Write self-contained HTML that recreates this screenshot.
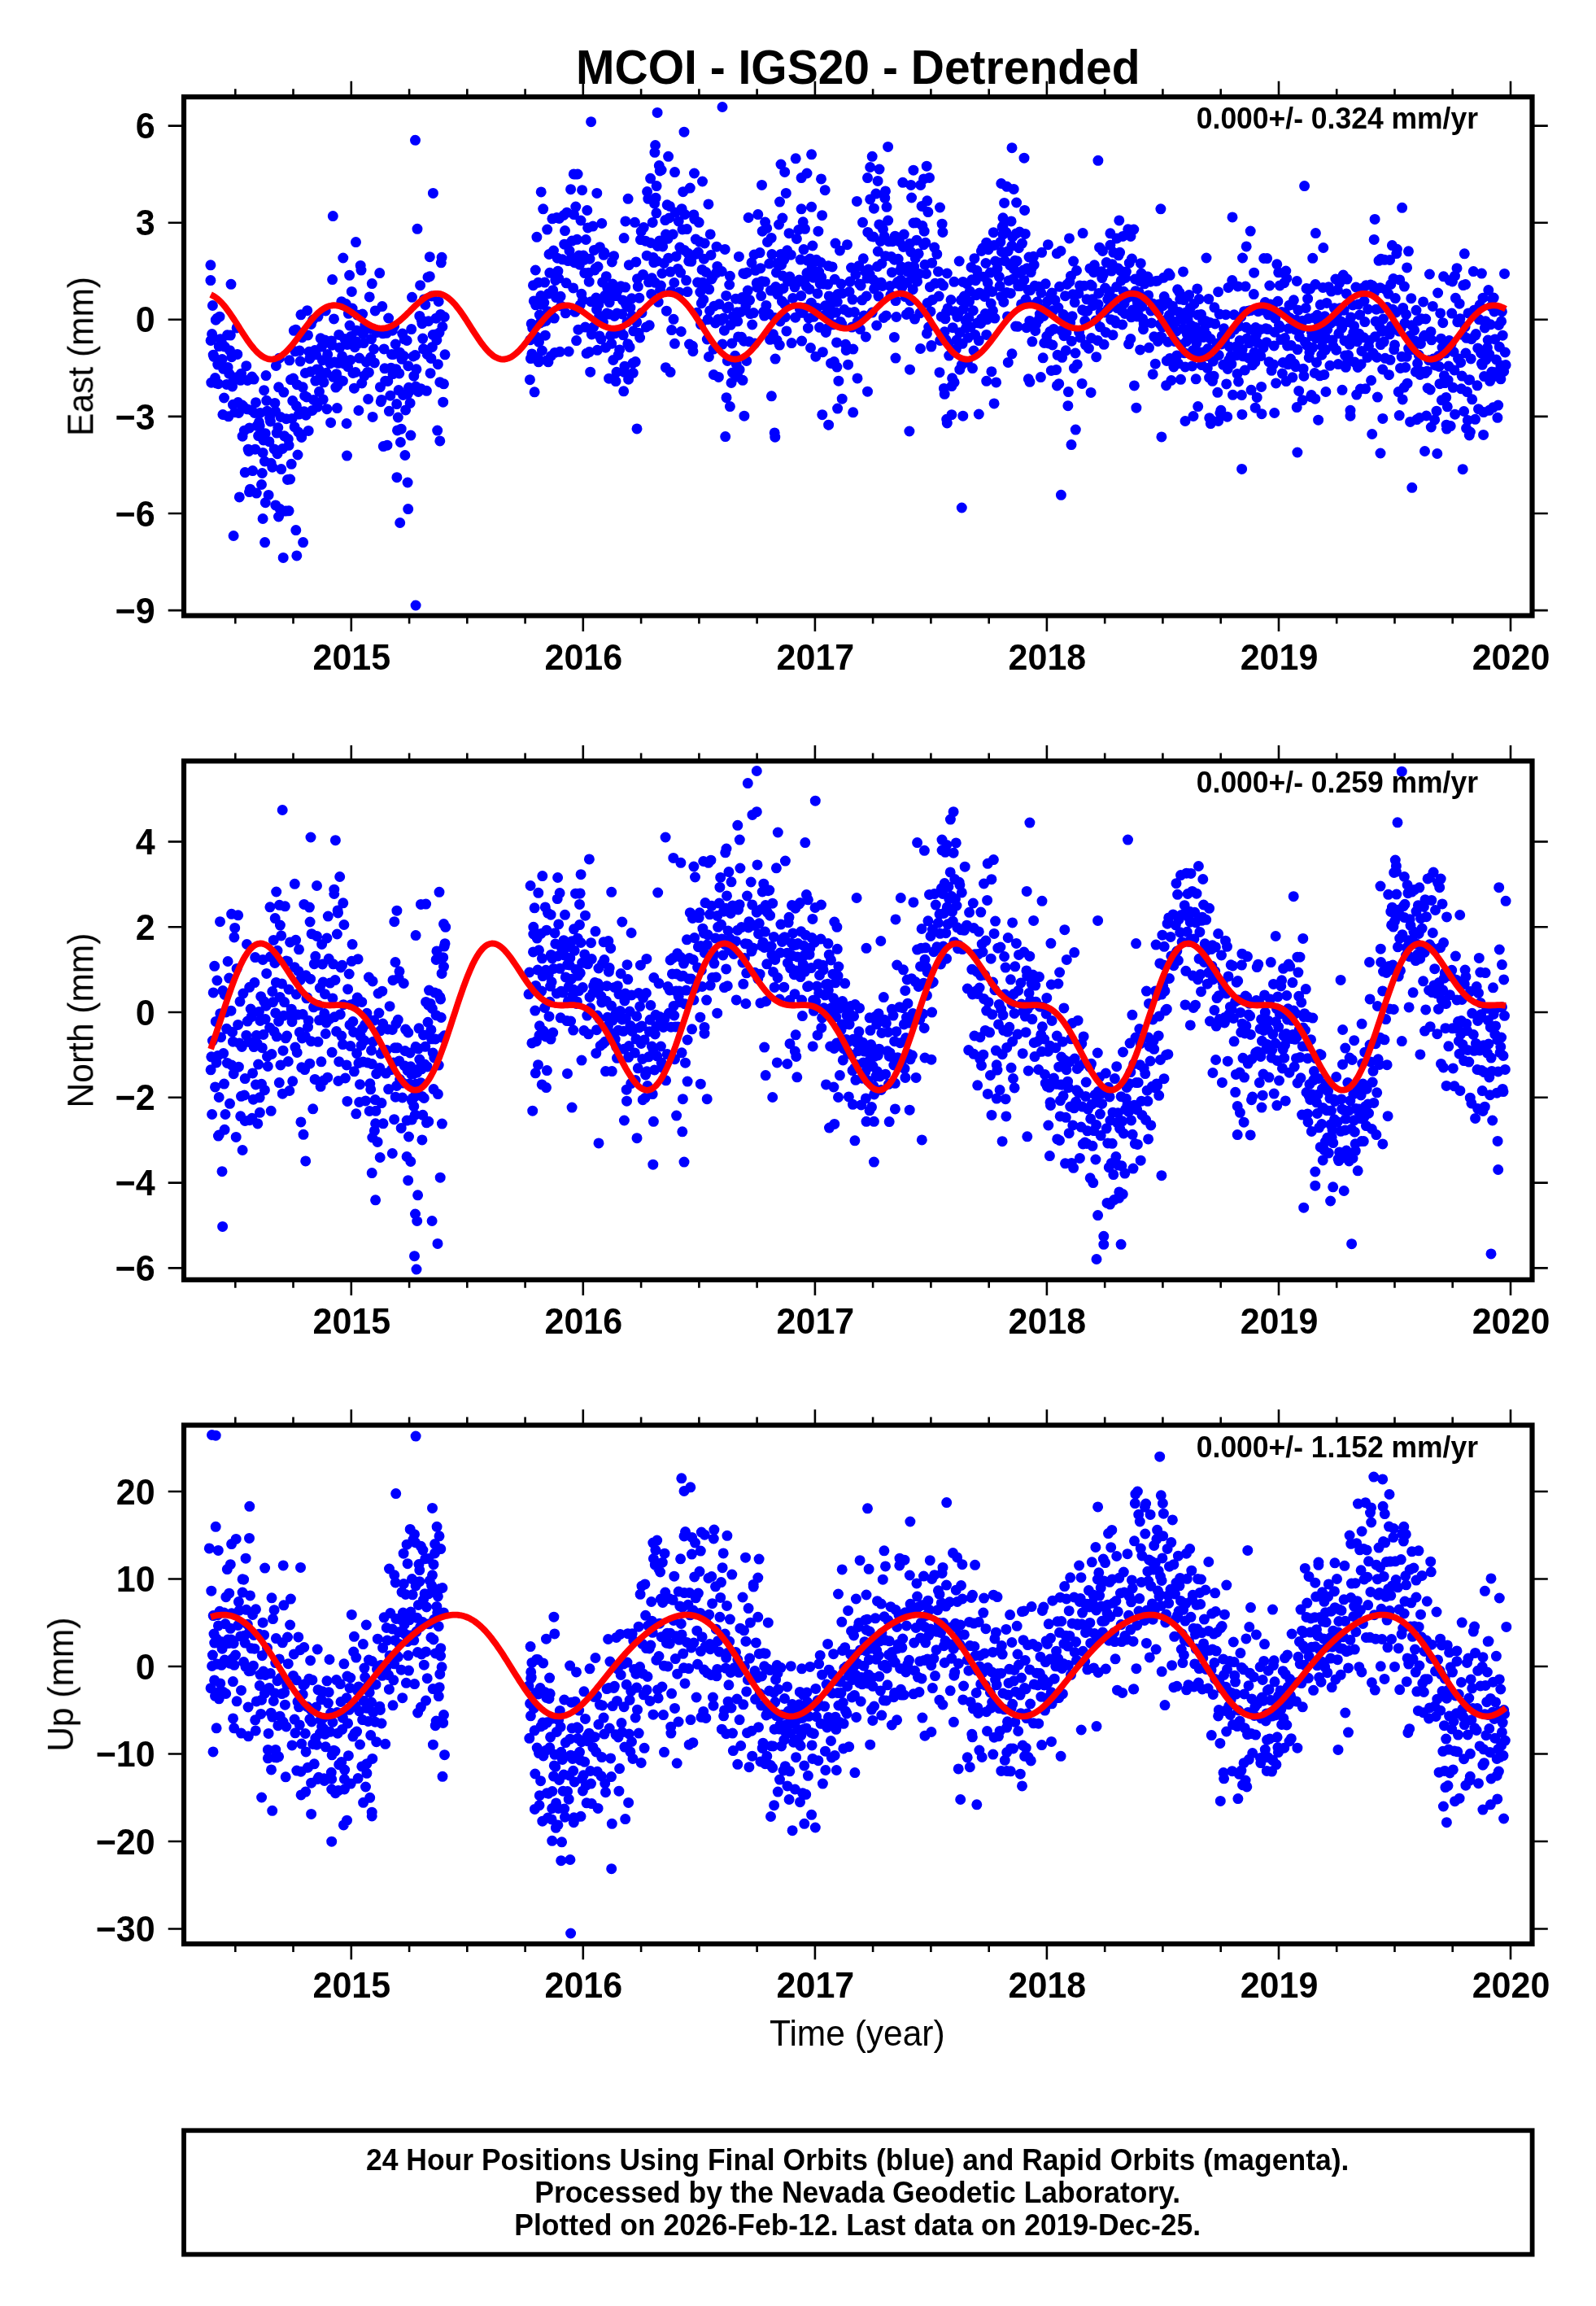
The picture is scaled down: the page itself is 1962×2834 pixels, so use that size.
<!DOCTYPE html>
<html><head><meta charset="utf-8"><title>MCOI - IGS20 - Detrended</title>
<style>html,body{margin:0;padding:0;background:#fff}svg{display:block}text{font-family:"Liberation Sans",sans-serif;fill:#000}.b{font-weight:bold}</style></head>
<body><svg width="1962" height="2834" viewBox="0 0 1962 2834">
<rect width="1962" height="2834" fill="#fff"/>

<g id="panel1">
<path d="M259.1 418.5h0M259.8 470.2h0M260.6 410.5h0M261.4 375.5h0M262.2 436.2h0M263.0 438.4h0M264.5 464.5h0M265.3 393.2h0M266.1 470.9h0M266.9 391.2h0M267.7 448.1h0M268.4 471.7h0M269.2 425.6h0M270.0 389.2h0M270.8 416.7h0M271.6 444.0h0M272.3 421.0h0M273.1 441.6h0M273.9 509.5h0M274.7 453.3h0M275.5 489.0h0M276.2 426.1h0M278.6 472.4h0M279.4 411.8h0M280.1 451.4h0M280.9 511.8h0M281.7 459.2h0M282.5 430.7h0M283.3 412.1h0M284.8 438.7h0M285.6 475.0h0M286.4 497.3h0M287.2 467.1h0M288.7 506.7h0M290.3 463.7h0M291.1 402.9h0M291.8 435.4h0M292.6 494.5h0M293.4 507.5h0M294.2 463.1h0M295.7 467.3h0M296.5 459.2h0M297.3 497.7h0M298.1 536.2h0M298.9 499.1h0M300.4 529.2h0M301.2 580.6h0M302.8 449.7h0M303.5 502.7h0M304.3 467.4h0M305.1 552.2h0M305.9 554.4h0M306.7 525.9h0M307.5 601.2h0M309.0 504.0h0M309.8 463.1h0M310.6 578.6h0M312.1 466.1h0M312.9 507.4h0M313.7 552.2h0M314.5 494.7h0M315.3 606.1h0M316.0 523.3h0M317.6 535.6h0M318.4 518.8h0M319.2 523.4h0M319.9 507.4h0M321.5 595.5h0M322.3 581.5h0M323.1 556.4h0M323.8 541.0h0M324.6 479.7h0M325.4 567.0h0M326.2 532.7h0M327.0 461.6h0M327.7 492.3h0M328.5 505.2h0M330.1 608.4h0M330.9 542.7h0M331.6 513.4h0M332.4 518.0h0M333.2 569.3h0M334.8 574.2h0M337.1 551.9h0M337.9 495.4h0M338.7 505.5h0M339.4 449.5h0M340.2 532.1h0M341.0 557.7h0M341.8 525.5h0M342.6 475.8h0M343.3 440.2h0M344.1 625.5h0M344.9 512.5h0M345.7 576.6h0M347.3 551.5h0M348.8 482.1h0M349.6 535.8h0M351.2 628.1h0M351.9 514.7h0M353.5 589.4h0M354.3 539.6h0M355.1 547.3h0M355.8 442.8h0M356.6 589.0h0M357.4 466.6h0M358.2 570.3h0M359.0 514.4h0M359.7 492.6h0M360.5 465.0h0M361.3 406.3h0M362.1 524.7h0M362.9 431.8h0M363.6 405.2h0M364.4 498.9h0M365.2 472.7h0M366.0 559.0h0M366.8 531.0h0M367.5 509.1h0M368.3 431.1h0M369.1 444.1h0M369.9 386.8h0M370.7 537.4h0M371.4 414.7h0M372.2 475.8h0M373.8 505.7h0M374.6 486.5h0M375.3 458.5h0M376.1 510.2h0M376.9 487.9h0M377.7 381.7h0M378.5 411.9h0M379.2 529.4h0M380.0 432.3h0M380.8 440.7h0M381.6 456.8h0M382.4 398.5h0M383.9 504.4h0M384.7 393.0h0M385.5 491.5h0M387.1 430.6h0M387.8 468.1h0M388.6 435.8h0M389.4 454.1h0M390.2 500.1h0M391.0 389.1h0M391.7 454.2h0M392.5 481.3h0M393.3 464.4h0M394.1 415.8h0M395.6 426.1h0M396.4 442.7h0M397.2 490.9h0M398.0 469.8h0M399.5 418.0h0M400.3 381.9h0M401.1 458.2h0M401.9 502.7h0M402.7 435.6h0M405.8 446.7h0M406.6 519.4h0M407.3 419.0h0M408.1 424.2h0M409.7 463.3h0M410.5 391.9h0M411.2 445.1h0M412.8 476.1h0M413.6 459.7h0M414.4 501.6h0M415.1 474.0h0M415.9 446.3h0M416.7 411.4h0M417.5 427.3h0M418.3 467.6h0M419.8 370.7h0M420.6 437.8h0M421.4 468.2h0M422.9 446.9h0M423.7 416.5h0M425.3 373.5h0M426.1 520.5h0M426.9 423.5h0M427.6 450.6h0M428.4 385.3h0M430.0 400.1h0M430.8 442.5h0M431.5 413.4h0M432.3 358.4h0M433.1 379.1h0M433.9 458.4h0M435.4 477.2h0M436.2 426.7h0M437.0 457.5h0M437.8 419.8h0M438.6 406.2h0M439.3 387.1h0M440.1 422.1h0M440.9 504.5h0M441.7 440.1h0M443.2 326.4h0M444.0 332.1h0M444.8 471.0h0M445.6 386.0h0M446.4 410.5h0M447.1 421.6h0M447.9 461.8h0M448.7 399.6h0M450.3 444.8h0M451.8 457.4h0M452.6 490.5h0M453.4 457.7h0M454.2 364.9h0M454.9 403.7h0M455.7 439.3h0M456.5 416.6h0M457.3 348.6h0M458.1 512.4h0M459.6 429.0h0M460.4 445.9h0M461.2 381.9h0M462.7 408.7h0M466.7 335.6h0M467.4 475.7h0M468.2 493.7h0M469.0 491.4h0M469.8 376.6h0M470.6 409.8h0M471.3 548.6h0M472.1 428.9h0M472.9 452.8h0M473.7 468.2h0M475.2 409.3h0M476.0 547.2h0M476.8 468.4h0M477.6 391.0h0M478.4 505.3h0M479.9 486.2h0M480.7 452.2h0M481.5 435.4h0M482.3 406.2h0M483.0 459.6h0M483.8 435.4h0M484.6 401.0h0M486.2 423.0h0M486.9 453.7h0M487.7 496.6h0M488.5 528.9h0M489.3 513.0h0M490.1 479.6h0M490.8 458.9h0M491.6 433.3h0M492.4 543.5h0M493.2 527.2h0M494.0 441.3h0M494.7 410.1h0M495.5 485.4h0M496.3 437.5h0M497.1 416.8h0M497.9 559.5h0M498.6 503.9h0M500.2 418.5h0M501.0 484.5h0M501.8 449.7h0M502.5 476.3h0M503.3 481.0h0M504.1 495.4h0M504.9 535.1h0M505.7 404.6h0M506.5 365.3h0M508.0 438.0h0M508.8 462.2h0M510.4 436.6h0M511.1 475.1h0M511.9 453.8h0M514.3 481.5h0M515.8 388.4h0M516.6 350.7h0M517.4 477.7h0M518.2 393.4h0M518.9 397.7h0M519.7 416.1h0M520.5 428.8h0M521.3 367.9h0M522.8 374.4h0M524.4 480.3h0M525.2 435.5h0M526.0 340.7h0M526.7 394.7h0M528.3 339.7h0M529.1 458.7h0M529.9 440.4h0M530.6 364.0h0M531.4 426.4h0M532.2 411.5h0M534.5 411.3h0M536.1 391.2h0M536.9 417.9h0M537.7 529.1h0M538.4 447.7h0M539.2 370.5h0M540.0 409.0h0M540.8 469.7h0M541.6 386.4h0M542.3 322.8h0M543.1 316.3h0M543.9 401.5h0M544.7 494.2h0M545.5 471.8h0M546.3 389.5h0M547.0 435.8h0M651.6 417.8h0M652.4 440.6h0M653.2 397.9h0M653.9 434.9h0M654.7 403.2h0M655.5 350.7h0M656.3 369.9h0M657.1 481.8h0M658.6 374.8h0M659.4 414.0h0M661.0 439.1h0M661.8 347.2h0M662.5 420.3h0M663.3 387.1h0M664.1 396.9h0M664.9 363.5h0M665.7 374.3h0M666.4 431.0h0M667.2 370.3h0M668.0 395.2h0M668.8 372.1h0M669.6 347.1h0M670.3 412.2h0M671.1 394.3h0M671.9 443.0h0M672.7 282.1h0M673.5 382.7h0M674.2 361.0h0M675.0 312.5h0M675.8 335.3h0M677.4 437.5h0M678.1 388.4h0M678.9 268.8h0M679.7 356.7h0M680.5 308.0h0M681.3 391.1h0M682.0 433.4h0M682.8 344.4h0M683.6 365.6h0M684.4 267.5h0M685.2 317.2h0M685.9 333.2h0M686.7 342.0h0M687.5 268.5h0M688.3 432.3h0M689.1 364.3h0M689.8 376.1h0M691.4 318.8h0M693.0 264.5h0M693.7 300.2h0M694.5 283.6h0M695.3 384.8h0M696.1 347.8h0M696.9 261.2h0M698.4 320.6h0M699.2 432.0h0M700.0 308.2h0M701.6 232.7h0M702.3 317.3h0M703.1 296.1h0M704.7 353.9h0M705.5 263.6h0M706.2 322.7h0M707.0 383.3h0M707.8 254.1h0M708.6 418.6h0M709.4 294.3h0M710.1 214.0h0M710.9 405.2h0M711.7 314.1h0M712.5 325.2h0M713.3 374.6h0M714.0 271.0h0M714.8 361.3h0M715.6 233.7h0M716.4 368.8h0M717.2 314.0h0M717.9 319.4h0M718.7 335.6h0M719.5 402.1h0M720.3 294.5h0M721.1 434.3h0M721.8 258.5h0M722.6 279.9h0M723.4 335.3h0M724.2 346.2h0M725.0 318.2h0M725.7 457.2h0M726.5 370.7h0M727.3 411.0h0M728.9 278.1h0M729.6 402.1h0M730.4 307.4h0M731.2 331.9h0M732.0 329.8h0M732.8 366.0h0M733.5 380.4h0M734.3 430.3h0M735.1 327.8h0M735.9 374.2h0M736.7 388.0h0M737.4 303.7h0M738.2 368.2h0M739.0 416.8h0M739.8 274.5h0M740.6 346.9h0M741.4 396.1h0M742.1 313.3h0M742.9 310.6h0M743.7 363.3h0M744.5 427.2h0M745.3 339.7h0M746.0 385.1h0M746.8 354.0h0M748.4 386.1h0M749.2 371.6h0M749.9 359.6h0M750.7 412.3h0M751.5 357.3h0M752.3 321.9h0M753.1 349.1h0M753.8 442.5h0M754.6 314.7h0M755.4 388.4h0M756.2 409.7h0M757.0 468.6h0M757.7 363.6h0M758.5 385.1h0M759.3 357.0h0M760.1 436.4h0M761.6 429.9h0M762.4 405.3h0M763.2 351.8h0M764.8 385.9h0M765.5 368.9h0M766.3 411.8h0M767.1 292.6h0M767.9 450.2h0M768.7 353.1h0M769.4 374.1h0M770.2 375.2h0M771.0 395.7h0M771.8 422.7h0M772.6 466.2h0M773.3 325.7h0M774.1 426.7h0M774.9 378.2h0M776.5 366.8h0M777.2 388.3h0M778.0 446.3h0M778.8 406.8h0M780.4 273.3h0M781.2 444.6h0M781.9 321.9h0M782.7 395.8h0M783.5 342.7h0M784.3 352.2h0M785.1 409.2h0M785.8 366.2h0M786.6 415.0h0M787.4 294.6h0M788.2 284.3h0M789.0 384.4h0M790.5 337.4h0M791.3 279.6h0M793.6 296.2h0M794.4 402.0h0M795.2 314.2h0M796.8 244.3h0M797.5 346.8h0M798.3 399.8h0M799.9 298.5h0M800.7 361.4h0M801.4 341.8h0M802.2 273.4h0M803.0 316.4h0M803.8 322.6h0M804.6 250.2h0M805.3 347.3h0M806.1 243.2h0M806.9 261.8h0M807.7 321.0h0M808.5 302.5h0M809.2 371.2h0M810.8 295.9h0M811.6 355.8h0M812.4 351.0h0M813.1 209.0h0M813.9 336.0h0M814.7 302.9h0M816.3 323.4h0M817.8 270.6h0M818.6 288.1h0M819.4 382.2h0M820.2 251.8h0M821.0 293.3h0M821.7 317.2h0M822.5 268.0h0M823.3 253.4h0M824.1 334.1h0M824.9 358.2h0M825.6 405.6h0M827.2 288.0h0M828.0 392.3h0M828.8 347.5h0M829.5 211.6h0M830.3 261.2h0M831.1 315.2h0M833.4 330.4h0M834.2 272.0h0M835.0 359.2h0M835.8 304.0h0M836.6 335.1h0M837.3 407.5h0M838.1 256.7h0M838.9 281.9h0M839.7 235.7h0M841.2 307.4h0M842.0 263.5h0M843.6 344.6h0M844.4 281.6h0M845.1 358.6h0M845.9 311.3h0M846.7 320.9h0M847.5 423.1h0M848.3 231.1h0M849.8 321.3h0M851.4 425.3h0M852.9 263.9h0M853.7 269.1h0M855.3 294.1h0M856.1 312.2h0M856.8 384.2h0M857.6 347.1h0M858.4 310.1h0M859.2 273.3h0M860.0 297.1h0M860.8 359.0h0M861.5 398.7h0M862.3 372.7h0M863.1 331.4h0M863.9 347.2h0M864.7 368.2h0M865.4 318.2h0M866.2 299.0h0M867.8 334.5h0M868.6 353.5h0M869.3 417.0h0M870.1 392.6h0M870.9 250.9h0M871.7 355.6h0M872.5 381.9h0M873.2 287.9h0M874.0 313.4h0M874.8 342.9h0M876.4 340.1h0M877.1 429.1h0M877.9 376.2h0M879.5 396.9h0M880.3 335.6h0M881.0 303.2h0M881.8 327.4h0M882.6 392.5h0M883.4 463.4h0M884.2 373.8h0M886.5 394.0h0M887.3 333.5h0M888.1 423.1h0M889.6 390.9h0M890.4 406.2h0M891.2 306.4h0M892.7 363.4h0M893.5 378.7h0M894.3 443.5h0M895.9 376.9h0M896.7 350.0h0M897.4 339.3h0M898.2 399.3h0M899.0 470.5h0M899.8 421.9h0M901.3 388.7h0M903.7 437.3h0M904.5 367.2h0M905.2 447.5h0M906.0 383.8h0M906.8 394.8h0M907.6 413.9h0M908.4 315.4h0M909.1 454.3h0M909.9 367.5h0M910.7 383.5h0M911.5 414.3h0M912.3 365.6h0M913.0 467.3h0M913.8 335.9h0M914.6 419.2h0M915.4 336.6h0M916.9 376.1h0M917.7 443.4h0M918.5 334.9h0M919.3 357.1h0M920.1 267.5h0M920.8 419.7h0M921.6 368.8h0M922.4 385.6h0M924.0 322.8h0M924.7 399.0h0M926.3 384.6h0M927.1 313.0h0M927.9 422.0h0M928.6 332.3h0M930.2 347.8h0M931.0 353.1h0M931.8 263.6h0M932.5 353.5h0M934.1 310.6h0M934.9 329.7h0M935.7 363.6h0M936.5 345.7h0M937.2 284.2h0M938.8 383.0h0M939.6 388.1h0M940.4 346.2h0M941.9 375.4h0M942.7 280.5h0M943.5 297.4h0M945.0 385.7h0M945.8 324.1h0M946.6 417.3h0M947.4 357.1h0M948.2 292.4h0M948.9 312.6h0M950.5 410.8h0M952.1 390.4h0M953.6 352.6h0M954.4 334.9h0M955.2 323.6h0M956.0 361.8h0M957.5 276.0h0M958.3 424.1h0M959.1 394.9h0M959.9 312.4h0M960.6 325.5h0M961.4 370.3h0M962.2 339.1h0M963.0 354.4h0M963.8 319.1h0M964.5 373.6h0M965.3 389.6h0M966.9 406.9h0M967.7 307.8h0M968.4 345.6h0M970.0 286.7h0M970.8 340.1h0M972.3 313.2h0M973.1 421.6h0M974.7 366.5h0M977.0 352.8h0M977.8 390.2h0M979.4 293.5h0M980.2 347.1h0M981.7 282.5h0M982.5 344.0h0M983.3 379.8h0M984.1 319.1h0M984.8 363.6h0M985.6 419.1h0M986.4 384.3h0M987.2 272.8h0M988.0 306.6h0M988.7 346.3h0M989.5 281.3h0M990.3 378.2h0M991.1 352.0h0M991.9 335.5h0M992.6 320.2h0M993.4 403.2h0M994.2 391.0h0M995.0 355.4h0M995.8 318.0h0M996.5 427.5h0M997.3 372.2h0M998.1 328.6h0M998.9 302.0h0M999.7 341.2h0M1000.4 389.3h0M1002.8 438.2h0M1003.6 319.3h0M1004.3 378.4h0M1005.1 360.7h0M1005.9 284.2h0M1006.7 334.0h0M1007.5 402.3h0M1008.2 348.7h0M1009.0 322.6h0M1009.8 340.8h0M1010.6 264.7h0M1011.4 432.7h0M1012.1 348.9h0M1013.7 387.3h0M1014.5 375.8h0M1015.3 408.4h0M1016.1 404.3h0M1017.6 349.6h0M1018.4 326.8h0M1019.2 363.9h0M1020.0 387.3h0M1020.7 375.1h0M1021.5 446.4h0M1023.1 327.9h0M1024.6 398.8h0M1025.4 444.6h0M1026.2 343.3h0M1027.0 299.1h0M1027.8 384.1h0M1028.5 420.9h0M1029.3 371.0h0M1030.1 361.4h0M1030.9 468.2h0M1032.4 307.9h0M1033.2 395.4h0M1034.0 349.0h0M1034.8 398.3h0M1035.6 360.4h0M1037.9 380.5h0M1039.5 423.3h0M1040.2 430.4h0M1042.6 448.2h0M1043.4 383.9h0M1044.1 358.6h0M1044.9 346.1h0M1046.5 329.0h0M1047.3 402.1h0M1048.0 368.1h0M1048.8 429.1h0M1050.4 383.5h0M1051.9 337.3h0M1054.3 395.1h0M1055.9 326.7h0M1056.6 348.9h0M1057.4 404.6h0M1058.2 350.9h0M1059.8 368.8h0M1060.5 273.3h0M1061.3 317.8h0M1062.1 387.9h0M1063.7 333.6h0M1064.4 414.0h0M1065.2 364.0h0M1066.0 341.9h0M1066.8 285.4h0M1067.6 331.1h0M1069.1 337.2h0M1071.5 290.4h0M1072.2 384.1h0M1073.0 343.4h0M1073.8 291.0h0M1074.6 354.9h0M1076.1 346.4h0M1076.9 238.1h0M1077.7 400.0h0M1078.5 327.6h0M1079.3 309.0h0M1080.0 364.1h0M1080.8 275.9h0M1082.4 296.5h0M1083.2 347.3h0M1083.9 324.0h0M1084.7 351.5h0M1085.5 281.7h0M1086.3 390.5h0M1087.1 290.4h0M1087.8 243.3h0M1088.6 314.7h0M1089.4 387.9h0M1091.7 271.0h0M1092.5 296.7h0M1094.1 351.5h0M1094.9 362.6h0M1095.7 315.5h0M1096.4 334.7h0M1097.2 296.7h0M1099.6 319.2h0M1100.3 290.2h0M1101.1 369.6h0M1101.9 389.5h0M1102.7 348.2h0M1103.5 346.6h0M1104.2 318.3h0M1105.8 296.9h0M1106.6 332.3h0M1107.4 344.1h0M1108.1 327.9h0M1108.9 352.8h0M1110.5 303.4h0M1111.3 288.1h0M1112.8 364.6h0M1114.4 386.4h0M1115.2 347.2h0M1115.9 334.2h0M1116.7 327.7h0M1117.5 383.7h0M1118.3 299.4h0M1119.1 369.6h0M1119.8 309.6h0M1120.6 243.0h0M1121.4 339.7h0M1122.2 355.7h0M1123.0 274.0h0M1123.7 327.6h0M1124.5 392.1h0M1125.3 317.3h0M1126.1 273.7h0M1126.9 295.2h0M1127.6 345.9h0M1129.2 311.8h0M1130.0 336.6h0M1130.8 384.8h0M1131.5 428.5h0M1133.1 253.4h0M1133.9 277.5h0M1135.5 300.7h0M1136.2 284.2h0M1137.0 325.3h0M1137.8 298.3h0M1138.6 336.5h0M1139.4 409.9h0M1140.1 372.5h0M1140.9 260.6h0M1141.7 402.1h0M1142.5 218.4h0M1143.3 352.7h0M1144.0 382.9h0M1144.8 426.1h0M1145.6 323.2h0M1146.4 368.4h0M1148.7 304.1h0M1149.5 348.3h0M1151.8 312.3h0M1153.4 333.7h0M1154.2 364.1h0M1155.0 457.7h0M1155.7 418.4h0M1156.5 348.0h0M1157.3 389.2h0M1158.1 275.2h0M1158.9 285.4h0M1159.6 351.0h0M1160.4 477.4h0M1161.2 407.8h0M1162.0 391.8h0M1162.8 417.3h0M1163.5 383.3h0M1164.3 336.0h0M1165.1 378.9h0M1165.9 422.1h0M1166.7 437.1h0M1169.0 368.5h0M1170.6 464.8h0M1171.3 402.7h0M1172.9 346.3h0M1173.7 382.8h0M1175.3 429.2h0M1176.0 418.0h0M1176.8 389.5h0M1178.4 384.3h0M1179.2 321.0h0M1179.9 408.7h0M1181.5 368.8h0M1182.3 448.4h0M1183.1 422.3h0M1183.8 346.4h0M1184.6 379.5h0M1185.4 364.1h0M1187.0 393.8h0M1187.7 403.2h0M1188.5 348.7h0M1189.3 445.0h0M1190.1 415.1h0M1190.9 390.3h0M1191.6 370.4h0M1192.4 358.0h0M1193.2 402.0h0M1194.0 328.4h0M1194.8 343.8h0M1195.5 452.6h0M1196.3 381.7h0M1197.1 431.0h0M1197.9 317.7h0M1198.7 411.5h0M1199.4 344.7h0M1200.2 362.7h0M1201.0 332.5h0M1201.8 396.7h0M1202.6 337.9h0M1203.3 418.6h0M1204.1 359.9h0M1205.7 397.4h0M1206.5 391.8h0M1208.0 305.0h0M1209.6 340.2h0M1210.4 364.5h0M1211.2 385.6h0M1211.9 323.5h0M1212.7 411.4h0M1213.5 392.6h0M1214.3 347.7h0M1215.1 306.7h0M1215.8 356.0h0M1217.4 335.1h0M1218.2 373.1h0M1219.7 358.4h0M1220.5 381.8h0M1221.3 285.7h0M1222.1 301.4h0M1222.9 391.1h0M1223.6 321.0h0M1226.0 330.2h0M1226.8 322.5h0M1228.3 340.1h0M1229.1 351.6h0M1229.9 297.4h0M1230.7 364.4h0M1231.4 309.5h0M1233.0 277.7h0M1233.8 371.2h0M1234.6 249.4h0M1235.3 320.6h0M1236.9 285.6h0M1237.7 359.5h0M1238.5 388.9h0M1239.2 308.7h0M1240.0 344.9h0M1241.6 325.8h0M1242.4 360.5h0M1243.1 271.9h0M1243.9 302.1h0M1244.7 291.2h0M1245.5 342.9h0M1246.3 330.4h0M1247.8 320.2h0M1248.6 401.1h0M1249.4 286.9h0M1250.2 320.8h0M1251.0 401.3h0M1251.7 351.6h0M1252.5 304.7h0M1253.3 335.3h0M1254.9 351.4h0M1255.6 373.9h0M1256.4 348.2h0M1258.0 332.0h0M1258.8 344.2h0M1259.5 373.1h0M1260.3 287.4h0M1261.1 368.1h0M1261.9 402.7h0M1262.7 329.7h0M1263.4 372.8h0M1264.2 356.5h0M1265.0 316.0h0M1265.8 394.4h0M1266.6 356.7h0M1267.3 334.6h0M1268.1 330.0h0M1268.9 419.8h0M1270.5 315.3h0M1271.2 325.4h0M1272.0 351.3h0M1272.8 406.5h0M1273.6 398.4h0M1275.1 371.0h0M1276.7 352.3h0M1277.5 392.1h0M1278.3 386.1h0M1279.8 359.8h0M1280.6 310.3h0M1282.2 439.8h0M1282.9 388.5h0M1283.7 421.5h0M1284.5 378.4h0M1285.3 348.8h0M1286.1 384.1h0M1286.8 413.3h0M1287.6 370.4h0M1288.4 300.7h0M1289.2 421.9h0M1290.8 407.5h0M1291.5 363.0h0M1292.3 455.4h0M1293.1 360.0h0M1293.9 424.0h0M1294.7 381.6h0M1295.4 404.4h0M1297.0 368.9h0M1298.6 454.4h0M1299.3 311.6h0M1300.1 436.3h0M1300.9 378.1h0M1301.7 471.7h0M1302.5 352.3h0M1304.0 308.5h0M1304.8 406.5h0M1305.6 439.3h0M1307.1 386.4h0M1307.9 412.7h0M1308.7 389.5h0M1309.5 363.7h0M1310.3 430.8h0M1311.0 409.0h0M1311.8 349.5h0M1313.4 481.6h0M1314.9 346.4h0M1315.7 396.6h0M1316.5 339.2h0M1317.3 419.2h0M1318.1 388.7h0M1318.8 361.8h0M1319.6 321.1h0M1320.4 452.4h0M1321.2 371.6h0M1322.0 434.0h0M1323.5 332.5h0M1324.3 447.9h0M1325.9 360.7h0M1326.6 408.2h0M1327.4 350.9h0M1328.2 414.8h0M1330.6 380.8h0M1332.1 381.7h0M1332.9 351.2h0M1333.7 394.4h0M1334.5 424.0h0M1336.0 367.8h0M1336.8 382.2h0M1338.4 428.2h0M1339.9 329.9h0M1340.7 350.0h0M1341.5 415.6h0M1342.3 351.3h0M1343.0 367.7h0M1343.8 375.4h0M1344.6 334.7h0M1345.4 325.8h0M1346.9 394.1h0M1347.7 438.7h0M1349.3 418.4h0M1350.1 374.1h0M1350.8 360.5h0M1351.6 304.2h0M1352.4 401.8h0M1353.2 384.0h0M1354.0 333.7h0M1354.7 341.6h0M1355.5 308.5h0M1356.3 337.8h0M1357.1 423.3h0M1357.9 384.0h0M1358.6 354.0h0M1359.4 408.5h0M1360.2 322.6h0M1361.8 368.0h0M1362.5 379.2h0M1363.3 363.9h0M1364.1 358.5h0M1364.9 286.8h0M1365.7 392.7h0M1366.4 333.1h0M1367.2 324.7h0M1368.0 411.7h0M1368.8 310.3h0M1369.6 367.2h0M1370.4 394.0h0M1371.9 397.1h0M1372.7 352.4h0M1373.5 378.6h0M1374.3 329.7h0M1375.0 313.8h0M1375.8 270.9h0M1376.6 310.3h0M1377.4 332.7h0M1378.2 344.8h0M1378.9 381.8h0M1379.7 399.0h0M1381.3 358.3h0M1382.1 372.9h0M1382.8 385.5h0M1383.6 341.5h0M1384.4 334.1h0M1386.0 366.0h0M1386.7 281.8h0M1387.5 422.8h0M1388.3 323.2h0M1389.1 362.8h0M1389.9 416.5h0M1390.6 389.8h0M1391.4 318.0h0M1392.2 381.0h0M1393.8 282.0h0M1394.5 364.9h0M1395.3 343.0h0M1396.1 357.7h0M1397.7 389.0h0M1398.4 372.0h0M1399.2 386.4h0M1400.0 359.2h0M1400.8 345.4h0M1401.6 429.9h0M1402.3 323.7h0M1403.1 336.1h0M1403.9 376.7h0M1404.7 391.9h0M1405.5 404.7h0M1406.2 398.2h0M1407.0 348.8h0M1407.8 368.6h0M1408.6 346.4h0M1409.4 342.5h0M1410.9 340.1h0M1411.7 362.9h0M1412.5 427.3h0M1414.1 346.2h0M1414.8 382.0h0M1415.6 396.9h0M1417.2 373.2h0M1418.7 413.8h0M1420.3 447.2h0M1421.1 345.4h0M1422.6 345.2h0M1423.4 419.5h0M1424.2 383.7h0M1425.0 374.1h0M1425.8 414.1h0M1426.5 398.6h0M1428.1 414.4h0M1428.9 402.1h0M1429.7 375.7h0M1430.4 341.3h0M1431.2 364.5h0M1432.8 393.6h0M1433.6 473.7h0M1434.3 443.4h0M1435.1 371.4h0M1435.9 420.2h0M1436.7 336.1h0M1437.5 387.3h0M1438.2 440.4h0M1439.0 402.0h0M1439.8 467.5h0M1440.6 404.1h0M1441.4 376.3h0M1442.1 380.2h0M1442.9 450.9h0M1444.5 419.6h0M1445.3 395.6h0M1446.0 407.2h0M1446.8 436.9h0M1447.6 355.8h0M1448.4 446.7h0M1449.2 383.4h0M1450.0 359.5h0M1450.7 367.8h0M1451.5 466.3h0M1452.3 423.7h0M1453.9 393.0h0M1454.6 404.2h0M1455.4 368.6h0M1456.2 433.8h0M1457.0 450.9h0M1457.8 384.1h0M1458.5 419.6h0M1459.3 410.3h0M1460.1 392.5h0M1460.9 364.1h0M1461.7 362.6h0M1462.4 385.4h0M1463.2 378.4h0M1464.0 399.7h0M1464.8 414.7h0M1465.6 449.9h0M1466.3 430.8h0M1467.1 409.1h0M1467.9 373.4h0M1468.7 402.1h0M1469.5 431.7h0M1470.2 465.8h0M1471.0 421.7h0M1471.8 354.9h0M1472.6 387.1h0M1473.4 409.7h0M1474.1 367.6h0M1474.9 433.1h0M1476.5 386.4h0M1477.3 448.6h0M1478.8 395.1h0M1479.6 414.5h0M1480.4 404.7h0M1481.2 432.2h0M1481.9 394.4h0M1482.7 437.6h0M1483.5 411.8h0M1484.3 452.4h0M1485.1 428.4h0M1485.8 367.4h0M1486.6 464.2h0M1487.4 396.4h0M1488.2 416.5h0M1489.0 516.1h0M1490.5 468.3h0M1491.3 444.0h0M1492.1 462.2h0M1492.9 377.8h0M1493.7 397.9h0M1496.0 422.3h0M1496.8 482.3h0M1497.6 358.7h0M1498.3 436.5h0M1499.1 386.1h0M1499.9 507.5h0M1501.5 422.9h0M1502.2 412.9h0M1503.8 448.3h0M1504.6 403.8h0M1505.4 417.9h0M1506.9 386.7h0M1507.7 471.9h0M1509.3 453.5h0M1510.0 353.4h0M1510.8 442.3h0M1511.6 426.2h0M1512.4 410.3h0M1513.2 437.5h0M1513.9 447.3h0M1514.7 344.6h0M1515.5 485.3h0M1517.1 386.8h0M1517.8 404.8h0M1519.4 426.1h0M1520.2 436.7h0M1521.0 459.5h0M1521.7 351.9h0M1522.5 468.9h0M1523.3 400.9h0M1524.1 418.6h0M1524.9 431.2h0M1525.7 389.4h0M1526.4 485.6h0M1527.2 429.6h0M1528.0 437.8h0M1529.6 382.7h0M1530.3 455.0h0M1531.1 352.1h0M1531.9 402.3h0M1532.7 416.3h0M1534.2 382.2h0M1535.0 440.0h0M1535.8 421.6h0M1536.6 405.2h0M1537.4 381.6h0M1538.1 479.3h0M1539.7 448.7h0M1540.5 417.7h0M1541.3 361.6h0M1542.0 433.1h0M1542.8 445.2h0M1543.6 402.5h0M1544.4 411.5h0M1545.2 488.4h0M1545.9 421.3h0M1546.7 382.7h0M1549.1 405.0h0M1549.8 437.6h0M1550.6 475.4h0M1552.2 380.9h0M1553.0 427.5h0M1553.7 317.5h0M1555.3 371.6h0M1556.1 403.8h0M1556.9 420.7h0M1557.6 317.6h0M1558.4 404.6h0M1559.2 386.8h0M1560.0 444.7h0M1560.8 351.0h0M1561.5 373.9h0M1563.1 455.3h0M1564.7 380.2h0M1565.5 447.9h0M1566.2 425.0h0M1567.0 408.2h0M1567.8 391.2h0M1568.6 470.9h0M1570.9 370.3h0M1571.7 334.8h0M1572.5 400.1h0M1573.3 350.9h0M1574.0 402.5h0M1574.8 417.3h0M1575.6 383.5h0M1576.4 459.1h0M1577.2 445.5h0M1578.7 347.7h0M1579.5 415.6h0M1580.3 386.1h0M1581.1 468.6h0M1581.8 342.0h0M1582.6 424.9h0M1583.4 447.8h0M1584.2 403.8h0M1585.0 375.2h0M1585.7 390.8h0M1586.5 441.0h0M1587.3 424.5h0M1588.1 374.3h0M1588.9 463.8h0M1590.4 368.8h0M1591.2 447.0h0M1592.0 405.0h0M1592.8 450.7h0M1593.5 393.3h0M1594.3 345.5h0M1595.1 429.6h0M1595.9 381.2h0M1596.7 480.4h0M1597.4 413.9h0M1599.0 404.3h0M1599.8 402.4h0M1601.3 394.3h0M1602.1 453.2h0M1602.9 462.2h0M1604.5 420.4h0M1605.3 378.6h0M1606.0 354.6h0M1606.8 424.5h0M1607.6 367.2h0M1608.4 391.6h0M1609.2 439.5h0M1609.9 432.9h0M1610.7 355.0h0M1611.5 487.7h0M1612.3 408.0h0M1613.1 412.6h0M1613.8 427.1h0M1615.4 390.6h0M1616.2 458.5h0M1617.0 349.5h0M1617.7 415.7h0M1618.5 445.5h0M1619.3 387.3h0M1620.1 412.8h0M1620.9 395.2h0M1621.6 413.9h0M1622.4 461.8h0M1623.2 374.6h0M1624.0 406.9h0M1624.8 436.2h0M1625.5 425.7h0M1626.3 353.4h0M1627.1 402.1h0M1627.9 460.5h0M1628.7 388.8h0M1629.4 430.1h0M1630.2 415.7h0M1631.0 372.4h0M1631.8 404.9h0M1633.3 352.7h0M1634.9 449.3h0M1635.7 397.5h0M1636.5 358.1h0M1638.0 418.1h0M1638.8 425.4h0M1640.4 378.8h0M1641.1 394.3h0M1641.9 343.0h0M1642.7 430.2h0M1643.5 386.8h0M1644.3 356.3h0M1645.1 447.6h0M1645.8 409.8h0M1646.6 347.8h0M1647.4 378.8h0M1648.2 396.8h0M1649.0 395.3h0M1649.7 403.1h0M1651.3 338.0h0M1652.1 381.2h0M1652.9 418.7h0M1653.6 436.9h0M1654.4 451.3h0M1655.2 360.9h0M1656.0 343.1h0M1656.8 443.9h0M1657.5 436.5h0M1658.3 395.6h0M1659.1 423.3h0M1660.7 390.0h0M1661.4 415.2h0M1663.0 374.9h0M1663.8 408.5h0M1664.6 400.7h0M1665.3 445.1h0M1666.9 353.0h0M1667.7 485.1h0M1668.5 419.7h0M1669.2 451.5h0M1670.0 374.1h0M1670.8 410.3h0M1671.6 387.1h0M1672.4 478.1h0M1673.1 447.7h0M1673.9 431.4h0M1675.5 353.9h0M1676.3 414.7h0M1677.0 370.0h0M1677.8 395.6h0M1678.6 477.8h0M1679.4 350.7h0M1680.9 439.3h0M1681.7 380.0h0M1682.5 425.5h0M1683.3 418.6h0M1684.9 350.1h0M1685.6 467.5h0M1687.2 351.1h0M1688.0 434.0h0M1688.8 435.9h0M1689.5 359.3h0M1690.3 413.8h0M1691.1 395.0h0M1691.9 380.2h0M1692.7 439.2h0M1693.4 488.1h0M1695.0 320.3h0M1695.8 400.8h0M1696.6 353.7h0M1697.3 423.6h0M1698.1 379.0h0M1698.9 407.2h0M1699.7 454.0h0M1700.5 392.0h0M1701.2 420.1h0M1702.0 319.3h0M1702.8 440.3h0M1703.6 355.9h0M1704.4 406.5h0M1705.1 377.5h0M1706.7 361.1h0M1707.5 460.7h0M1708.3 410.8h0M1709.0 442.3h0M1709.8 349.4h0M1710.6 400.7h0M1711.4 301.6h0M1712.2 380.3h0M1712.9 342.6h0M1713.7 429.6h0M1714.5 423.9h0M1715.3 366.6h0M1716.1 384.0h0M1716.8 311.6h0M1718.4 403.6h0M1719.2 481.6h0M1720.0 407.1h0M1720.7 343.9h0M1721.5 452.4h0M1722.3 403.3h0M1723.1 438.3h0M1724.7 378.4h0M1726.2 476.1h0M1727.0 397.1h0M1727.8 451.5h0M1728.6 386.5h0M1729.3 438.3h0M1730.1 471.2h0M1731.7 428.2h0M1733.2 412.8h0M1734.8 366.7h0M1735.6 399.7h0M1737.1 429.4h0M1738.7 405.9h0M1739.5 419.1h0M1740.3 456.9h0M1741.0 381.3h0M1741.8 515.6h0M1742.6 446.6h0M1743.4 394.2h0M1744.2 436.3h0M1744.9 513.5h0M1745.7 460.5h0M1746.5 422.5h0M1747.3 391.8h0M1748.1 457.1h0M1749.6 370.9h0M1750.4 413.4h0M1751.2 412.3h0M1752.0 458.6h0M1752.7 392.0h0M1753.5 511.0h0M1754.3 456.2h0M1755.1 477.0h0M1756.6 442.7h0M1757.4 337.0h0M1758.2 479.0h0M1759.0 407.7h0M1759.8 417.8h0M1761.3 376.4h0M1762.1 441.0h0M1763.7 515.9h0M1764.5 449.0h0M1766.0 505.2h0M1766.8 557.5h0M1767.6 360.0h0M1768.4 437.6h0M1769.1 450.4h0M1769.9 471.7h0M1770.7 384.9h0M1771.5 416.2h0M1772.3 491.8h0M1773.0 427.0h0M1773.8 396.7h0M1774.6 339.8h0M1775.4 461.7h0M1776.2 470.6h0M1776.9 434.1h0M1777.7 488.4h0M1778.5 527.1h0M1779.3 499.8h0M1780.1 467.2h0M1780.8 450.0h0M1781.6 418.5h0M1783.2 523.6h0M1784.0 422.9h0M1784.7 385.1h0M1785.5 345.9h0M1786.3 476.3h0M1787.1 432.5h0M1787.9 454.9h0M1788.6 509.2h0M1789.4 366.3h0M1791.0 329.7h0M1791.8 395.7h0M1792.5 440.7h0M1794.1 373.2h0M1794.9 391.7h0M1795.7 445.5h0M1796.4 477.8h0M1797.2 462.1h0M1798.0 411.4h0M1798.8 350.6h0M1799.6 505.5h0M1800.3 311.8h0M1801.1 401.6h0M1801.9 434.0h0M1802.7 415.3h0M1803.5 481.6h0M1804.3 516.5h0M1805.0 384.9h0M1805.8 467.0h0M1806.6 466.7h0M1807.4 531.1h0M1808.2 440.9h0M1808.9 416.7h0M1809.7 490.8h0M1811.3 333.6h0M1812.1 381.3h0M1813.6 412.2h0M1814.4 410.6h0M1816.0 473.8h0M1816.7 427.9h0M1817.5 502.7h0M1818.3 392.6h0M1819.1 374.8h0M1820.6 433.9h0M1821.4 446.8h0M1822.2 448.3h0M1823.0 366.2h0M1823.8 506.6h0M1824.5 462.6h0M1825.3 402.9h0M1826.1 394.7h0M1826.9 441.9h0M1828.4 427.3h0M1829.2 418.0h0M1830.8 435.4h0M1831.6 468.3h0M1832.3 398.8h0M1833.1 376.6h0M1833.9 457.1h0M1834.7 367.2h0M1835.5 500.8h0M1836.2 366.1h0M1837.0 383.0h0M1837.8 416.9h0M1838.6 462.2h0M1839.4 442.0h0M1840.2 457.2h0M1840.9 513.3h0M1842.5 399.5h0M1843.3 426.3h0M1844.1 460.4h0M1844.8 449.1h0M1845.6 394.9h0M1846.4 382.9h0M1847.2 412.2h0M1848.7 456.5h0M1849.5 336.4h0M1850.3 433.0h0M258.9 325.8h0M258.9 344.6h0M284.0 349.3h0M409.3 265.6h0M437.5 297.6h0M421.8 317.0h0M429.6 338.3h0M408.6 343.6h0M510.5 172.3h0M532.4 237.4h0M513.0 281.3h0M528.3 315.7h0M705.3 213.9h0M665.2 235.9h0M667.7 256.8h0M659.9 291.3h0M658.3 332.0h0M287.1 658.5h0M325.6 666.6h0M348.2 685.4h0M364.8 682.9h0M372.6 666.6h0M363.8 651.6h0M323.1 637.5h0M342.5 635.0h0M355.1 627.8h0M326.3 617.7h0M338.8 620.9h0M294.3 610.9h0M306.5 604.6h0M501.7 625.6h0M491.7 642.5h0M487.9 586.7h0M501.1 593.0h0M426.5 560.1h0M540.8 541.9h0M511.1 744.0h0M651.4 466.7h0M662.1 444.8h0M674.0 444.8h0M726.6 149.7h0M808.1 138.4h0M888.0 131.5h0M841.0 162.2h0M805.6 178.5h0M804.9 187.3h0M821.6 192.3h0M810.3 203.6h0M811.2 209.9h0M799.6 219.3h0M853.5 213.0h0M863.5 223.0h0M733.8 237.4h0M772.1 244.3h0M795.6 235.5h0M807.1 228.6h0M768.9 271.9h0M936.5 227.4h0M960.0 202.0h0M964.7 211.4h0M978.2 194.8h0M997.6 189.8h0M985.1 218.6h0M992.0 213.0h0M1009.5 219.9h0M1014.2 233.7h0M966.3 237.4h0M958.5 248.1h0M985.1 256.8h0M997.6 254.3h0M961.9 268.1h0M940.6 273.1h0M1091.6 180.4h0M1072.2 192.3h0M1069.7 205.5h0M1081.0 208.0h0M1066.5 218.6h0M1079.1 222.4h0M1088.5 234.9h0M1053.4 247.4h0M1069.7 244.9h0M1090.0 254.3h0M1074.4 256.2h0M1122.9 209.2h0M1139.2 204.2h0M1135.5 219.9h0M1109.8 224.3h0M1119.8 227.4h0M1131.7 227.4h0M1139.8 246.8h0M1155.5 255.0h0M1041.5 300.7h0M724.4 432.6h0M751.7 422.3h0M737.0 412.9h0M748.6 465.2h0M758.0 457.3h0M767.4 457.3h0M778.3 458.3h0M766.7 480.8h0M783.0 526.9h0M818.4 451.7h0M824.1 457.3h0M829.4 422.3h0M851.9 431.7h0M871.4 438.5h0M877.3 460.5h0M900.5 458.0h0M906.8 463.0h0M893.0 488.7h0M897.4 499.6h0M914.9 511.2h0M891.7 536.6h0M948.4 486.8h0M953.1 441.1h0M955.0 418.2h0M952.2 531.9h0M952.8 537.2h0M1010.8 509.7h0M1018.6 522.2h0M1029.6 502.1h0M1035.2 490.2h0M1048.7 506.8h0M1054.0 464.9h0M1066.5 481.2h0M1028.9 451.1h0M1099.4 414.4h0M1101.0 440.1h0M1118.5 454.2h0M1117.9 530.0h0M1144.9 424.5h0M1161.2 484.3h0M1169.9 474.6h0M1173.1 469.9h0M1164.3 520.0h0M1163.7 515.3h0M1169.9 509.7h0M1244.0 181.7h0M1259.0 194.2h0M1349.9 197.3h0M1230.8 225.5h0M1237.7 229.3h0M1246.2 232.4h0M1249.6 249.0h0M1259.6 258.4h0M1233.0 267.8h0M1232.1 278.8h0M1233.0 288.2h0M1253.4 285.0h0M1256.5 299.1h0M1212.7 298.2h0M1206.4 308.5h0M1314.5 292.9h0M1331.1 286.6h0M1426.9 256.8h0M1515.0 266.9h0M1603.6 228.6h0M1537.2 284.1h0M1532.2 302.9h0M1527.5 317.0h0M1483.0 317.0h0M1617.4 286.6h0M1626.8 304.5h0M1613.7 317.3h0M1569.8 324.8h0M1580.8 333.0h0M1454.5 333.9h0M1438.2 338.3h0M1541.6 335.2h0M1390.0 290.4h0M1380.3 290.4h0M1373.1 292.9h0M1364.9 301.3h0M1179.8 454.2h0M1183.8 511.2h0M1203.3 509.0h0M1222.1 495.9h0M1212.7 468.3h0M1224.6 469.9h0M1218.9 456.7h0M1239.3 445.4h0M1244.0 434.8h0M1264.3 465.8h0M1265.9 469.3h0M1279.4 463.6h0M1299.4 473.9h0M1312.9 498.7h0M1322.3 528.1h0M1317.0 546.6h0M1304.4 608.3h0M1182.3 624.0h0M1341.1 482.4h0M1330.1 471.4h0M1394.4 473.9h0M1396.9 501.2h0M1417.2 459.9h0M1427.9 536.9h0M1457.0 517.5h0M1467.0 511.5h0M1472.7 499.6h0M1486.8 513.7h0M1488.3 520.6h0M1497.7 517.5h0M1508.7 512.2h0M1500.9 504.3h0M1526.9 509.4h0M1543.2 501.2h0M1551.0 508.7h0M1566.7 507.5h0M1526.6 576.4h0M1594.9 556.0h0M1594.2 500.6h0M1601.1 491.8h0M1612.1 485.5h0M1616.8 490.2h0M1620.6 516.2h0M1629.9 481.5h0M1650.0 479.3h0M1690.1 269.4h0M1723.6 255.3h0M1689.2 294.4h0M1717.4 306.3h0M1731.5 308.8h0M1729.6 328.9h0M1697.6 318.2h0M1708.6 319.5h0M1726.4 352.1h0M1821.4 336.1h0M1788.5 339.2h0M1782.2 344.6h0M1801.6 349.6h0M1829.8 356.5h0M1660.0 504.3h0M1660.0 511.2h0M1699.8 514.4h0M1686.7 533.5h0M1697.0 557.0h0M1720.2 510.6h0M1724.2 490.9h0M1733.6 518.4h0M1751.5 554.5h0M1735.8 599.3h0M1798.2 576.7h0M1759.3 525.0h0M1778.1 522.2h0M1802.6 526.3h0M1806.3 535.0h0M1823.6 534.4h0M1813.5 515.3h0M1830.8 504.3h0M1841.7 498.1h0M1851.1 448.6h0M1844.9 465.8h0" stroke="#00f" stroke-width="13" stroke-linecap="round" fill="none"/>
<path d="M259.1 362.1L261.7 363.4L264.4 365.0L267.0 367.0L269.7 369.4L272.4 372.0L275.0 375.0L277.7 378.3L280.3 381.8L283.0 385.6L285.6 389.5L288.3 393.5L291.0 397.7L293.6 401.8L296.3 406.0L298.9 410.1L301.6 414.2L304.2 418.1L306.9 421.8L309.6 425.3L312.2 428.5L314.9 431.5L317.5 434.1L320.2 436.3L322.9 438.2L325.5 439.7L328.2 440.7L330.8 441.4L333.5 441.6L336.1 441.4L338.8 440.7L341.5 439.7L344.1 438.3L346.8 436.5L349.4 434.3L352.1 431.9L354.7 429.1L357.4 426.2L360.1 423.0L362.7 419.6L365.4 416.1L368.0 412.5L370.7 408.9L373.3 405.3L376.0 401.8L378.7 398.3L381.3 395.0L384.0 391.8L386.6 388.9L389.3 386.1L391.9 383.7L394.6 381.5L397.3 379.6L399.9 378.1L402.6 376.9L405.2 376.0L407.9 375.5L410.6 375.2L413.2 375.4L415.9 375.8L418.5 376.5L421.2 377.5L423.8 378.7L426.5 380.1L429.2 381.8L431.8 383.5L434.5 385.4L437.1 387.4L439.8 389.4L442.4 391.4L445.1 393.3L447.8 395.2L450.4 396.9L453.1 398.6L455.7 400.0L458.4 401.2L461.0 402.2L463.7 403.0L466.4 403.4L469.0 403.6L471.7 403.5L474.3 403.1L477.0 402.4L479.7 401.4L482.3 400.2L485.0 398.7L487.6 396.9L490.3 394.9L492.9 392.7L495.6 390.4L498.3 387.9L500.9 385.3L503.6 382.7L506.2 380.0L508.9 377.4L511.5 374.8L514.2 372.4L516.9 370.1L519.5 367.9L522.2 366.0L524.8 364.3L527.5 363.0L530.1 361.9L532.8 361.2L535.5 360.8L538.1 360.8L540.8 361.1L543.4 361.9L546.1 363.0L548.8 364.6L551.4 366.5L554.1 368.7L556.7 371.3L559.4 374.2L562.0 377.5L564.7 380.9L567.4 384.6L570.0 388.5L572.7 392.5L575.3 396.6L578.0 400.8L580.6 405.0L583.3 409.1L586.0 413.2L588.6 417.1L591.3 420.9L593.9 424.4L596.6 427.7L599.2 430.8L601.9 433.5L604.6 435.8L607.2 437.8L609.9 439.3L612.5 440.5L615.2 441.3L617.9 441.6L620.5 441.5L623.2 440.9L625.8 440.0L628.5 438.7L631.1 437.0L633.8 434.9L636.5 432.5L639.1 429.9L641.8 426.9L644.4 423.8L647.1 420.4L649.7 417.0L652.4 413.4L655.1 409.8L657.7 406.2L660.4 402.7L663.0 399.2L665.7 395.8L668.3 392.6L671.0 389.6L673.7 386.8L676.3 384.3L679.0 382.0L681.6 380.1L684.3 378.5L687.0 377.2L689.6 376.2L692.3 375.6L694.9 375.3L697.6 375.3L700.2 375.7L702.9 376.3L705.6 377.2L708.2 378.4L710.9 379.8L713.5 381.3L716.2 383.1L718.8 384.9L721.5 386.9L724.2 388.9L726.8 390.9L729.5 392.8L732.1 394.7L734.8 396.5L737.4 398.2L740.1 399.7L742.8 400.9L745.4 402.0L748.1 402.8L750.7 403.3L753.4 403.6L756.1 403.6L758.7 403.2L761.4 402.6L764.0 401.7L766.7 400.5L769.3 399.1L772.0 397.3L774.7 395.4L777.3 393.3L780.0 391.0L782.6 388.5L785.3 386.0L787.9 383.3L790.6 380.7L793.3 378.1L795.9 375.5L798.6 373.0L801.2 370.6L803.9 368.4L806.5 366.5L809.2 364.7L811.9 363.3L814.5 362.1L817.2 361.3L819.8 360.8L822.5 360.7L825.2 361.0L827.8 361.7L830.5 362.7L833.1 364.1L835.8 366.0L838.4 368.1L841.1 370.6L843.8 373.5L846.4 376.6L849.1 380.0L851.7 383.7L854.4 387.5L857.0 391.5L859.7 395.6L862.4 399.7L865.0 403.9L867.7 408.1L870.3 412.2L873.0 416.1L875.6 420.0L878.3 423.6L881.0 426.9L883.6 430.0L886.3 432.8L888.9 435.2L891.6 437.3L894.3 439.0L896.9 440.3L899.6 441.1L902.2 441.5L904.9 441.5L907.5 441.1L910.2 440.3L912.9 439.0L915.5 437.4L918.2 435.5L920.8 433.2L923.5 430.6L926.1 427.7L928.8 424.6L931.5 421.3L934.1 417.9L936.8 414.3L939.4 410.7L942.1 407.1L944.7 403.5L947.4 400.0L950.1 396.6L952.7 393.4L955.4 390.3L958.0 387.5L960.7 384.9L963.4 382.6L966.0 380.5L968.7 378.8L971.3 377.5L974.0 376.4L976.6 375.7L979.3 375.3L982.0 375.3L984.6 375.5L987.3 376.1L989.9 377.0L992.6 378.1L995.2 379.4L997.9 380.9L1000.6 382.6L1003.2 384.5L1005.9 386.4L1008.5 388.4L1011.2 390.4L1013.8 392.3L1016.5 394.3L1019.2 396.1L1021.8 397.8L1024.5 399.3L1027.1 400.6L1029.8 401.7L1032.4 402.6L1035.1 403.2L1037.8 403.6L1040.4 403.6L1043.1 403.4L1045.7 402.8L1048.4 402.0L1051.1 400.8L1053.7 399.4L1056.4 397.8L1059.0 395.9L1061.7 393.8L1064.3 391.6L1067.0 389.1L1069.7 386.6L1072.3 384.0L1075.0 381.4L1077.6 378.7L1080.3 376.1L1082.9 373.6L1085.6 371.2L1088.3 369.0L1090.9 366.9L1093.6 365.1L1096.2 363.6L1098.9 362.4L1101.5 361.5L1104.2 360.9L1106.9 360.7L1109.5 360.9L1112.2 361.5L1114.8 362.4L1117.5 363.8L1120.2 365.5L1122.8 367.5L1125.5 370.0L1128.1 372.7L1130.8 375.8L1133.4 379.1L1136.1 382.7L1138.8 386.5L1141.4 390.5L1144.1 394.5L1146.7 398.7L1149.4 402.9L1152.0 407.0L1154.7 411.1L1157.4 415.2L1160.0 419.0L1162.7 422.7L1165.3 426.1L1168.0 429.3L1170.6 432.1L1173.3 434.7L1176.0 436.8L1178.6 438.6L1181.3 440.0L1183.9 440.9L1186.6 441.5L1189.3 441.6L1191.9 441.3L1194.6 440.5L1197.2 439.4L1199.9 437.9L1202.5 436.0L1205.2 433.8L1207.9 431.2L1210.5 428.4L1213.2 425.4L1215.8 422.1L1218.5 418.7L1221.1 415.2L1223.8 411.6L1226.5 408.0L1229.1 404.4L1231.8 400.9L1234.4 397.5L1237.1 394.2L1239.7 391.1L1242.4 388.2L1245.1 385.5L1247.7 383.1L1250.4 381.0L1253.0 379.2L1255.7 377.8L1258.4 376.6L1261.0 375.8L1263.7 375.4L1266.3 375.2L1269.0 375.4L1271.6 375.9L1274.3 376.7L1277.0 377.8L1279.6 379.0L1282.3 380.5L1284.9 382.2L1287.6 384.0L1290.2 385.9L1292.9 387.9L1295.6 389.9L1298.2 391.8L1300.9 393.8L1303.5 395.6L1306.2 397.4L1308.8 398.9L1311.5 400.3L1314.2 401.5L1316.8 402.4L1319.5 403.1L1322.1 403.5L1324.8 403.6L1327.5 403.4L1330.1 403.0L1332.8 402.2L1335.4 401.2L1338.1 399.8L1340.7 398.2L1343.4 396.4L1346.1 394.4L1348.7 392.1L1351.4 389.8L1354.0 387.3L1356.7 384.7L1359.3 382.0L1362.0 379.4L1364.7 376.8L1367.3 374.2L1370.0 371.8L1372.6 369.5L1375.3 367.4L1377.9 365.6L1380.6 364.0L1383.3 362.7L1385.9 361.7L1388.6 361.0L1391.2 360.7L1393.9 360.8L1396.6 361.3L1399.2 362.1L1401.9 363.4L1404.5 365.0L1407.2 367.0L1409.8 369.3L1412.5 372.0L1415.2 375.0L1417.8 378.3L1420.5 381.8L1423.1 385.5L1425.8 389.5L1428.4 393.5L1431.1 397.6L1433.8 401.8L1436.4 406.0L1439.1 410.1L1441.7 414.2L1444.4 418.1L1447.0 421.8L1449.7 425.3L1452.4 428.5L1455.0 431.4L1457.7 434.1L1460.3 436.3L1463.0 438.2L1465.7 439.7L1468.3 440.7L1471.0 441.4L1473.6 441.6L1476.3 441.4L1478.9 440.8L1481.6 439.7L1484.3 438.3L1486.9 436.5L1489.6 434.4L1492.2 431.9L1494.9 429.2L1497.5 426.2L1500.2 423.0L1502.9 419.6L1505.5 416.1L1508.2 412.6L1510.8 408.9L1513.5 405.3L1516.1 401.8L1518.8 398.3L1521.5 395.0L1524.1 391.8L1526.8 388.9L1529.4 386.2L1532.1 383.7L1534.8 381.5L1537.4 379.7L1540.1 378.1L1542.7 376.9L1545.4 376.0L1548.0 375.5L1550.7 375.3L1553.4 375.4L1556.0 375.8L1558.7 376.5L1561.3 377.5L1564.0 378.7L1566.6 380.1L1569.3 381.8L1572.0 383.5L1574.6 385.4L1577.3 387.4L1579.9 389.4L1582.6 391.4L1585.2 393.3L1587.9 395.2L1590.6 396.9L1593.2 398.6L1595.9 400.0L1598.5 401.2L1601.2 402.2L1603.9 403.0L1606.5 403.4L1609.2 403.6L1611.8 403.5L1614.5 403.1L1617.1 402.4L1619.8 401.4L1622.5 400.2L1625.1 398.7L1627.8 396.9L1630.4 394.9L1633.1 392.7L1635.7 390.4L1638.4 387.9L1641.1 385.3L1643.7 382.7L1646.4 380.0L1649.0 377.4L1651.7 374.8L1654.3 372.4L1657.0 370.1L1659.7 367.9L1662.3 366.0L1665.0 364.4L1667.6 363.0L1670.3 361.9L1672.9 361.2L1675.6 360.8L1678.3 360.8L1680.9 361.1L1683.6 361.9L1686.2 363.0L1688.9 364.6L1691.6 366.5L1694.2 368.7L1696.9 371.3L1699.5 374.2L1702.2 377.4L1704.8 380.9L1707.5 384.6L1710.2 388.5L1712.8 392.5L1715.5 396.6L1718.1 400.8L1720.8 404.9L1723.4 409.1L1726.1 413.2L1728.8 417.1L1731.4 420.9L1734.1 424.4L1736.7 427.7L1739.4 430.7L1742.0 433.4L1744.7 435.8L1747.4 437.8L1750.0 439.3L1752.7 440.5L1755.3 441.3L1758.0 441.6L1760.7 441.5L1763.3 441.0L1766.0 440.0L1768.6 438.7L1771.3 437.0L1773.9 434.9L1776.6 432.5L1779.3 429.9L1781.9 426.9L1784.6 423.8L1787.2 420.5L1789.9 417.0L1792.5 413.5L1795.2 409.9L1797.9 406.2L1800.5 402.7L1803.2 399.2L1805.8 395.8L1808.5 392.6L1811.1 389.6L1813.8 386.8L1816.5 384.3L1819.1 382.0L1821.8 380.1L1824.4 378.5L1827.1 377.2L1829.8 376.2L1832.4 375.6L1835.1 375.3L1837.7 375.3L1840.4 375.6L1843.0 376.3L1845.7 377.2L1848.4 378.4L1851.0 379.8" stroke="#f00" stroke-width="7.8" stroke-linejoin="round" stroke-linecap="butt" fill="none"/>
<path d="M289.3 119.1v-9.9M289.3 756.6v9.9M360.5 119.1v-9.9M360.5 756.6v9.9M431.8 119.1v-19.3M431.8 756.6v19.3M503.1 119.1v-9.9M503.1 756.6v9.9M574.3 119.1v-9.9M574.3 756.6v9.9M645.6 119.1v-9.9M645.6 756.6v9.9M716.8 119.1v-19.3M716.8 756.6v19.3M788.1 119.1v-9.9M788.1 756.6v9.9M859.4 119.1v-9.9M859.4 756.6v9.9M930.6 119.1v-9.9M930.6 756.6v9.9M1001.9 119.1v-19.3M1001.9 756.6v19.3M1073.1 119.1v-9.9M1073.1 756.6v9.9M1144.4 119.1v-9.9M1144.4 756.6v9.9M1215.7 119.1v-9.9M1215.7 756.6v9.9M1286.9 119.1v-19.3M1286.9 756.6v19.3M1358.2 119.1v-9.9M1358.2 756.6v9.9M1429.4 119.1v-9.9M1429.4 756.6v9.9M1500.7 119.1v-9.9M1500.7 756.6v9.9M1572.0 119.1v-19.3M1572.0 756.6v19.3M1643.2 119.1v-9.9M1643.2 756.6v9.9M1714.5 119.1v-9.9M1714.5 756.6v9.9M1785.7 119.1v-9.9M1785.7 756.6v9.9M1857.0 119.1v-19.3M1857.0 756.6v19.3M226.0 154.6h-19.3M1883.5 154.6h19.3M226.0 273.7h-19.3M1883.5 273.7h19.3M226.0 392.8h-19.3M1883.5 392.8h19.3M226.0 511.9h-19.3M1883.5 511.9h19.3M226.0 631.0h-19.3M1883.5 631.0h19.3M226.0 750.1h-19.3M1883.5 750.1h19.3" stroke="#000" stroke-width="2.6" fill="none"/>
<rect x="226.0" y="119.1" width="1657.5" height="637.5" fill="none" stroke="#000" stroke-width="6.2"/>
</g>
<g id="panel2">
<path d="M259.1 1314.8h0M259.8 1298.8h0M260.6 1369.5h0M261.4 1279.1h0M262.2 1219.9h0M263.7 1187.3h0M264.5 1335.9h0M265.3 1255.4h0M266.1 1306.0h0M266.9 1205.0h0M267.7 1297.6h0M268.4 1396.1h0M269.2 1348.5h0M270.8 1245.7h0M271.6 1274.7h0M273.9 1217.6h0M274.7 1294.6h0M275.5 1332.1h0M276.2 1222.5h0M277.0 1369.5h0M277.8 1244.0h0M278.6 1264.3h0M279.4 1306.4h0M280.1 1181.5h0M281.7 1202.1h0M282.5 1356.3h0M284.0 1242.2h0M284.8 1309.0h0M285.6 1268.5h0M286.4 1280.2h0M287.2 1319.7h0M287.9 1151.9h0M288.7 1140.4h0M291.1 1190.4h0M292.6 1259.4h0M293.4 1311.2h0M294.2 1282.1h0M295.0 1230.8h0M295.7 1371.8h0M296.5 1347.3h0M297.3 1286.5h0M298.1 1413.5h0M298.9 1221.0h0M300.4 1346.0h0M301.2 1325.6h0M302.8 1272.4h0M303.5 1160.5h0M304.3 1255.1h0M305.9 1280.5h0M306.7 1213.3h0M308.2 1240.0h0M309.0 1249.7h0M309.8 1374.3h0M310.6 1318.9h0M311.4 1351.2h0M312.1 1286.6h0M312.9 1207.6h0M313.7 1176.6h0M314.5 1333.0h0M315.3 1272.6h0M316.0 1282.2h0M316.8 1380.9h0M317.6 1308.1h0M318.4 1243.6h0M319.2 1348.8h0M319.9 1254.4h0M320.7 1224.7h0M321.5 1332.3h0M322.3 1287.7h0M323.1 1179.4h0M323.8 1271.5h0M324.6 1230.7h0M325.4 1339.7h0M326.2 1252.5h0M327.0 1236.2h0M327.7 1196.4h0M328.5 1298.3h0M329.3 1310.5h0M331.6 1263.0h0M332.4 1175.8h0M333.2 1365.3h0M334.0 1295.5h0M334.8 1218.5h0M335.5 1231.6h0M336.3 1155.4h0M337.1 1267.8h0M337.9 1183.5h0M338.7 1244.9h0M339.4 1207.4h0M340.2 1273.8h0M341.0 1168.3h0M342.6 1255.2h0M343.3 1330.6h0M344.1 1225.4h0M344.9 1308.9h0M345.7 1149.9h0M346.5 1208.9h0M347.3 1344.2h0M348.0 1291.2h0M348.8 1248.2h0M349.6 1231.6h0M350.4 1113.8h0M351.2 1275.8h0M351.9 1181.0h0M352.7 1273.1h0M353.5 1181.4h0M354.3 1304.5h0M355.1 1216.0h0M355.8 1340.5h0M356.6 1157.9h0M357.4 1246.4h0M358.2 1240.2h0M359.0 1255.7h0M359.7 1328.8h0M362.1 1188.7h0M362.9 1287.1h0M363.6 1155.3h0M364.4 1222.0h0M365.2 1293.5h0M366.0 1247.1h0M366.8 1193.4h0M367.5 1166.8h0M368.3 1268.6h0M369.1 1204.5h0M369.9 1378.9h0M370.7 1311.8h0M371.4 1275.9h0M372.2 1246.5h0M373.0 1394.3h0M373.8 1111.4h0M374.6 1314.6h0M375.3 1273.7h0M376.1 1198.8h0M376.9 1226.8h0M377.7 1225.9h0M378.5 1262.2h0M379.2 1254.2h0M380.8 1307.2h0M381.6 1203.2h0M382.4 1279.7h0M383.1 1147.7h0M384.7 1362.8h0M385.5 1237.8h0M386.3 1184.7h0M387.1 1326.4h0M387.8 1175.3h0M389.4 1150.4h0M391.0 1280.3h0M391.7 1235.5h0M392.5 1253.8h0M393.3 1214.1h0M394.1 1335.3h0M394.9 1304.8h0M395.6 1160.4h0M396.4 1184.9h0M397.2 1207.0h0M398.0 1327.8h0M398.8 1245.6h0M399.5 1221.7h0M400.3 1270.5h0M401.1 1256.9h0M401.9 1153.0h0M402.7 1324.2h0M404.2 1178.3h0M405.0 1252.5h0M405.8 1208.1h0M408.1 1293.3h0M408.9 1226.9h0M409.7 1184.8h0M411.2 1249.8h0M412.0 1204.5h0M413.6 1267.6h0M414.4 1148.0h0M415.1 1118.9h0M415.9 1328.5h0M416.7 1304.7h0M418.3 1246.7h0M419.0 1188.9h0M419.8 1273.1h0M420.6 1186.3h0M421.4 1283.6h0M422.2 1234.7h0M422.9 1136.5h0M424.5 1325.0h0M426.1 1308.9h0M426.9 1353.4h0M427.6 1215.7h0M429.2 1197.0h0M430.0 1259.7h0M430.8 1285.6h0M431.5 1234.7h0M432.3 1181.3h0M433.1 1160.6h0M433.9 1255.5h0M434.7 1268.4h0M435.4 1316.8h0M437.0 1232.4h0M437.8 1368.8h0M438.6 1294.6h0M439.3 1226.0h0M440.1 1178.7h0M440.9 1306.5h0M441.7 1354.5h0M442.5 1332.7h0M443.2 1273.3h0M444.0 1284.9h0M444.8 1231.4h0M445.6 1264.1h0M446.4 1305.0h0M447.9 1278.8h0M448.7 1259.4h0M449.5 1352.9h0M451.0 1245.3h0M451.8 1305.9h0M453.4 1201.1h0M454.2 1365.5h0M454.9 1331.8h0M455.7 1338.8h0M456.5 1290.9h0M457.3 1307.6h0M458.1 1205.9h0M458.8 1280.2h0M459.6 1254.1h0M460.4 1389.7h0M461.2 1351.6h0M462.0 1365.3h0M462.7 1319.7h0M465.1 1221.0h0M465.9 1245.0h0M466.7 1312.4h0M467.4 1266.8h0M468.2 1295.0h0M469.0 1355.6h0M469.8 1218.2h0M470.6 1258.1h0M471.3 1290.4h0M474.5 1319.1h0M475.2 1290.5h0M476.8 1264.9h0M477.6 1338.6h0M479.1 1236.7h0M481.5 1314.5h0M482.3 1265.4h0M483.0 1204.7h0M483.8 1305.9h0M484.6 1375.7h0M485.4 1287.8h0M486.2 1348.2h0M486.9 1258.2h0M487.7 1334.4h0M488.5 1287.7h0M489.3 1253.3h0M490.1 1202.1h0M490.8 1303.9h0M491.6 1326.6h0M493.2 1386.4h0M494.7 1349.0h0M495.5 1331.0h0M496.3 1208.5h0M497.1 1309.7h0M497.9 1291.5h0M498.6 1265.1h0M500.2 1377.1h0M501.0 1315.6h0M501.8 1269.0h0M502.5 1397.0h0M503.3 1331.9h0M504.1 1294.0h0M504.9 1310.8h0M505.7 1320.2h0M506.5 1353.0h0M507.2 1349.7h0M508.0 1320.0h0M508.8 1359.7h0M509.6 1347.8h0M510.4 1370.1h0M511.1 1286.5h0M511.9 1332.3h0M512.7 1318.2h0M514.3 1288.8h0M515.0 1263.8h0M515.8 1302.1h0M516.6 1312.0h0M517.4 1330.7h0M518.2 1313.8h0M518.9 1347.4h0M519.7 1370.3h0M520.5 1271.9h0M521.3 1349.5h0M522.1 1308.1h0M522.8 1286.3h0M523.6 1231.4h0M524.4 1379.8h0M525.2 1310.9h0M526.0 1256.3h0M526.7 1235.2h0M527.5 1217.1h0M529.1 1233.4h0M529.9 1265.7h0M530.6 1276.8h0M531.4 1239.5h0M532.2 1294.1h0M533.0 1338.6h0M533.8 1299.9h0M534.5 1220.0h0M535.3 1276.9h0M536.1 1247.7h0M536.9 1168.9h0M537.7 1221.2h0M538.4 1344.6h0M539.2 1309.1h0M540.0 1096.3h0M540.8 1225.3h0M541.6 1227.9h0M542.3 1250.5h0M543.1 1196.4h0M543.9 1275.2h0M544.7 1176.7h0M545.5 1135.6h0M546.3 1272.8h0M547.0 1159.7h0M650.0 1221.8h0M650.8 1195.0h0M653.9 1281.9h0M654.7 1365.2h0M655.5 1169.9h0M657.1 1115.8h0M657.8 1242.1h0M658.6 1211.4h0M659.4 1279.7h0M660.2 1153.1h0M661.0 1192.0h0M661.8 1097.3h0M662.5 1167.8h0M663.3 1260.8h0M664.1 1218.8h0M664.9 1147.4h0M665.7 1218.1h0M666.4 1177.8h0M667.2 1199.6h0M668.0 1267.1h0M668.8 1195.8h0M669.6 1238.5h0M670.3 1114.9h0M671.1 1192.3h0M671.9 1143.2h0M673.5 1122.1h0M674.2 1197.9h0M675.0 1249.2h0M675.8 1231.3h0M676.6 1212.1h0M677.4 1173.4h0M678.1 1206.8h0M678.9 1177.8h0M679.7 1269.1h0M680.5 1190.4h0M682.0 1146.7h0M682.8 1159.9h0M684.4 1221.0h0M685.2 1104.6h0M685.9 1175.0h0M686.7 1135.9h0M688.3 1190.3h0M689.1 1250.8h0M689.8 1218.3h0M690.6 1165.6h0M692.2 1219.8h0M693.0 1155.7h0M693.7 1174.0h0M694.5 1124.3h0M695.3 1200.9h0M696.1 1164.3h0M696.9 1254.6h0M697.6 1185.6h0M698.4 1230.6h0M699.2 1212.6h0M700.0 1186.0h0M700.8 1177.4h0M701.6 1255.0h0M702.3 1203.2h0M703.1 1156.7h0M703.9 1223.7h0M704.7 1216.1h0M705.5 1141.8h0M706.2 1168.3h0M707.8 1191.6h0M708.6 1233.4h0M709.4 1230.9h0M710.1 1153.2h0M710.9 1199.1h0M711.7 1217.6h0M712.5 1136.6h0M713.3 1195.8h0M714.0 1158.5h0M715.6 1183.3h0M716.4 1213.6h0M717.9 1266.6h0M718.7 1172.9h0M719.5 1125.2h0M721.8 1248.1h0M722.6 1184.8h0M723.4 1270.8h0M725.0 1225.4h0M725.7 1238.8h0M726.5 1158.7h0M727.3 1178.6h0M728.9 1220.4h0M729.6 1211.6h0M730.4 1219.4h0M731.2 1207.5h0M732.0 1144.6h0M732.8 1294.4h0M733.5 1265.7h0M734.3 1248.1h0M735.1 1208.8h0M735.9 1190.0h0M736.7 1251.9h0M737.4 1212.9h0M738.2 1285.2h0M739.0 1224.3h0M739.8 1232.0h0M740.6 1184.1h0M741.4 1282.7h0M742.1 1157.7h0M742.9 1179.5h0M743.7 1280.3h0M744.5 1316.6h0M745.3 1230.2h0M746.0 1211.7h0M746.8 1250.3h0M747.6 1260.5h0M748.4 1194.2h0M749.2 1189.6h0M749.9 1268.9h0M750.7 1165.4h0M751.5 1236.1h0M752.3 1316.6h0M753.1 1254.1h0M755.4 1213.4h0M756.2 1277.2h0M757.0 1246.2h0M757.7 1286.6h0M758.5 1300.3h0M759.3 1211.7h0M760.1 1266.3h0M760.9 1221.8h0M762.4 1242.4h0M763.2 1196.5h0M764.8 1253.0h0M766.3 1267.3h0M767.1 1289.2h0M767.9 1230.0h0M768.7 1221.1h0M769.4 1252.0h0M770.2 1339.2h0M771.0 1185.7h0M771.8 1203.6h0M772.6 1299.3h0M773.3 1285.5h0M774.1 1243.1h0M774.9 1260.4h0M775.7 1331.6h0M776.5 1223.0h0M777.2 1267.3h0M780.4 1293.9h0M781.2 1327.5h0M781.9 1276.9h0M782.7 1248.9h0M784.3 1312.8h0M785.1 1220.6h0M785.8 1263.0h0M786.6 1236.9h0M787.4 1186.2h0M788.2 1282.5h0M789.0 1260.9h0M789.7 1301.5h0M790.5 1226.4h0M792.1 1277.9h0M792.9 1349.5h0M793.6 1321.0h0M794.4 1220.5h0M795.2 1316.8h0M796.0 1334.6h0M797.5 1298.8h0M798.3 1267.7h0M799.1 1253.3h0M799.9 1235.5h0M801.4 1286.0h0M802.2 1344.6h0M803.0 1289.6h0M803.8 1201.5h0M804.6 1315.0h0M805.3 1271.0h0M806.1 1247.3h0M806.9 1261.4h0M807.7 1297.9h0M810.0 1208.6h0M810.8 1249.6h0M811.6 1257.5h0M812.4 1286.0h0M813.1 1305.9h0M813.9 1311.9h0M815.5 1262.5h0M816.3 1250.9h0M817.0 1252.2h0M818.6 1327.8h0M820.2 1295.6h0M821.0 1212.6h0M822.5 1245.1h0M823.3 1217.0h0M824.1 1179.9h0M824.9 1262.2h0M826.4 1196.9h0M827.2 1177.5h0M828.0 1236.5h0M828.8 1248.0h0M829.5 1301.7h0M830.3 1262.0h0M831.1 1218.1h0M831.9 1197.0h0M832.7 1171.8h0M833.4 1261.9h0M834.2 1224.4h0M835.0 1218.0h0M835.8 1231.6h0M836.6 1176.3h0M837.3 1200.0h0M838.1 1293.8h0M839.7 1199.3h0M840.5 1184.1h0M841.2 1179.4h0M842.0 1233.8h0M843.6 1217.1h0M844.4 1154.8h0M845.1 1278.0h0M846.7 1202.9h0M847.5 1177.5h0M848.3 1121.7h0M849.8 1203.1h0M850.6 1264.8h0M851.4 1128.4h0M852.2 1179.5h0M852.9 1228.9h0M853.7 1152.6h0M854.5 1078.0h0M855.3 1214.5h0M857.6 1189.1h0M858.4 1163.7h0M859.2 1127.8h0M860.0 1121.8h0M860.8 1250.2h0M861.5 1162.5h0M862.3 1192.5h0M863.1 1212.5h0M863.9 1141.2h0M864.7 1058.5h0M865.4 1147.0h0M866.2 1171.0h0M867.0 1109.6h0M868.6 1229.1h0M869.3 1161.1h0M870.1 1148.8h0M870.9 1060.3h0M872.5 1123.8h0M873.2 1211.1h0M874.8 1113.3h0M875.6 1201.4h0M876.4 1176.3h0M877.1 1171.4h0M877.9 1184.1h0M879.5 1153.0h0M880.3 1201.0h0M881.8 1125.4h0M882.6 1139.3h0M884.2 1110.1h0M884.9 1090.4h0M885.7 1078.4h0M886.5 1136.3h0M887.3 1154.1h0M888.8 1174.0h0M889.6 1120.2h0M890.4 1213.6h0M891.2 1160.7h0M892.0 1116.2h0M892.7 1190.9h0M893.5 1100.9h0M894.3 1211.7h0M895.1 1144.0h0M895.9 1071.6h0M896.7 1167.6h0M897.4 1153.5h0M898.2 1122.4h0M899.0 1083.8h0M899.8 1116.9h0M900.6 1112.9h0M902.1 1172.5h0M903.7 1171.2h0M904.5 1156.7h0M905.2 1228.9h0M906.8 1143.2h0M907.6 1118.0h0M909.1 1111.7h0M909.9 1067.0h0M911.5 1139.6h0M913.0 1183.0h0M913.8 1209.3h0M915.4 1177.4h0M916.2 1159.8h0M916.9 1233.5h0M917.7 1195.8h0M918.5 1101.0h0M919.3 1160.3h0M920.1 1140.0h0M920.8 1132.7h0M923.2 1084.0h0M924.0 1169.1h0M924.7 1111.9h0M925.5 1164.9h0M927.1 1137.2h0M927.9 1195.3h0M930.2 1121.2h0M931.0 1062.9h0M931.8 1202.8h0M932.5 1147.7h0M933.3 1134.8h0M934.1 1197.2h0M934.9 1232.7h0M935.7 1117.5h0M936.5 1162.5h0M937.2 1096.0h0M938.0 1158.2h0M938.8 1086.2h0M939.6 1164.4h0M940.4 1145.1h0M941.1 1112.6h0M941.9 1230.4h0M942.7 1184.8h0M943.5 1121.3h0M944.3 1094.7h0M945.0 1163.7h0M945.8 1094.1h0M946.6 1125.2h0M948.2 1163.0h0M948.9 1173.4h0M949.7 1110.2h0M950.5 1194.5h0M951.3 1151.4h0M952.1 1213.4h0M952.8 1179.4h0M954.4 1066.8h0M956.0 1201.6h0M958.3 1228.0h0M959.1 1171.0h0M959.9 1136.1h0M961.4 1157.4h0M963.0 1152.9h0M963.8 1213.2h0M964.5 1151.7h0M967.7 1171.2h0M968.4 1183.4h0M969.2 1133.8h0M970.0 1127.3h0M970.8 1229.3h0M971.6 1189.8h0M972.3 1190.0h0M973.1 1159.0h0M973.9 1174.6h0M974.7 1146.9h0M975.5 1161.7h0M976.3 1197.7h0M977.0 1221.7h0M977.8 1116.2h0M978.6 1161.2h0M979.4 1193.0h0M980.2 1175.9h0M980.9 1159.5h0M982.5 1110.9h0M984.1 1200.6h0M984.8 1144.8h0M985.6 1229.1h0M986.4 1248.6h0M987.2 1185.0h0M988.0 1162.2h0M988.7 1174.1h0M989.5 1194.1h0M990.3 1149.2h0M992.6 1212.6h0M993.4 1105.8h0M994.2 1211.8h0M995.0 1173.2h0M995.8 1165.3h0M997.3 1189.6h0M998.1 1152.6h0M998.9 1129.4h0M999.7 1229.2h0M1000.4 1242.3h0M1001.2 1158.2h0M1002.0 1115.5h0M1002.8 1231.1h0M1004.3 1212.1h0M1005.1 1272.2h0M1005.9 1184.7h0M1006.7 1220.6h0M1007.5 1198.5h0M1009.0 1154.0h0M1009.8 1263.2h0M1010.6 1250.8h0M1011.4 1186.3h0M1012.1 1191.8h0M1012.9 1238.8h0M1014.5 1223.1h0M1015.3 1209.8h0M1016.1 1246.7h0M1017.6 1209.3h0M1018.4 1216.9h0M1019.2 1173.3h0M1020.7 1286.0h0M1021.5 1179.9h0M1022.3 1238.5h0M1023.1 1249.2h0M1023.9 1197.2h0M1024.6 1226.8h0M1025.4 1288.4h0M1026.2 1235.1h0M1027.0 1207.8h0M1027.8 1249.6h0M1028.5 1282.1h0M1029.3 1166.3h0M1030.1 1199.3h0M1030.9 1188.0h0M1031.7 1239.4h0M1032.4 1321.6h0M1033.2 1280.5h0M1034.0 1265.8h0M1034.8 1259.1h0M1035.6 1230.5h0M1036.3 1302.9h0M1037.1 1288.7h0M1037.9 1259.2h0M1038.7 1208.6h0M1039.5 1236.7h0M1040.2 1277.4h0M1041.0 1248.0h0M1041.8 1292.6h0M1042.6 1280.7h0M1043.4 1347.9h0M1044.1 1259.0h0M1045.7 1236.4h0M1046.5 1247.6h0M1047.3 1296.6h0M1048.0 1315.6h0M1048.8 1277.3h0M1049.6 1248.9h0M1050.4 1312.9h0M1051.2 1234.6h0M1051.9 1327.3h0M1052.7 1281.0h0M1053.5 1308.4h0M1054.3 1275.9h0M1055.1 1291.6h0M1055.9 1267.8h0M1056.6 1238.9h0M1059.8 1325.2h0M1060.5 1281.2h0M1061.3 1305.9h0M1062.1 1291.9h0M1063.7 1317.6h0M1064.4 1349.9h0M1065.2 1292.4h0M1066.0 1312.7h0M1066.8 1328.1h0M1068.3 1304.0h0M1069.1 1250.8h0M1069.9 1266.3h0M1070.7 1283.8h0M1071.5 1360.6h0M1072.2 1287.0h0M1073.0 1310.3h0M1073.8 1334.5h0M1074.6 1344.9h0M1075.4 1298.2h0M1076.1 1249.3h0M1076.9 1322.5h0M1077.7 1258.8h0M1078.5 1316.8h0M1079.3 1297.0h0M1080.0 1245.7h0M1080.8 1289.2h0M1081.6 1322.9h0M1083.2 1339.4h0M1083.9 1269.5h0M1085.5 1253.2h0M1086.3 1225.6h0M1087.1 1253.3h0M1088.6 1320.2h0M1089.4 1257.6h0M1091.0 1291.8h0M1091.7 1268.4h0M1092.5 1332.3h0M1093.3 1298.2h0M1094.1 1293.9h0M1096.4 1240.3h0M1098.0 1248.1h0M1098.8 1309.0h0M1099.6 1279.7h0M1100.3 1331.3h0M1101.9 1267.7h0M1102.7 1186.0h0M1103.5 1299.7h0M1105.8 1237.7h0M1106.6 1281.7h0M1108.1 1305.3h0M1109.7 1238.6h0M1110.5 1191.8h0M1111.3 1258.9h0M1112.0 1313.3h0M1112.8 1217.4h0M1113.6 1275.5h0M1114.4 1250.3h0M1115.2 1204.0h0M1115.9 1233.2h0M1117.5 1295.4h0M1118.3 1257.1h0M1119.1 1301.8h0M1120.6 1202.7h0M1121.4 1297.0h0M1122.2 1245.6h0M1125.3 1206.6h0M1126.1 1252.1h0M1127.6 1167.1h0M1129.2 1212.5h0M1130.8 1253.0h0M1131.5 1187.7h0M1132.3 1165.3h0M1133.1 1141.5h0M1133.9 1210.1h0M1134.7 1246.1h0M1135.5 1208.2h0M1136.2 1263.5h0M1137.0 1179.3h0M1137.8 1164.8h0M1138.6 1188.8h0M1139.4 1223.4h0M1140.1 1194.5h0M1140.9 1131.8h0M1142.5 1099.4h0M1144.0 1150.5h0M1144.8 1208.5h0M1145.6 1244.1h0M1146.4 1142.3h0M1147.2 1207.0h0M1147.9 1169.7h0M1148.7 1098.6h0M1150.3 1112.1h0M1151.8 1163.8h0M1153.4 1134.3h0M1154.2 1165.0h0M1155.0 1123.5h0M1155.7 1147.3h0M1156.5 1185.0h0M1157.3 1091.8h0M1158.1 1045.0h0M1158.9 1098.5h0M1159.6 1163.1h0M1160.4 1122.4h0M1161.2 1085.6h0M1162.0 1047.3h0M1162.8 1146.7h0M1163.5 1178.2h0M1164.3 1114.9h0M1165.1 1135.8h0M1165.9 1090.0h0M1166.7 1104.6h0M1168.2 1071.9h0M1169.8 1101.5h0M1170.6 1120.3h0M1171.3 1132.2h0M1172.1 1048.2h0M1172.9 1157.7h0M1173.7 1080.6h0M1174.5 1104.8h0M1175.3 1035.9h0M1176.0 1113.0h0M1176.8 1139.8h0M1177.6 1165.7h0M1178.4 1161.4h0M1179.2 1084.3h0M1179.9 1087.6h0M1181.5 1142.8h0M1182.3 1096.9h0M1183.1 1166.6h0M1185.4 1143.3h0M1186.2 1065.2h0M1188.5 1137.2h0M1189.3 1215.0h0M1191.6 1121.3h0M1194.8 1191.3h0M1195.5 1221.9h0M1196.3 1110.0h0M1197.1 1140.6h0M1197.9 1273.0h0M1198.7 1172.7h0M1200.2 1217.8h0M1201.0 1194.2h0M1201.8 1221.5h0M1202.6 1172.6h0M1203.3 1144.9h0M1204.1 1214.0h0M1204.9 1274.7h0M1205.7 1199.0h0M1206.5 1309.5h0M1207.2 1160.2h0M1208.0 1170.0h0M1208.8 1296.2h0M1209.6 1227.6h0M1210.4 1198.2h0M1211.2 1266.4h0M1211.9 1156.1h0M1212.7 1242.1h0M1214.3 1344.4h0M1215.1 1231.7h0M1216.6 1268.8h0M1217.4 1321.5h0M1218.2 1178.2h0M1219.0 1370.4h0M1219.7 1246.7h0M1220.5 1207.1h0M1222.1 1147.4h0M1222.9 1216.7h0M1223.6 1132.1h0M1224.4 1291.1h0M1225.2 1308.8h0M1226.0 1315.1h0M1226.8 1165.2h0M1227.5 1258.9h0M1228.3 1234.4h0M1229.1 1339.6h0M1229.9 1164.0h0M1230.7 1240.2h0M1232.2 1295.7h0M1233.0 1247.4h0M1233.8 1266.3h0M1234.6 1175.5h0M1235.3 1222.1h0M1236.1 1189.1h0M1236.9 1371.9h0M1237.7 1287.4h0M1238.5 1268.1h0M1239.2 1152.5h0M1240.0 1227.0h0M1240.8 1262.3h0M1242.4 1203.8h0M1243.1 1312.3h0M1243.9 1233.7h0M1244.7 1280.0h0M1245.5 1325.5h0M1246.3 1221.6h0M1247.0 1245.4h0M1247.8 1187.8h0M1249.4 1159.4h0M1251.0 1271.1h0M1251.7 1217.5h0M1252.5 1173.4h0M1254.9 1208.0h0M1255.6 1234.0h0M1257.2 1294.7h0M1258.0 1243.1h0M1258.8 1170.0h0M1260.3 1249.1h0M1261.1 1268.7h0M1261.9 1192.9h0M1262.7 1199.4h0M1263.4 1239.9h0M1264.2 1315.9h0M1265.0 1220.5h0M1265.8 1175.2h0M1266.6 1229.5h0M1267.3 1235.0h0M1268.1 1209.1h0M1268.9 1252.6h0M1269.7 1198.1h0M1270.5 1198.7h0M1271.2 1281.5h0M1272.0 1298.6h0M1272.8 1211.1h0M1273.6 1231.3h0M1275.1 1280.2h0M1276.7 1314.5h0M1277.5 1200.6h0M1278.3 1237.2h0M1279.0 1276.7h0M1279.8 1271.7h0M1280.6 1292.3h0M1281.4 1261.8h0M1282.2 1237.6h0M1283.7 1277.0h0M1284.5 1320.5h0M1285.3 1331.2h0M1286.1 1245.9h0M1286.8 1226.4h0M1288.4 1292.2h0M1290.0 1336.3h0M1290.8 1285.3h0M1291.5 1358.5h0M1292.3 1210.0h0M1293.1 1254.5h0M1295.4 1325.1h0M1297.8 1287.7h0M1298.6 1332.3h0M1299.3 1273.1h0M1300.9 1209.0h0M1301.7 1311.2h0M1302.5 1401.5h0M1303.2 1371.9h0M1304.0 1333.1h0M1304.8 1299.0h0M1305.6 1333.2h0M1306.4 1280.2h0M1307.1 1346.8h0M1307.9 1238.9h0M1308.7 1302.8h0M1309.5 1429.8h0M1310.3 1373.3h0M1311.0 1314.7h0M1312.6 1329.2h0M1313.4 1336.6h0M1314.2 1392.7h0M1314.9 1305.0h0M1315.7 1360.0h0M1316.5 1276.8h0M1317.3 1429.4h0M1318.1 1257.5h0M1318.8 1382.9h0M1319.6 1435.3h0M1320.4 1361.8h0M1321.2 1301.1h0M1322.7 1354.2h0M1323.5 1339.8h0M1324.3 1313.5h0M1325.1 1254.2h0M1325.9 1342.9h0M1326.6 1311.0h0M1327.4 1423.4h0M1328.2 1284.5h0M1329.0 1385.1h0M1329.8 1282.5h0M1330.6 1360.1h0M1331.3 1406.0h0M1332.1 1273.9h0M1332.9 1306.6h0M1333.7 1404.0h0M1334.5 1347.4h0M1335.2 1330.0h0M1336.0 1405.4h0M1336.8 1389.8h0M1337.6 1363.1h0M1339.9 1311.4h0M1340.7 1374.9h0M1341.5 1307.3h0M1342.3 1357.2h0M1343.0 1408.3h0M1343.8 1453.6h0M1344.6 1389.6h0M1346.2 1345.4h0M1346.9 1425.0h0M1347.7 1382.6h0M1349.3 1294.0h0M1350.1 1341.6h0M1350.8 1354.8h0M1351.6 1323.9h0M1352.4 1369.1h0M1353.2 1395.6h0M1354.0 1343.8h0M1354.7 1356.5h0M1359.4 1319.0h0M1360.2 1386.8h0M1361.0 1478.4h0M1361.8 1405.0h0M1362.5 1336.3h0M1363.3 1434.7h0M1364.1 1347.9h0M1364.9 1377.0h0M1366.4 1429.4h0M1367.2 1405.3h0M1368.0 1367.2h0M1368.8 1443.6h0M1369.6 1474.6h0M1370.4 1325.6h0M1371.9 1421.6h0M1372.7 1310.7h0M1373.5 1379.8h0M1374.3 1367.8h0M1375.0 1432.1h0M1375.8 1464.9h0M1376.6 1387.0h0M1378.2 1347.7h0M1378.9 1432.8h0M1379.7 1377.8h0M1380.5 1293.0h0M1381.3 1393.0h0M1382.8 1442.1h0M1383.6 1363.4h0M1384.4 1350.3h0M1385.2 1336.4h0M1386.0 1358.2h0M1387.5 1366.5h0M1388.3 1331.8h0M1389.1 1282.1h0M1389.9 1317.6h0M1390.6 1376.9h0M1392.2 1394.3h0M1393.0 1436.1h0M1393.8 1307.6h0M1394.5 1358.2h0M1395.3 1405.6h0M1396.1 1275.1h0M1396.9 1330.6h0M1397.7 1363.7h0M1398.4 1406.4h0M1399.2 1330.4h0M1400.8 1264.5h0M1401.6 1308.8h0M1402.3 1282.4h0M1403.1 1353.2h0M1403.9 1370.4h0M1406.2 1313.1h0M1407.8 1319.6h0M1408.6 1376.3h0M1409.4 1218.1h0M1410.2 1340.2h0M1410.9 1353.3h0M1411.7 1275.1h0M1412.5 1233.4h0M1413.3 1286.2h0M1414.1 1304.0h0M1414.8 1382.9h0M1415.6 1278.7h0M1416.4 1335.3h0M1417.2 1252.9h0M1418.0 1279.2h0M1418.7 1289.3h0M1419.5 1336.7h0M1420.3 1218.0h0M1421.1 1161.1h0M1421.9 1331.9h0M1422.6 1223.7h0M1424.2 1272.9h0M1425.0 1248.9h0M1425.8 1183.9h0M1426.5 1302.5h0M1428.1 1222.1h0M1428.9 1149.2h0M1429.7 1211.7h0M1430.4 1186.0h0M1431.2 1163.3h0M1432.0 1217.8h0M1432.8 1241.9h0M1433.6 1296.5h0M1434.3 1240.2h0M1435.1 1135.2h0M1435.9 1295.7h0M1436.7 1127.9h0M1437.5 1202.5h0M1439.0 1151.4h0M1439.8 1174.9h0M1442.1 1123.9h0M1442.9 1186.7h0M1445.3 1137.0h0M1446.0 1085.7h0M1446.8 1169.0h0M1447.6 1099.3h0M1448.4 1180.3h0M1449.2 1129.9h0M1450.7 1145.8h0M1451.5 1075.6h0M1452.3 1124.4h0M1453.1 1157.7h0M1456.2 1112.7h0M1457.0 1234.9h0M1457.8 1193.3h0M1458.5 1073.2h0M1459.3 1145.3h0M1460.1 1098.5h0M1460.9 1126.9h0M1461.7 1157.3h0M1462.4 1120.2h0M1463.2 1133.2h0M1464.0 1073.4h0M1465.6 1095.4h0M1466.3 1199.1h0M1467.1 1238.5h0M1467.9 1153.9h0M1468.7 1121.3h0M1469.5 1235.2h0M1470.2 1133.8h0M1471.0 1098.2h0M1472.6 1203.7h0M1473.4 1064.5h0M1474.1 1178.3h0M1474.9 1145.4h0M1475.7 1197.5h0M1476.5 1218.7h0M1477.3 1131.3h0M1478.0 1127.2h0M1478.8 1080.5h0M1479.6 1112.0h0M1480.4 1182.5h0M1481.2 1159.8h0M1481.9 1169.3h0M1482.7 1130.3h0M1484.3 1209.2h0M1485.8 1195.3h0M1486.6 1116.3h0M1487.4 1255.0h0M1489.0 1166.6h0M1489.8 1187.2h0M1490.5 1161.8h0M1491.3 1203.7h0M1492.1 1200.2h0M1492.9 1241.5h0M1493.7 1193.7h0M1494.4 1163.9h0M1495.2 1261.1h0M1496.0 1226.6h0M1497.6 1147.5h0M1498.3 1223.7h0M1499.1 1252.6h0M1501.5 1174.0h0M1503.0 1207.2h0M1503.8 1212.8h0M1505.4 1256.9h0M1506.1 1250.2h0M1506.9 1252.6h0M1507.7 1221.0h0M1508.5 1163.3h0M1509.3 1304.2h0M1510.0 1199.9h0M1510.8 1246.6h0M1512.4 1237.4h0M1513.2 1185.8h0M1513.9 1240.1h0M1515.5 1186.9h0M1516.3 1251.4h0M1517.1 1279.8h0M1518.6 1230.9h0M1519.4 1320.4h0M1520.2 1207.2h0M1521.0 1229.0h0M1521.7 1205.5h0M1522.5 1229.0h0M1524.1 1318.0h0M1524.9 1244.4h0M1525.7 1268.6h0M1526.4 1186.1h0M1527.2 1258.2h0M1528.0 1300.3h0M1529.6 1324.1h0M1530.3 1270.0h0M1531.1 1224.0h0M1531.9 1260.8h0M1532.7 1225.4h0M1533.5 1175.6h0M1534.2 1307.1h0M1535.0 1247.0h0M1535.8 1233.2h0M1536.6 1248.7h0M1537.4 1271.4h0M1538.9 1301.4h0M1539.7 1348.1h0M1543.6 1293.8h0M1544.4 1229.6h0M1545.2 1188.6h0M1545.9 1292.4h0M1546.7 1185.2h0M1547.5 1230.7h0M1548.3 1330.6h0M1549.1 1264.4h0M1549.8 1298.4h0M1550.6 1252.7h0M1551.4 1279.3h0M1552.2 1346.2h0M1553.0 1320.1h0M1553.7 1266.4h0M1554.5 1222.9h0M1555.3 1244.2h0M1556.1 1259.9h0M1556.9 1289.1h0M1557.6 1283.4h0M1558.4 1265.1h0M1559.2 1254.6h0M1560.0 1324.1h0M1561.5 1227.9h0M1562.3 1182.6h0M1563.1 1300.0h0M1563.9 1290.1h0M1564.7 1271.1h0M1565.5 1209.4h0M1566.2 1344.1h0M1567.8 1282.3h0M1568.6 1255.8h0M1569.4 1239.6h0M1570.1 1303.5h0M1570.9 1224.9h0M1571.7 1262.1h0M1572.5 1328.0h0M1573.3 1246.2h0M1574.0 1241.6h0M1574.8 1211.9h0M1575.6 1204.8h0M1576.4 1312.9h0M1577.2 1290.0h0M1577.9 1272.9h0M1578.7 1300.2h0M1579.5 1284.4h0M1580.3 1352.9h0M1581.1 1270.6h0M1581.8 1223.5h0M1582.6 1252.9h0M1583.4 1239.8h0M1584.2 1185.1h0M1585.0 1318.2h0M1585.7 1187.6h0M1587.3 1276.4h0M1588.1 1254.1h0M1588.9 1207.6h0M1589.6 1271.4h0M1590.4 1241.9h0M1591.2 1311.0h0M1592.0 1277.3h0M1592.8 1245.5h0M1593.5 1300.7h0M1594.3 1274.4h0M1595.1 1331.0h0M1595.9 1195.1h0M1596.7 1224.3h0M1597.4 1265.2h0M1598.2 1299.4h0M1599.0 1324.8h0M1599.8 1231.9h0M1600.6 1370.1h0M1601.3 1286.0h0M1602.1 1263.0h0M1602.9 1249.6h0M1603.7 1245.7h0M1604.5 1266.0h0M1605.3 1215.6h0M1606.0 1342.5h0M1606.8 1285.6h0M1607.6 1300.7h0M1608.4 1249.8h0M1609.2 1347.0h0M1609.9 1332.5h0M1610.7 1351.5h0M1611.5 1277.7h0M1612.3 1390.5h0M1613.1 1344.9h0M1613.8 1251.1h0M1614.6 1327.7h0M1615.4 1316.5h0M1617.0 1324.2h0M1617.7 1300.8h0M1618.5 1354.8h0M1619.3 1368.5h0M1620.1 1345.2h0M1620.9 1325.4h0M1621.6 1385.8h0M1622.4 1295.6h0M1623.2 1409.7h0M1624.0 1296.4h0M1624.8 1381.5h0M1625.5 1338.1h0M1626.3 1361.4h0M1627.9 1413.3h0M1629.4 1403.2h0M1630.2 1331.4h0M1631.0 1364.7h0M1631.8 1398.3h0M1632.6 1341.1h0M1633.3 1417.1h0M1634.1 1330.9h0M1634.9 1349.8h0M1635.7 1382.1h0M1636.5 1365.1h0M1637.2 1397.7h0M1638.0 1388.6h0M1638.8 1404.6h0M1639.6 1351.0h0M1640.4 1375.8h0M1641.1 1353.4h0M1642.7 1323.5h0M1644.3 1378.7h0M1645.1 1424.4h0M1645.8 1426.6h0M1646.6 1415.9h0M1648.2 1390.3h0M1649.0 1350.9h0M1649.7 1363.0h0M1650.5 1308.2h0M1652.1 1364.3h0M1653.6 1388.9h0M1654.4 1375.1h0M1655.2 1414.0h0M1656.0 1423.7h0M1656.8 1330.6h0M1658.3 1364.9h0M1659.1 1300.1h0M1659.9 1352.7h0M1661.4 1387.6h0M1662.2 1302.5h0M1663.0 1423.4h0M1663.8 1344.7h0M1664.6 1376.8h0M1665.3 1391.2h0M1666.1 1405.8h0M1666.9 1362.6h0M1668.5 1336.9h0M1669.2 1438.8h0M1670.0 1365.6h0M1670.8 1363.1h0M1671.6 1336.8h0M1672.4 1374.6h0M1673.1 1346.0h0M1673.9 1402.6h0M1674.7 1307.1h0M1675.5 1332.0h0M1676.3 1402.6h0M1677.0 1372.7h0M1677.8 1293.2h0M1678.6 1359.7h0M1679.4 1383.6h0M1680.2 1338.2h0M1681.7 1357.0h0M1682.5 1368.2h0M1684.1 1284.1h0M1684.9 1304.9h0M1686.4 1387.5h0M1687.2 1330.1h0M1688.0 1316.3h0M1688.8 1355.4h0M1690.3 1279.4h0M1691.1 1282.7h0M1691.9 1394.6h0M1692.7 1342.8h0M1693.4 1236.5h0M1694.2 1301.8h0M1695.8 1308.5h0M1696.6 1275.3h0M1697.3 1166.2h0M1699.7 1217.9h0M1700.5 1194.0h0M1702.0 1277.8h0M1703.6 1252.6h0M1704.4 1195.5h0M1705.1 1308.7h0M1706.7 1099.3h0M1707.5 1187.6h0M1708.3 1239.9h0M1709.0 1192.0h0M1709.8 1120.4h0M1710.6 1136.9h0M1711.4 1115.2h0M1712.2 1186.0h0M1712.9 1139.1h0M1713.7 1072.4h0M1714.5 1132.2h0M1715.3 1057.1h0M1716.1 1127.1h0M1716.8 1099.1h0M1718.4 1163.8h0M1719.2 1200.0h0M1720.0 1118.1h0M1720.7 1153.2h0M1721.5 1192.9h0M1723.9 1148.7h0M1725.4 1113.7h0M1726.2 1127.4h0M1727.0 1111.3h0M1728.6 1174.0h0M1729.3 1164.5h0M1730.1 1087.5h0M1730.9 1097.7h0M1731.7 1155.7h0M1732.5 1175.5h0M1733.2 1129.7h0M1734.0 1137.3h0M1735.6 1096.1h0M1736.4 1158.9h0M1737.1 1219.8h0M1737.9 1145.1h0M1738.7 1093.6h0M1739.5 1148.1h0M1740.3 1180.6h0M1741.0 1120.1h0M1741.8 1160.3h0M1742.6 1173.1h0M1743.4 1112.7h0M1744.2 1147.5h0M1744.9 1090.8h0M1745.7 1178.2h0M1746.5 1128.7h0M1747.3 1168.5h0M1748.1 1141.0h0M1749.6 1205.8h0M1750.4 1114.4h0M1751.2 1170.5h0M1752.0 1105.7h0M1752.7 1240.9h0M1753.5 1126.7h0M1754.3 1163.3h0M1755.1 1079.9h0M1756.6 1217.0h0M1757.4 1160.8h0M1758.2 1261.7h0M1759.0 1163.4h0M1759.8 1106.4h0M1760.5 1219.6h0M1761.3 1146.5h0M1762.1 1072.1h0M1762.9 1210.9h0M1763.7 1190.7h0M1764.5 1118.5h0M1765.2 1166.7h0M1766.0 1221.0h0M1766.8 1270.7h0M1767.6 1085.1h0M1768.4 1240.2h0M1769.1 1207.6h0M1770.7 1164.6h0M1771.5 1307.4h0M1772.3 1228.7h0M1773.0 1110.9h0M1773.8 1216.8h0M1774.6 1158.6h0M1775.4 1202.1h0M1776.2 1195.7h0M1776.9 1263.7h0M1777.7 1233.6h0M1778.5 1126.9h0M1780.8 1285.8h0M1782.4 1222.7h0M1783.2 1199.2h0M1784.7 1192.3h0M1785.5 1263.8h0M1786.3 1312.9h0M1787.9 1334.8h0M1789.4 1175.1h0M1790.2 1204.2h0M1791.0 1228.9h0M1791.8 1263.8h0M1792.5 1255.6h0M1793.3 1279.5h0M1794.1 1295.2h0M1794.9 1340.4h0M1795.7 1270.9h0M1796.4 1254.6h0M1797.2 1228.5h0M1798.0 1283.7h0M1799.6 1303.6h0M1800.3 1209.4h0M1801.1 1192.1h0M1801.9 1200.4h0M1802.7 1258.2h0M1803.5 1266.6h0M1804.3 1290.4h0M1805.8 1305.1h0M1807.4 1218.6h0M1808.9 1355.9h0M1809.7 1245.3h0M1811.3 1271.5h0M1812.1 1291.3h0M1813.6 1374.4h0M1814.4 1282.4h0M1815.2 1212.5h0M1816.0 1314.5h0M1816.7 1254.4h0M1817.5 1220.4h0M1818.3 1177.4h0M1819.1 1290.9h0M1819.9 1232.4h0M1820.6 1246.8h0M1821.4 1315.6h0M1822.2 1340.6h0M1823.0 1365.4h0M1823.8 1284.8h0M1824.5 1317.6h0M1825.3 1360.2h0M1826.1 1195.6h0M1827.7 1239.3h0M1828.4 1294.1h0M1829.2 1254.0h0M1830.0 1283.0h0M1830.8 1324.0h0M1831.6 1345.7h0M1832.3 1262.4h0M1833.1 1300.1h0M1833.9 1316.4h0M1834.7 1377.0h0M1835.5 1213.8h0M1836.2 1246.5h0M1837.8 1271.2h0M1838.6 1260.9h0M1839.4 1239.2h0M1840.2 1343.2h0M1840.9 1277.8h0M1841.7 1317.0h0M1843.3 1167.0h0M1844.1 1293.6h0M1844.8 1286.5h0M1845.6 1275.0h0M1846.4 1237.7h0M1847.2 1338.4h0M1848.0 1297.5h0M1848.7 1203.9h0M1849.5 1248.3h0M1850.3 1314.4h0M347.2 995.5h0M382.0 1029.0h0M412.4 1032.7h0M417.7 1077.5h0M362.3 1086.3h0M389.5 1088.5h0M339.7 1096.0h0M410.8 1093.2h0M410.8 1098.5h0M421.8 1109.8h0M331.9 1114.8h0M343.5 1112.3h0M380.4 1115.1h0M381.1 1133.0h0M270.5 1132.7h0M284.6 1123.3h0M292.7 1124.8h0M338.2 1128.6h0M344.4 1137.1h0M403.3 1126.1h0M415.5 1122.0h0M487.9 1119.2h0M484.8 1132.7h0M517.4 1111.4h0M523.6 1111.1h0M511.1 1149.6h0M547.7 1139.3h0M546.2 1163.1h0M536.2 1179.4h0M545.5 1188.1h0M486.0 1182.5h0M491.0 1193.8h0M273.0 1439.7h0M273.6 1507.4h0M375.7 1426.9h0M269.2 1394.9h0M276.1 1388.3h0M290.2 1397.4h0M301.2 1377.4h0M306.8 1376.7h0M319.4 1367.3h0M461.6 1380.8h0M471.0 1380.8h0M457.8 1398.0h0M464.1 1403.4h0M467.2 1422.5h0M482.3 1417.5h0M500.1 1421.5h0M504.8 1427.5h0M457.2 1441.6h0M501.7 1450.7h0M541.2 1447.2h0M513.6 1468.8h0M461.6 1474.8h0M510.5 1492.0h0M512.7 1500.5h0M531.1 1500.5h0M538.0 1528.4h0M509.5 1543.7h0M512.0 1560.0h0M518.9 1400.9h0M526.8 1378.3h0M543.4 1381.1h0M506.4 1376.1h0M703.1 1361.1h0M697.5 1319.4h0M658.3 1318.8h0M672.4 1315.6h0M661.5 1308.7h0M666.2 1332.9h0M671.5 1336.6h0M663.0 1272.4h0M670.9 1274.0h0M677.1 1277.1h0M704.7 1266.1h0M652.1 1088.5h0M666.8 1076.6h0M685.6 1078.5h0M688.1 1097.6h0M707.5 1098.2h0M712.5 1098.2h0M712.5 1111.4h0M677.1 1124.2h0M655.8 1139.3h0M655.8 1148.0h0M930.3 947.5h0M919.3 962.6h0M1002.3 984.2h0M930.3 997.7h0M924.9 1001.4h0M906.8 1014.3h0M909.3 1032.1h0M956.3 1023.0h0M989.8 1035.6h0M818.1 1029.0h0M893.0 1043.1h0M891.7 1047.8h0M827.8 1054.4h0M836.9 1060.3h0M873.9 1057.2h0M852.9 1065.0h0M965.4 1058.1h0M724.4 1055.9h0M714.1 1074.7h0M713.2 1097.9h0M751.7 1096.3h0M808.7 1097.0h0M1053.1 1103.5h0M1172.1 997.7h0M1168.4 1007.1h0M1127.6 1035.6h0M1136.4 1045.3h0M1158.0 1032.1h0M1163.7 1038.4h0M1107.3 1103.5h0M1122.9 1108.9h0M1101.0 1129.9h0M1025.8 1133.0h0M1028.9 1139.3h0M1082.8 1156.5h0M1065.0 1165.3h0M991.4 1099.5h0M1009.5 1112.0h0M983.5 1109.5h0M973.5 1112.6h0M1018.0 1159.6h0M764.8 1133.0h0M776.1 1146.5h0M747.9 1156.5h0M794.9 1178.4h0M715.0 1303.1h0M736.0 1404.9h0M767.4 1377.0h0M783.0 1398.7h0M803.4 1378.3h0M831.6 1371.1h0M838.8 1390.8h0M802.8 1431.2h0M841.0 1428.1h0M770.5 1353.2h0M790.2 1351.7h0M839.4 1350.7h0M869.2 1350.7h0M845.1 1329.1h0M861.3 1332.2h0M842.5 1306.2h0M881.7 1245.2h0M866.0 1262.4h0M866.0 1270.2h0M939.7 1287.1h0M941.2 1321.6h0M949.7 1348.5h0M955.3 1305.9h0M967.9 1307.5h0M979.8 1323.8h0M971.0 1282.7h0M977.3 1292.1h0M978.8 1298.4h0M978.2 1271.8h0M999.2 1285.9h0M1019.5 1386.1h0M1025.8 1381.4h0M1050.9 1401.8h0M1074.4 1428.1h0M1133.3 1400.9h0M1093.2 1378.6h0M1065.0 1378.3h0M1074.4 1378.3h0M1069.0 1364.8h0M1100.4 1362.9h0M1118.2 1364.2h0M1048.4 1357.3h0M1058.7 1357.9h0M1030.5 1348.5h0M1015.5 1332.9h0M1024.9 1336.0h0M1126.1 1324.4h0M1112.9 1324.4h0M1144.9 1302.2h0M1137.0 1300.0h0M1265.9 1011.1h0M1386.5 1032.1h0M1221.4 1056.6h0M1214.2 1061.3h0M1218.9 1080.7h0M1209.5 1086.0h0M1262.2 1095.4h0M1281.0 1107.3h0M1213.6 1106.4h0M1205.8 1121.1h0M1349.6 1131.4h0M1308.8 1142.7h0M1244.6 1133.9h0M1270.6 1131.4h0M1291.9 1159.3h0M1320.7 1170.6h0M1311.3 1179.4h0M1302.6 1195.0h0M1396.6 1159.6h0M1590.2 1101.7h0M1568.2 1150.5h0M1601.8 1153.4h0M1594.9 1176.2h0M1598.0 1176.2h0M1577.6 1190.3h0M1526.9 1172.2h0M1506.5 1156.2h0M1648.1 1204.4h0M1201.7 1333.8h0M1190.7 1290.6h0M1197.0 1295.3h0M1204.8 1301.5h0M1225.2 1350.1h0M1236.2 1350.7h0M1247.1 1336.9h0M1232.1 1402.7h0M1262.8 1396.8h0M1290.4 1420.6h0M1299.7 1399.9h0M1288.8 1383.0h0M1291.0 1354.8h0M1303.5 1352.6h0M1287.2 1335.1h0M1340.2 1447.8h0M1349.6 1493.6h0M1356.8 1519.3h0M1356.8 1529.3h0M1378.1 1529.3h0M1348.0 1547.5h0M1364.6 1480.1h0M1375.6 1472.3h0M1380.3 1467.6h0M1402.2 1426.2h0M1427.9 1444.7h0M1411.6 1399.9h0M1424.7 1346.3h0M1422.6 1334.4h0M1431.0 1325.7h0M1391.9 1247.3h0M1463.3 1259.9h0M1494.6 1302.5h0M1490.9 1318.5h0M1502.4 1330.4h0M1518.7 1342.3h0M1521.2 1359.5h0M1524.4 1367.3h0M1529.1 1379.2h0M1521.2 1394.6h0M1537.2 1394.9h0M1538.5 1351.7h0M1551.0 1361.1h0M1569.8 1358.6h0M1602.7 1484.2h0M1616.8 1457.2h0M1635.6 1476.0h0M1638.7 1458.8h0M1616.8 1440.0h0M1626.2 1425.9h0M1608.0 1378.9h0M1607.4 1368.9h0M1718.0 1010.8h0M1723.3 948.2h0M1716.4 1064.4h0M1716.4 1071.3h0M1726.4 1077.5h0M1697.0 1089.1h0M1758.1 1078.5h0M1771.2 1080.1h0M1769.7 1090.7h0M1842.7 1090.7h0M1851.1 1107.3h0M1794.7 1124.5h0M1846.4 1185.6h0M1819.8 1195.0h0M1683.5 1182.5h0M1697.6 1182.5h0M1684.1 1227.9h0M1674.1 1258.3h0M1650.6 1265.5h0M1664.7 1278.7h0M1653.8 1288.1h0M1723.3 1279.6h0M1732.1 1237.9h0M1713.3 1240.5h0M1745.9 1295.9h0M1751.5 1267.1h0M1774.4 1311.9h0M1778.1 1334.4h0M1661.6 1528.7h0M1833.0 1540.9h0M1841.7 1437.5h0M1841.1 1402.4h0M1807.3 1349.2h0M1816.7 1362.6h0M1822.9 1364.2h0M1848.0 1341.6h0M1652.2 1463.5h0M1658.5 1426.9h0M1666.3 1414.3h0M1706.1 1371.7h0M1699.8 1405.9h0" stroke="#00f" stroke-width="13" stroke-linecap="round" fill="none"/>
<path d="M259.1 1289.2L261.7 1281.7L264.4 1273.9L267.0 1266.0L269.7 1257.9L272.4 1249.7L275.0 1241.6L277.7 1233.5L280.3 1225.6L283.0 1217.9L285.6 1210.5L288.3 1203.4L291.0 1196.7L293.6 1190.5L296.3 1184.7L298.9 1179.5L301.6 1174.8L304.2 1170.8L306.9 1167.3L309.6 1164.5L312.2 1162.3L314.9 1160.7L317.5 1159.8L320.2 1159.5L322.9 1159.7L325.5 1160.6L328.2 1161.9L330.8 1163.8L333.5 1166.1L336.1 1168.8L338.8 1171.9L341.5 1175.2L344.1 1178.9L346.8 1182.7L349.4 1186.6L352.1 1190.7L354.7 1194.7L357.4 1198.8L360.1 1202.8L362.7 1206.6L365.4 1210.3L368.0 1213.9L370.7 1217.2L373.3 1220.2L376.0 1223.0L378.7 1225.5L381.3 1227.7L384.0 1229.6L386.6 1231.2L389.3 1232.5L391.9 1233.5L394.6 1234.3L397.3 1234.9L399.9 1235.2L402.6 1235.4L405.2 1235.5L407.9 1235.4L410.6 1235.4L413.2 1235.2L415.9 1235.2L418.5 1235.2L421.2 1235.3L423.8 1235.5L426.5 1236.0L429.2 1236.7L431.8 1237.6L434.5 1238.9L437.1 1240.4L439.8 1242.3L442.4 1244.5L445.1 1247.1L447.8 1250.0L450.4 1253.2L453.1 1256.8L455.7 1260.7L458.4 1264.9L461.0 1269.4L463.7 1274.0L466.4 1278.9L469.0 1283.9L471.7 1289.0L474.3 1294.2L477.0 1299.3L479.7 1304.4L482.3 1309.3L485.0 1314.1L487.6 1318.6L490.3 1322.9L492.9 1326.7L495.6 1330.2L498.3 1333.2L500.9 1335.6L503.6 1337.6L506.2 1338.9L508.9 1339.7L511.5 1339.7L514.2 1339.2L516.9 1337.9L519.5 1336.0L522.2 1333.4L524.8 1330.1L527.5 1326.2L530.1 1321.7L532.8 1316.6L535.5 1310.9L538.1 1304.7L540.8 1298.0L543.4 1291.0L546.1 1283.6L548.8 1275.9L551.4 1268.0L554.1 1259.9L556.7 1251.8L559.4 1243.7L562.0 1235.6L564.7 1227.6L567.4 1219.8L570.0 1212.3L572.7 1205.2L575.3 1198.4L578.0 1192.0L580.6 1186.1L583.3 1180.7L586.0 1175.9L588.6 1171.7L591.3 1168.1L593.9 1165.1L596.6 1162.8L599.2 1161.1L601.9 1160.0L604.6 1159.5L607.2 1159.6L609.9 1160.3L612.5 1161.5L615.2 1163.3L617.9 1165.5L620.5 1168.1L623.2 1171.1L625.8 1174.4L628.5 1177.9L631.1 1181.7L633.8 1185.6L636.5 1189.6L639.1 1193.7L641.8 1197.8L644.4 1201.8L647.1 1205.7L649.7 1209.4L652.4 1213.0L655.1 1216.4L657.7 1219.5L660.4 1222.3L663.0 1224.9L665.7 1227.2L668.3 1229.1L671.0 1230.8L673.7 1232.2L676.3 1233.3L679.0 1234.2L681.6 1234.8L684.3 1235.2L687.0 1235.4L689.6 1235.5L692.3 1235.5L694.9 1235.4L697.6 1235.3L700.2 1235.2L702.9 1235.2L705.6 1235.2L708.2 1235.5L710.9 1235.9L713.5 1236.5L716.2 1237.4L718.8 1238.5L721.5 1240.0L724.2 1241.8L726.8 1243.9L729.5 1246.4L732.1 1249.2L734.8 1252.4L737.4 1255.9L740.1 1259.7L742.8 1263.8L745.4 1268.2L748.1 1272.8L750.7 1277.7L753.4 1282.6L756.1 1287.7L758.7 1292.9L761.4 1298.0L764.0 1303.1L766.7 1308.1L769.3 1312.9L772.0 1317.5L774.7 1321.8L777.3 1325.8L780.0 1329.3L782.6 1332.5L785.3 1335.1L787.9 1337.1L790.6 1338.6L793.3 1339.5L795.9 1339.8L798.6 1339.4L801.2 1338.3L803.9 1336.5L806.5 1334.1L809.2 1331.0L811.9 1327.3L814.5 1322.9L817.2 1317.9L819.8 1312.4L822.5 1306.3L825.2 1299.8L827.8 1292.8L830.5 1285.5L833.1 1277.9L835.8 1270.0L838.4 1262.0L841.1 1253.9L843.8 1245.7L846.4 1237.6L849.1 1229.6L851.7 1221.8L854.4 1214.2L857.0 1206.9L859.7 1200.0L862.4 1193.6L865.0 1187.5L867.7 1182.0L870.3 1177.1L873.0 1172.7L875.6 1169.0L878.3 1165.8L881.0 1163.3L883.6 1161.4L886.3 1160.2L888.9 1159.6L891.6 1159.5L894.3 1160.1L896.9 1161.2L899.6 1162.8L902.2 1164.9L904.9 1167.4L907.5 1170.3L910.2 1173.5L912.9 1177.0L915.5 1180.7L918.2 1184.6L920.8 1188.6L923.5 1192.7L926.1 1196.8L928.8 1200.8L931.5 1204.7L934.1 1208.5L936.8 1212.1L939.4 1215.5L942.1 1218.7L944.7 1221.6L947.4 1224.3L950.1 1226.6L952.7 1228.7L955.4 1230.4L958.0 1231.9L960.7 1233.1L963.4 1234.0L966.0 1234.6L968.7 1235.1L971.3 1235.4L974.0 1235.5L976.6 1235.5L979.3 1235.4L982.0 1235.3L984.6 1235.2L987.3 1235.2L989.9 1235.2L992.6 1235.4L995.2 1235.7L997.9 1236.3L1000.6 1237.1L1003.2 1238.2L1005.9 1239.6L1008.5 1241.3L1011.2 1243.3L1013.8 1245.7L1016.5 1248.5L1019.2 1251.5L1021.8 1255.0L1024.5 1258.7L1027.1 1262.8L1029.8 1267.1L1032.4 1271.7L1035.1 1276.4L1037.8 1281.4L1040.4 1286.4L1043.1 1291.6L1045.7 1296.7L1048.4 1301.9L1051.1 1306.9L1053.7 1311.7L1056.4 1316.4L1059.0 1320.8L1061.7 1324.8L1064.3 1328.5L1067.0 1331.7L1069.7 1334.5L1072.3 1336.7L1075.0 1338.3L1077.6 1339.4L1080.3 1339.8L1082.9 1339.5L1085.6 1338.6L1088.3 1337.0L1090.9 1334.8L1093.6 1331.9L1096.2 1328.3L1098.9 1324.0L1101.5 1319.2L1104.2 1313.8L1106.9 1307.9L1109.5 1301.4L1112.2 1294.6L1114.8 1287.4L1117.5 1279.8L1120.2 1272.0L1122.8 1264.0L1125.5 1255.9L1128.1 1247.7L1130.8 1239.6L1133.4 1231.6L1136.1 1223.7L1138.8 1216.1L1141.4 1208.7L1144.1 1201.7L1146.7 1195.1L1149.4 1189.0L1152.0 1183.4L1154.7 1178.3L1157.4 1173.8L1160.0 1169.8L1162.7 1166.5L1165.3 1163.9L1168.0 1161.8L1170.6 1160.4L1173.3 1159.7L1176.0 1159.5L1178.6 1159.9L1181.3 1160.9L1183.9 1162.3L1186.6 1164.3L1189.3 1166.7L1191.9 1169.5L1194.6 1172.7L1197.2 1176.1L1199.9 1179.8L1202.5 1183.6L1205.2 1187.6L1207.9 1191.7L1210.5 1195.7L1213.2 1199.8L1215.8 1203.7L1218.5 1207.6L1221.1 1211.2L1223.8 1214.7L1226.5 1217.9L1229.1 1220.9L1231.8 1223.6L1234.4 1226.1L1237.1 1228.2L1239.7 1230.0L1242.4 1231.5L1245.1 1232.8L1247.7 1233.8L1250.4 1234.5L1253.0 1235.0L1255.7 1235.3L1258.4 1235.5L1261.0 1235.5L1263.7 1235.4L1266.3 1235.3L1269.0 1235.2L1271.6 1235.2L1274.3 1235.2L1277.0 1235.3L1279.6 1235.6L1282.3 1236.1L1284.9 1236.9L1287.6 1237.9L1290.2 1239.2L1292.9 1240.8L1295.6 1242.8L1298.2 1245.1L1300.9 1247.7L1303.5 1250.7L1306.2 1254.1L1308.8 1257.7L1311.5 1261.7L1314.2 1266.0L1316.8 1270.5L1319.5 1275.2L1322.1 1280.1L1324.8 1285.2L1327.5 1290.3L1330.1 1295.4L1332.8 1300.6L1335.4 1305.6L1338.1 1310.5L1340.7 1315.2L1343.4 1319.7L1346.1 1323.8L1348.7 1327.6L1351.4 1330.9L1354.0 1333.8L1356.7 1336.2L1359.3 1338.0L1362.0 1339.2L1364.7 1339.7L1367.3 1339.7L1370.0 1338.9L1372.6 1337.5L1375.3 1335.4L1377.9 1332.7L1380.6 1329.2L1383.3 1325.2L1385.9 1320.5L1388.6 1315.2L1391.2 1309.4L1393.9 1303.1L1396.6 1296.4L1399.2 1289.2L1401.9 1281.7L1404.5 1274.0L1407.2 1266.0L1409.8 1257.9L1412.5 1249.8L1415.2 1241.7L1417.8 1233.6L1420.5 1225.7L1423.1 1218.0L1425.8 1210.5L1428.4 1203.5L1431.1 1196.8L1433.8 1190.5L1436.4 1184.7L1439.1 1179.5L1441.7 1174.8L1444.4 1170.8L1447.0 1167.3L1449.7 1164.5L1452.4 1162.3L1455.0 1160.7L1457.7 1159.8L1460.3 1159.5L1463.0 1159.7L1465.7 1160.6L1468.3 1161.9L1471.0 1163.8L1473.6 1166.1L1476.3 1168.8L1478.9 1171.9L1481.6 1175.2L1484.3 1178.8L1486.9 1182.7L1489.6 1186.6L1492.2 1190.6L1494.9 1194.7L1497.5 1198.8L1500.2 1202.7L1502.9 1206.6L1505.5 1210.3L1508.2 1213.8L1510.8 1217.1L1513.5 1220.2L1516.1 1223.0L1518.8 1225.5L1521.5 1227.7L1524.1 1229.6L1526.8 1231.2L1529.4 1232.5L1532.1 1233.5L1534.8 1234.3L1537.4 1234.9L1540.1 1235.2L1542.7 1235.4L1545.4 1235.5L1548.0 1235.4L1550.7 1235.4L1553.4 1235.2L1556.0 1235.2L1558.7 1235.2L1561.3 1235.3L1564.0 1235.5L1566.6 1236.0L1569.3 1236.7L1572.0 1237.6L1574.6 1238.9L1577.3 1240.4L1579.9 1242.3L1582.6 1244.5L1585.2 1247.0L1587.9 1249.9L1590.6 1253.2L1593.2 1256.8L1595.9 1260.7L1598.5 1264.9L1601.2 1269.3L1603.9 1274.0L1606.5 1278.9L1609.2 1283.9L1611.8 1289.0L1614.5 1294.1L1617.1 1299.3L1619.8 1304.4L1622.5 1309.3L1625.1 1314.1L1627.8 1318.6L1630.4 1322.8L1633.1 1326.7L1635.7 1330.1L1638.4 1333.1L1641.1 1335.6L1643.7 1337.6L1646.4 1338.9L1649.0 1339.7L1651.7 1339.7L1654.3 1339.2L1657.0 1337.9L1659.7 1336.0L1662.3 1333.4L1665.0 1330.2L1667.6 1326.2L1670.3 1321.7L1672.9 1316.6L1675.6 1310.9L1678.3 1304.7L1680.9 1298.1L1683.6 1291.0L1686.2 1283.6L1688.9 1275.9L1691.6 1268.0L1694.2 1260.0L1696.9 1251.9L1699.5 1243.7L1702.2 1235.6L1704.8 1227.7L1707.5 1219.9L1710.2 1212.4L1712.8 1205.2L1715.5 1198.4L1718.1 1192.0L1720.8 1186.1L1723.4 1180.8L1726.1 1176.0L1728.8 1171.7L1731.4 1168.1L1734.1 1165.1L1736.7 1162.8L1739.4 1161.1L1742.0 1160.0L1744.7 1159.5L1747.4 1159.6L1750.0 1160.3L1752.7 1161.5L1755.3 1163.3L1758.0 1165.5L1760.7 1168.1L1763.3 1171.1L1766.0 1174.4L1768.6 1177.9L1771.3 1181.7L1773.9 1185.6L1776.6 1189.6L1779.3 1193.7L1781.9 1197.7L1784.6 1201.7L1787.2 1205.6L1789.9 1209.4L1792.5 1213.0L1795.2 1216.3L1797.9 1219.5L1800.5 1222.3L1803.2 1224.9L1805.8 1227.1L1808.5 1229.1L1811.1 1230.8L1813.8 1232.2L1816.5 1233.3L1819.1 1234.2L1821.8 1234.8L1824.4 1235.2L1827.1 1235.4L1829.8 1235.5L1832.4 1235.5L1835.1 1235.4L1837.7 1235.3L1840.4 1235.2L1843.0 1235.2L1845.7 1235.2L1848.4 1235.5L1851.0 1235.9" stroke="#f00" stroke-width="7.8" stroke-linejoin="round" stroke-linecap="butt" fill="none"/>
<path d="M289.3 935.3v-9.9M289.3 1572.8v9.9M360.5 935.3v-9.9M360.5 1572.8v9.9M431.8 935.3v-19.3M431.8 1572.8v19.3M503.1 935.3v-9.9M503.1 1572.8v9.9M574.3 935.3v-9.9M574.3 1572.8v9.9M645.6 935.3v-9.9M645.6 1572.8v9.9M716.8 935.3v-19.3M716.8 1572.8v19.3M788.1 935.3v-9.9M788.1 1572.8v9.9M859.4 935.3v-9.9M859.4 1572.8v9.9M930.6 935.3v-9.9M930.6 1572.8v9.9M1001.9 935.3v-19.3M1001.9 1572.8v19.3M1073.1 935.3v-9.9M1073.1 1572.8v9.9M1144.4 935.3v-9.9M1144.4 1572.8v9.9M1215.7 935.3v-9.9M1215.7 1572.8v9.9M1286.9 935.3v-19.3M1286.9 1572.8v19.3M1358.2 935.3v-9.9M1358.2 1572.8v9.9M1429.4 935.3v-9.9M1429.4 1572.8v9.9M1500.7 935.3v-9.9M1500.7 1572.8v9.9M1572.0 935.3v-19.3M1572.0 1572.8v19.3M1643.2 935.3v-9.9M1643.2 1572.8v9.9M1714.5 935.3v-9.9M1714.5 1572.8v9.9M1785.7 935.3v-9.9M1785.7 1572.8v9.9M1857.0 935.3v-19.3M1857.0 1572.8v19.3M226.0 1034.4h-19.3M1883.5 1034.4h19.3M226.0 1139.2h-19.3M1883.5 1139.2h19.3M226.0 1244.0h-19.3M1883.5 1244.0h19.3M226.0 1348.8h-19.3M1883.5 1348.8h19.3M226.0 1453.6h-19.3M1883.5 1453.6h19.3M226.0 1558.4h-19.3M1883.5 1558.4h19.3" stroke="#000" stroke-width="2.6" fill="none"/>
<rect x="226.0" y="935.3" width="1657.5" height="637.5" fill="none" stroke="#000" stroke-width="6.2"/>
</g>
<g id="panel3">
<path d="M259.1 2074.7h0M259.8 1955.2h0M260.6 2047.5h0M261.4 2034.1h0M262.2 1985.6h0M263.0 2008.1h0M263.7 2019.1h0M264.5 2084.3h0M266.1 2013.8h0M266.9 2045.0h0M267.7 1984.6h0M268.4 1997.9h0M270.0 1980.3h0M270.8 2068.9h0M271.6 2017.4h0M272.3 2046.3h0M273.1 2026.2h0M273.9 2018.2h0M274.7 2079.6h0M275.5 1982.1h0M276.2 2040.0h0M277.0 1995.8h0M277.8 1962.7h0M280.1 2015.1h0M280.9 2019.6h0M281.7 1958.2h0M282.5 2044.2h0M283.3 2001.3h0M284.0 2014.9h0M284.8 1982.7h0M285.6 2038.6h0M286.4 2066.6h0M287.2 2019.7h0M287.9 2046.3h0M289.5 2034.1h0M291.1 2090.8h0M292.6 1997.5h0M293.4 1968.6h0M294.2 1979.2h0M295.7 2010.9h0M296.5 2077.4h0M298.1 1940.8h0M299.6 2042.6h0M300.4 2010.3h0M301.2 2019.1h0M302.0 2048.3h0M302.8 1978.3h0M304.3 1996.3h0M305.1 2098.0h0M305.9 2053.7h0M306.7 2005.6h0M307.5 1960.9h0M308.2 2053.5h0M309.0 2025.8h0M310.6 1984.5h0M311.4 2047.2h0M312.1 2009.4h0M312.9 2026.2h0M313.7 2113.8h0M314.5 1977.8h0M315.3 2090.9h0M318.4 2008.3h0M319.2 2071.6h0M319.9 2058.1h0M320.7 2106.4h0M321.5 2089.2h0M322.3 2034.7h0M323.1 1994.2h0M323.8 2054.0h0M324.6 2009.4h0M325.4 2081.2h0M326.2 2058.4h0M328.5 2025.3h0M330.1 2130.4h0M330.9 2074.4h0M332.4 2056.6h0M333.2 2105.2h0M334.0 1963.8h0M334.8 2110.1h0M335.5 1989.6h0M336.3 2090.5h0M337.1 1978.7h0M337.9 2080.9h0M338.7 2043.6h0M339.4 2013.6h0M340.2 2160.0h0M341.0 2065.7h0M341.8 2120.7h0M342.6 2158.8h0M343.3 2038.9h0M344.1 2109.2h0M344.9 2062.2h0M346.5 2081.6h0M347.3 2018.8h0M348.0 2116.0h0M348.8 1972.8h0M349.6 2080.2h0M350.4 2095.2h0M351.2 2183.8h0M351.9 2122.0h0M352.7 2070.6h0M353.5 2012.0h0M354.3 2044.7h0M356.6 1997.0h0M357.4 1965.1h0M359.0 2144.9h0M360.5 2059.4h0M361.3 2032.9h0M362.1 2113.1h0M362.9 2129.8h0M364.4 2064.7h0M366.0 2091.3h0M366.8 2011.9h0M367.5 2097.8h0M368.3 2119.9h0M369.1 2027.7h0M369.9 2177.2h0M370.7 2143.1h0M372.2 2082.4h0M373.0 2071.2h0M373.8 2024.5h0M374.6 2069.8h0M375.3 2130.5h0M376.1 2152.9h0M377.7 2097.4h0M378.5 2172.2h0M380.0 2063.2h0M380.8 2112.8h0M381.6 2040.7h0M382.4 2101.2h0M383.1 2116.0h0M383.9 2064.7h0M384.7 2143.4h0M386.3 2167.8h0M387.8 2136.3h0M388.6 2098.1h0M389.4 2144.2h0M390.2 2027.0h0M391.0 2076.7h0M391.7 2184.3h0M393.3 2130.3h0M394.1 2113.9h0M394.9 2088.6h0M395.6 2122.0h0M396.4 2078.7h0M397.2 2111.4h0M398.0 2124.9h0M398.8 2188.4h0M399.5 2131.2h0M400.3 2146.8h0M401.9 2065.8h0M403.4 2093.1h0M404.2 2079.7h0M405.0 2039.5h0M405.8 2128.3h0M406.6 2105.3h0M407.3 2178.3h0M408.1 2156.8h0M408.9 2116.5h0M410.5 2151.2h0M412.0 2152.1h0M413.6 2064.6h0M414.4 2104.6h0M415.1 2130.2h0M415.9 2200.6h0M416.7 2168.7h0M417.5 2105.6h0M418.3 2069.6h0M419.0 2091.5h0M419.8 2165.4h0M420.6 2125.5h0M421.4 2111.2h0M422.9 2044.8h0M423.7 2175.1h0M426.1 2086.8h0M426.9 2060.1h0M427.6 2117.9h0M428.4 2157.7h0M429.2 2101.3h0M430.0 2074.4h0M430.8 2062.0h0M432.3 1984.4h0M433.9 2134.1h0M434.7 2030.0h0M435.4 2011.3h0M436.2 2130.1h0M437.0 2096.2h0M437.8 2037.1h0M438.6 2128.1h0M439.3 2077.6h0M440.1 2185.6h0M440.9 2072.9h0M441.7 2102.8h0M442.5 2144.0h0M444.8 2170.9h0M445.6 2113.6h0M446.4 2020.6h0M447.1 2090.2h0M447.9 2050.1h0M448.7 2061.3h0M449.5 2196.0h0M450.3 1997.0h0M451.0 2099.3h0M451.8 2072.5h0M452.6 2115.4h0M453.4 2040.1h0M454.2 2079.9h0M455.7 2132.6h0M456.5 2092.1h0M457.3 2041.5h0M458.8 2104.3h0M461.2 2116.2h0M462.0 2070.2h0M462.7 2140.7h0M463.5 2051.4h0M464.3 2014.2h0M466.7 2097.2h0M467.4 2101.4h0M468.2 2046.4h0M469.0 2118.0h0M469.8 2059.3h0M470.6 2025.2h0M472.1 1987.8h0M472.9 2054.3h0M473.7 2143.3h0M474.5 2050.4h0M475.2 2000.5h0M476.0 2016.0h0M477.6 2058.6h0M478.4 2076.2h0M479.1 2034.8h0M479.9 1982.5h0M482.3 2002.0h0M483.0 2095.8h0M483.8 2064.8h0M484.6 2044.8h0M485.4 2015.9h0M486.2 1945.0h0M486.9 1989.4h0M487.7 2034.5h0M489.3 2036.3h0M490.1 2005.8h0M490.8 2020.5h0M491.6 1988.8h0M492.4 1990.2h0M493.2 2052.2h0M494.0 1956.6h0M494.7 2086.7h0M495.5 1982.0h0M496.3 1946.5h0M497.1 1996.5h0M497.9 2008.1h0M498.6 1959.4h0M499.4 2068.3h0M501.0 2017.4h0M501.8 2034.6h0M502.5 2053.1h0M503.3 1990.8h0M504.1 2010.1h0M504.9 1981.1h0M506.5 1940.5h0M507.2 1959.8h0M508.0 1892.2h0M508.8 2015.8h0M509.6 2069.6h0M510.4 1895.7h0M511.1 1948.9h0M511.9 2005.3h0M512.7 1988.3h0M513.5 2030.6h0M514.3 1972.5h0M515.0 1922.6h0M515.8 1943.7h0M516.6 1999.5h0M517.4 1900.3h0M518.2 2032.9h0M519.7 1993.6h0M520.5 1966.0h0M521.3 2046.2h0M522.1 1958.7h0M522.8 1915.7h0M523.6 2029.9h0M524.4 1975.0h0M525.2 2062.7h0M526.7 1958.9h0M527.5 1995.8h0M528.3 1942.5h0M529.9 2012.5h0M530.6 1948.5h0M531.4 1956.6h0M532.2 2075.6h0M533.0 2014.9h0M533.8 1990.2h0M534.5 1908.9h0M535.3 2031.9h0M536.9 1974.4h0M537.7 1981.8h0M538.4 1961.8h0M539.2 1998.7h0M540.0 1887.8h0M540.8 1952.5h0M541.6 2035.0h0M542.3 2115.6h0M543.1 2048.8h0M543.9 1951.5h0M544.7 2117.4h0M545.5 1981.9h0M650.0 2071.9h0M650.8 2136.3h0M651.6 2093.6h0M652.4 2108.8h0M653.2 2061.4h0M653.9 2043.4h0M654.7 2093.3h0M656.3 2099.5h0M657.1 2126.8h0M657.8 2180.0h0M658.6 2080.4h0M659.4 2039.5h0M660.2 2148.1h0M661.0 2039.4h0M661.8 2082.0h0M662.5 2154.6h0M663.3 2206.7h0M664.1 2074.6h0M664.9 2121.8h0M666.4 2156.1h0M667.2 2117.0h0M668.0 2157.9h0M668.8 2119.6h0M669.6 2079.4h0M671.1 2151.3h0M671.9 2086.4h0M672.7 2116.8h0M673.5 2234.1h0M674.2 2204.2h0M675.0 2087.5h0M675.8 2147.8h0M676.6 2134.8h0M678.1 2235.9h0M678.9 2201.5h0M679.7 2111.9h0M680.5 2182.9h0M681.3 2169.9h0M682.0 2156.3h0M682.8 2171.5h0M683.6 2215.9h0M684.4 2128.4h0M685.9 2242.9h0M686.7 2113.8h0M687.5 2187.4h0M688.3 2102.4h0M689.1 2122.3h0M689.8 2153.3h0M691.4 2162.5h0M692.2 2201.2h0M693.0 2181.0h0M693.7 2089.0h0M694.5 2233.2h0M695.3 2141.6h0M697.6 2201.5h0M699.2 2211.2h0M700.0 2182.0h0M700.8 2137.2h0M701.6 2157.2h0M702.3 2092.2h0M703.1 2123.9h0M703.9 2161.4h0M704.7 2176.3h0M705.5 2233.8h0M706.2 2190.0h0M707.0 2091.2h0M707.8 2158.1h0M708.6 2160.2h0M709.4 2122.8h0M710.1 2136.5h0M710.9 2124.2h0M711.7 2102.1h0M712.5 2153.3h0M713.3 2163.2h0M714.0 2232.3h0M714.8 2140.7h0M715.6 2185.6h0M716.4 2200.9h0M717.2 2181.8h0M717.9 2078.8h0M718.7 2165.3h0M719.5 2112.4h0M720.3 2194.4h0M721.1 2215.8h0M721.8 2133.8h0M722.6 2139.8h0M724.2 2130.2h0M725.0 2050.8h0M725.7 2176.5h0M726.5 2192.1h0M727.3 2216.6h0M728.9 2147.4h0M730.4 2085.5h0M731.2 2134.7h0M732.0 2037.5h0M732.8 2153.0h0M733.5 2084.0h0M734.3 2177.3h0M735.1 2222.4h0M735.9 2119.3h0M737.4 2095.1h0M739.0 2182.7h0M739.8 2159.6h0M740.6 2096.0h0M742.1 2111.1h0M742.9 2131.1h0M743.7 2191.7h0M744.5 2202.7h0M746.0 2075.6h0M747.6 2014.5h0M748.4 2074.4h0M749.2 2124.0h0M749.9 2042.0h0M750.7 2160.9h0M751.5 2183.6h0M752.3 2241.3h0M753.1 2096.6h0M754.6 2074.5h0M755.4 2072.3h0M757.0 2131.8h0M757.7 2012.4h0M758.5 2090.4h0M759.3 2051.2h0M760.1 2134.9h0M760.9 2201.2h0M761.6 2173.6h0M762.4 2008.4h0M763.2 2058.4h0M764.0 2117.6h0M764.8 2128.8h0M766.3 2045.1h0M767.1 2097.7h0M767.9 2147.1h0M768.7 2235.6h0M770.2 2070.3h0M771.0 2043.1h0M771.8 2007.7h0M772.6 2215.4h0M773.3 2131.0h0M774.1 2089.3h0M774.9 2152.9h0M775.7 2078.3h0M776.5 2140.5h0M777.2 2007.8h0M778.0 2161.4h0M778.8 2016.4h0M779.6 2051.5h0M781.2 2111.0h0M781.9 2057.2h0M782.7 2074.1h0M783.5 2101.2h0M785.1 1999.2h0M786.6 2048.6h0M788.2 2166.5h0M789.0 1949.2h0M789.7 2020.3h0M790.5 2056.9h0M791.3 2082.8h0M792.1 2148.3h0M792.9 1946.9h0M793.6 1985.3h0M794.4 2025.6h0M795.2 2076.8h0M796.0 2060.5h0M796.8 1997.9h0M798.3 2026.0h0M799.1 2090.4h0M799.9 2022.1h0M800.7 1968.5h0M801.4 1992.2h0M802.2 2006.3h0M803.0 2107.2h0M805.3 1923.2h0M806.9 2040.2h0M807.7 1893.1h0M808.5 2076.7h0M809.2 2086.9h0M810.0 2035.5h0M810.8 1995.2h0M811.6 1932.0h0M812.4 1965.1h0M813.1 2011.7h0M813.9 2073.0h0M814.7 1969.4h0M815.5 2107.6h0M816.3 2047.2h0M817.0 1909.2h0M817.8 1957.0h0M819.4 2019.2h0M820.2 2007.2h0M821.0 2048.0h0M822.5 1964.6h0M823.3 2019.9h0M824.1 2007.3h0M824.9 2130.1h0M825.6 2081.3h0M827.2 1966.3h0M828.0 1991.5h0M828.8 1937.2h0M829.5 2099.4h0M830.3 2038.6h0M831.1 2010.7h0M832.7 2057.2h0M834.2 1956.0h0M835.0 2015.3h0M835.8 1973.9h0M836.6 1915.8h0M837.3 1995.5h0M838.1 2008.9h0M838.9 1975.4h0M839.7 2032.3h0M840.5 2049.8h0M841.2 1957.6h0M842.0 2068.9h0M844.4 2018.4h0M845.9 1972.3h0M846.7 2050.6h0M847.5 1957.4h0M848.3 1984.8h0M849.0 2113.6h0M849.8 2024.9h0M850.6 1889.4h0M852.2 1979.1h0M852.9 2019.1h0M853.7 1937.9h0M854.5 1896.1h0M855.3 1963.8h0M856.1 2086.0h0M856.8 2004.2h0M857.6 2045.3h0M858.4 1958.1h0M860.0 1931.3h0M860.8 1982.4h0M861.5 2029.3h0M862.3 1883.1h0M863.1 2011.7h0M864.7 2103.4h0M865.4 2052.1h0M866.2 1886.2h0M867.0 2023.6h0M867.8 2111.4h0M868.6 1987.9h0M869.3 2056.0h0M870.9 1939.5h0M871.7 1984.3h0M872.5 2020.6h0M873.2 2026.7h0M874.0 2058.5h0M874.8 1937.5h0M875.6 1970.7h0M876.4 2086.0h0M877.1 2021.4h0M879.5 1949.8h0M880.3 2002.2h0M881.0 2059.8h0M881.8 2051.4h0M882.6 2016.7h0M884.2 2030.0h0M884.9 1987.3h0M885.7 1963.4h0M886.5 1944.6h0M887.3 2125.2h0M888.1 1926.7h0M889.6 2108.8h0M891.2 2008.1h0M892.0 2050.2h0M892.7 2037.4h0M893.5 1973.4h0M894.3 2031.6h0M895.1 2091.2h0M895.9 2070.8h0M896.7 2017.3h0M897.4 1990.1h0M898.2 2055.4h0M899.0 2099.0h0M899.8 1935.1h0M901.3 2151.6h0M902.9 2049.4h0M904.5 2030.5h0M906.0 2088.0h0M906.8 2039.6h0M908.4 2055.3h0M909.1 2113.6h0M909.9 2001.2h0M910.7 2145.5h0M913.0 1963.0h0M913.8 2094.8h0M914.6 2003.8h0M915.4 2047.8h0M916.9 2017.2h0M917.7 2078.9h0M918.5 2129.7h0M919.3 2064.5h0M920.1 1976.6h0M920.8 2062.5h0M921.6 2038.1h0M922.4 1994.2h0M924.0 2127.2h0M924.7 2158.2h0M926.3 1950.1h0M927.9 2053.6h0M928.6 2088.3h0M929.4 2018.9h0M931.0 2061.8h0M931.8 1987.3h0M932.5 2122.7h0M933.3 2032.4h0M934.1 2081.6h0M934.9 2164.9h0M935.7 2095.9h0M936.5 2059.9h0M937.2 2148.4h0M938.0 2142.2h0M938.8 2031.7h0M939.6 2047.8h0M941.1 2032.2h0M941.9 2107.9h0M942.7 2098.8h0M943.5 2050.9h0M944.3 1994.2h0M945.0 2106.3h0M945.8 2078.1h0M946.6 2052.6h0M947.4 2169.5h0M948.2 2145.8h0M948.9 2097.3h0M949.7 2172.5h0M950.5 2146.0h0M951.3 2080.2h0M952.1 2125.2h0M952.8 2091.8h0M953.6 2064.2h0M954.4 2108.6h0M955.2 2046.5h0M956.0 2056.4h0M956.7 2076.2h0M958.3 2125.1h0M959.1 2119.6h0M959.9 2049.6h0M960.6 2145.9h0M961.4 2107.4h0M963.0 2176.0h0M963.8 2138.4h0M964.5 2087.5h0M965.3 2170.7h0M966.1 2129.3h0M966.9 2119.4h0M967.7 2072.9h0M969.2 2103.1h0M970.0 2108.6h0M970.8 2176.8h0M971.6 2130.2h0M972.3 2047.7h0M973.1 2117.9h0M973.9 2094.6h0M975.5 2141.2h0M976.3 2101.9h0M977.0 2109.4h0M977.8 2116.1h0M978.6 2159.7h0M979.4 2105.3h0M980.2 2137.7h0M980.9 2125.4h0M981.7 2142.0h0M982.5 2094.8h0M983.3 2079.4h0M984.1 2145.5h0M984.8 2132.7h0M985.6 2050.8h0M986.4 2111.5h0M987.2 2082.7h0M988.0 2125.0h0M988.7 2169.9h0M989.5 2097.9h0M991.1 2123.9h0M991.9 2080.0h0M992.6 2091.8h0M993.4 2182.3h0M994.2 2109.3h0M995.8 2048.4h0M997.3 2129.5h0M998.1 2144.9h0M998.9 2161.4h0M1000.4 2130.6h0M1002.8 2075.4h0M1003.6 2109.7h0M1004.3 2097.7h0M1005.1 2089.8h0M1005.9 2163.7h0M1006.7 2044.8h0M1008.2 2034.4h0M1009.0 2118.3h0M1010.6 2058.2h0M1011.4 2192.1h0M1013.7 2097.1h0M1014.5 2152.2h0M1016.1 2070.1h0M1016.8 2122.9h0M1017.6 2020.4h0M1018.4 2110.6h0M1019.2 2052.2h0M1020.0 2078.4h0M1020.7 2118.4h0M1021.5 2139.5h0M1022.3 2159.9h0M1023.1 2080.9h0M1023.9 2058.2h0M1024.6 2032.7h0M1026.2 2157.4h0M1027.0 2110.2h0M1027.8 2125.3h0M1029.3 2065.9h0M1030.1 2080.6h0M1030.9 2096.0h0M1031.7 2116.2h0M1032.4 2064.0h0M1033.2 2067.0h0M1034.0 2080.6h0M1034.8 1993.3h0M1035.6 2028.4h0M1036.3 2092.5h0M1037.1 2118.3h0M1037.9 2050.2h0M1038.7 2024.7h0M1039.5 2103.0h0M1040.2 2048.3h0M1041.0 2105.9h0M1041.8 2072.5h0M1042.6 1979.4h0M1043.4 2059.6h0M1044.1 2046.7h0M1045.7 2033.4h0M1046.5 2004.5h0M1047.3 2085.9h0M1048.0 2064.4h0M1048.8 2049.7h0M1049.6 2009.9h0M1050.4 2083.4h0M1051.2 2033.3h0M1051.9 2058.4h0M1052.7 2110.5h0M1054.3 2044.6h0M1055.1 1999.4h0M1055.9 1994.6h0M1056.6 2068.3h0M1057.4 2027.9h0M1058.2 2091.0h0M1059.0 2061.4h0M1059.8 2069.8h0M1062.1 2047.3h0M1062.9 2017.7h0M1063.7 1991.0h0M1064.4 2028.8h0M1065.2 2003.2h0M1066.0 1990.2h0M1066.8 2069.0h0M1067.6 2058.2h0M1068.3 2039.7h0M1069.1 2005.0h0M1069.9 2026.1h0M1070.7 2023.3h0M1071.5 2101.1h0M1072.2 2061.7h0M1073.0 2072.3h0M1073.8 2020.6h0M1074.6 2097.0h0M1076.1 1988.8h0M1076.9 2039.2h0M1077.7 2028.3h0M1078.5 1967.7h0M1080.0 2034.6h0M1080.8 2060.3h0M1081.6 2016.9h0M1082.4 2077.9h0M1083.2 1971.1h0M1083.9 2007.1h0M1085.5 2047.2h0M1086.3 2089.7h0M1087.1 1986.8h0M1087.8 2046.2h0M1088.6 2015.8h0M1089.4 2090.0h0M1090.2 2050.2h0M1091.0 2070.8h0M1091.7 1991.3h0M1092.5 2033.7h0M1093.3 2016.8h0M1094.9 1974.7h0M1096.4 2030.5h0M1097.2 2037.9h0M1098.8 2085.7h0M1099.6 2080.5h0M1100.3 2043.1h0M1101.1 1978.5h0M1102.7 1999.5h0M1103.5 2025.9h0M1104.2 2020.8h0M1105.0 1984.8h0M1105.8 1923.9h0M1106.6 2050.5h0M1107.4 2076.3h0M1108.1 2083.1h0M1108.9 2024.9h0M1109.7 2014.0h0M1111.3 2082.9h0M1112.0 1917.2h0M1112.8 1981.8h0M1113.6 2054.9h0M1114.4 1998.0h0M1115.9 2045.0h0M1117.5 2040.3h0M1118.3 1936.0h0M1119.1 1971.3h0M1120.6 1982.5h0M1123.0 2081.8h0M1123.7 2018.9h0M1124.5 2053.3h0M1126.1 2000.5h0M1126.9 1945.9h0M1127.6 1962.1h0M1128.4 2061.1h0M1129.2 1974.9h0M1130.0 2079.5h0M1130.8 2041.7h0M1131.5 2012.9h0M1132.3 1994.4h0M1133.1 2062.9h0M1133.9 2111.1h0M1134.7 1972.4h0M1135.5 1937.1h0M1136.2 2040.5h0M1137.0 1999.5h0M1137.8 2018.8h0M1138.6 1985.5h0M1140.1 2039.0h0M1140.9 1967.2h0M1141.7 2009.9h0M1142.5 1978.6h0M1144.0 2002.1h0M1144.8 2046.7h0M1145.6 1940.4h0M1146.4 2074.6h0M1147.9 2038.3h0M1148.7 1935.7h0M1149.5 2059.6h0M1151.1 2027.7h0M1151.8 2005.3h0M1152.6 1978.7h0M1153.4 1954.8h0M1154.2 1994.6h0M1155.0 1959.4h0M1156.5 2006.4h0M1157.3 1969.8h0M1158.1 1933.4h0M1158.9 2095.0h0M1159.6 1994.5h0M1160.4 2022.7h0M1161.2 2043.5h0M1162.0 2016.5h0M1162.8 1974.1h0M1163.5 1948.1h0M1166.7 2020.4h0M1167.4 1968.8h0M1168.2 2077.8h0M1169.0 1999.9h0M1169.8 2038.2h0M1171.3 2021.3h0M1172.1 2026.2h0M1172.9 2059.2h0M1173.7 2055.2h0M1174.5 1995.3h0M1175.3 1954.2h0M1176.0 2000.0h0M1176.8 1968.5h0M1178.4 2044.4h0M1179.2 2009.6h0M1179.9 2021.1h0M1180.7 1997.0h0M1181.5 1948.5h0M1183.1 1965.0h0M1183.8 2088.9h0M1184.6 2072.0h0M1185.4 2008.9h0M1189.3 2040.0h0M1190.9 2053.2h0M1191.6 1993.4h0M1192.4 2022.6h0M1193.2 2091.7h0M1194.0 1963.5h0M1194.8 2131.3h0M1195.5 1960.3h0M1196.3 2099.8h0M1197.1 1995.1h0M1197.9 2023.5h0M1198.7 2035.0h0M1200.2 2080.5h0M1201.0 2052.9h0M1201.8 2098.7h0M1202.6 2105.4h0M1203.3 1993.5h0M1204.1 2047.9h0M1204.9 2034.7h0M1205.7 2069.7h0M1207.2 2159.5h0M1208.0 2055.7h0M1208.8 1982.1h0M1209.6 1964.1h0M1210.4 2031.9h0M1211.2 2071.2h0M1211.9 2001.7h0M1212.7 2103.7h0M1213.5 2127.5h0M1214.3 2049.5h0M1217.4 2079.9h0M1218.2 2099.1h0M1219.0 2054.7h0M1219.7 2092.0h0M1220.5 2030.4h0M1221.3 1960.2h0M1222.1 2135.2h0M1222.9 2013.9h0M1223.6 2064.2h0M1224.4 2006.2h0M1225.2 2070.7h0M1226.0 1962.6h0M1226.8 2056.7h0M1227.5 2133.8h0M1228.3 2099.6h0M1229.1 2127.4h0M1229.9 2028.3h0M1230.7 2056.5h0M1231.4 2022.6h0M1232.2 2033.1h0M1233.0 2081.0h0M1234.6 2100.8h0M1235.3 2163.3h0M1236.9 2002.4h0M1237.7 2123.1h0M1238.5 2115.8h0M1239.2 2083.1h0M1240.0 2068.4h0M1240.8 2051.3h0M1241.6 1984.6h0M1242.4 2176.8h0M1243.1 2099.4h0M1243.9 2018.5h0M1244.7 2094.3h0M1245.5 2149.0h0M1246.3 2065.8h0M1247.0 2052.5h0M1247.8 2116.3h0M1248.6 2079.2h0M1250.2 1998.3h0M1251.0 2033.0h0M1251.7 2127.5h0M1252.5 2046.0h0M1254.1 2083.1h0M1254.9 2105.7h0M1255.6 2062.0h0M1256.4 1980.6h0M1257.2 2145.0h0M1258.0 2015.7h0M1258.8 1979.9h0M1259.5 2074.5h0M1260.3 2040.5h0M1261.1 2075.7h0M1261.9 2111.6h0M1262.7 2106.0h0M1263.4 2021.6h0M1264.2 2159.6h0M1265.8 2051.9h0M1266.6 2094.0h0M1267.3 2163.9h0M1268.1 1974.6h0M1269.7 2020.5h0M1270.5 2117.8h0M1271.2 2069.9h0M1274.4 2056.3h0M1275.1 2023.7h0M1275.9 2071.0h0M1276.7 2118.2h0M1278.3 2056.5h0M1279.0 2036.2h0M1279.8 2085.2h0M1280.6 2144.6h0M1281.4 1979.4h0M1282.2 2063.1h0M1282.9 1975.0h0M1283.7 2070.9h0M1284.5 2102.1h0M1285.3 2042.6h0M1286.1 2016.7h0M1286.8 2087.0h0M1287.6 2020.4h0M1288.4 2067.8h0M1289.2 1995.8h0M1290.8 2039.1h0M1291.5 2013.3h0M1292.3 2079.7h0M1293.1 2093.8h0M1293.9 1967.2h0M1295.4 2040.4h0M1296.2 2063.2h0M1297.8 2047.8h0M1298.6 2029.2h0M1300.1 1992.7h0M1300.9 2038.5h0M1301.7 2086.6h0M1302.5 2006.3h0M1303.2 1963.2h0M1304.8 1992.5h0M1305.6 2050.5h0M1306.4 2081.7h0M1307.1 2044.4h0M1307.9 2020.2h0M1308.7 1949.6h0M1310.3 2010.2h0M1311.0 1964.9h0M1312.6 2023.1h0M1313.4 2046.4h0M1314.2 1979.7h0M1314.9 2010.4h0M1315.7 1938.8h0M1316.5 2058.3h0M1318.1 1995.2h0M1320.4 1963.0h0M1321.2 2030.5h0M1322.7 2017.8h0M1323.5 2040.3h0M1324.3 1995.7h0M1325.1 1997.1h0M1325.9 1965.4h0M1326.6 1924.0h0M1327.4 1968.4h0M1328.2 1964.4h0M1329.0 1938.7h0M1329.8 1996.0h0M1330.6 1982.1h0M1331.3 2029.3h0M1333.7 2041.8h0M1334.5 2006.4h0M1335.2 1972.8h0M1336.0 1971.2h0M1336.8 2051.8h0M1337.6 2005.1h0M1338.4 1954.6h0M1339.1 1975.0h0M1339.9 1994.4h0M1340.7 2019.4h0M1342.3 1919.8h0M1343.0 1969.6h0M1343.8 1960.0h0M1344.6 2049.9h0M1345.4 2007.6h0M1346.9 1901.5h0M1347.7 1978.9h0M1348.5 2013.7h0M1349.3 1941.0h0M1350.1 2055.4h0M1350.8 1932.8h0M1351.6 1961.1h0M1353.2 1951.4h0M1354.0 1973.9h0M1354.7 1992.3h0M1355.5 2006.0h0M1356.3 1916.0h0M1357.1 1942.9h0M1357.9 1992.2h0M1358.6 1920.6h0M1359.4 2051.0h0M1361.0 1982.3h0M1361.8 1972.2h0M1362.5 1884.6h0M1363.3 2016.2h0M1364.1 1944.3h0M1364.9 1987.0h0M1365.7 1901.7h0M1367.2 1940.9h0M1368.8 1970.1h0M1369.6 2006.2h0M1370.4 2017.6h0M1371.1 2038.8h0M1371.9 1967.5h0M1372.7 1912.5h0M1373.5 2077.2h0M1374.3 1980.8h0M1375.8 1939.3h0M1377.4 1958.0h0M1378.2 1996.6h0M1378.9 2017.6h0M1379.7 2080.4h0M1381.3 1932.1h0M1382.1 1956.9h0M1382.8 2010.5h0M1385.2 2014.9h0M1386.0 1909.7h0M1387.5 1985.3h0M1388.3 1961.9h0M1389.9 2002.8h0M1390.6 1968.8h0M1391.4 1941.9h0M1392.2 1951.9h0M1393.0 2017.2h0M1393.8 2075.8h0M1394.5 1893.8h0M1395.3 1847.6h0M1396.9 2050.7h0M1397.7 1997.5h0M1398.4 1833.0h0M1400.0 1980.1h0M1400.8 1964.6h0M1402.3 1903.1h0M1403.1 1944.4h0M1403.9 1912.0h0M1407.0 1991.4h0M1407.8 1885.0h0M1408.6 1848.1h0M1409.4 2019.4h0M1410.2 1978.9h0M1410.9 1931.2h0M1411.7 1943.1h0M1412.5 1916.9h0M1413.3 2036.9h0M1414.1 1861.4h0M1414.8 1949.2h0M1415.6 1918.9h0M1416.4 1970.9h0M1417.2 1990.2h0M1418.0 1929.0h0M1418.7 1899.4h0M1419.5 1978.2h0M1420.3 1921.1h0M1421.1 2027.0h0M1421.9 1891.6h0M1422.6 1880.3h0M1423.4 1955.0h0M1424.2 1930.6h0M1425.0 1961.7h0M1425.8 1959.9h0M1426.5 1937.3h0M1427.3 1973.4h0M1428.1 1942.5h0M1428.9 1914.9h0M1429.7 1887.7h0M1430.4 1860.2h0M1432.8 1994.0h0M1433.6 1984.0h0M1435.1 1903.4h0M1435.9 1960.9h0M1436.7 1970.3h0M1437.5 1925.2h0M1439.0 1953.3h0M1439.8 1895.6h0M1440.6 2046.7h0M1441.4 1867.9h0M1442.9 1922.7h0M1443.7 2011.3h0M1444.5 1959.1h0M1445.3 1989.5h0M1446.0 1945.2h0M1446.8 2072.3h0M1447.6 1985.2h0M1448.4 1912.2h0M1449.2 1980.0h0M1450.0 1948.8h0M1450.7 1939.4h0M1451.5 1967.4h0M1452.3 2027.0h0M1453.1 2008.1h0M1453.9 2043.6h0M1454.6 1978.3h0M1455.4 2033.9h0M1456.2 2016.1h0M1457.0 1992.1h0M1457.8 1970.6h0M1458.5 1909.2h0M1459.3 1940.3h0M1460.9 2070.7h0M1461.7 2017.7h0M1464.0 1987.3h0M1464.8 1930.2h0M1465.6 1965.8h0M1466.3 1960.3h0M1467.1 2001.3h0M1467.9 2073.0h0M1468.7 2044.9h0M1469.5 2008.5h0M1470.2 2026.3h0M1471.0 1972.3h0M1471.8 2001.8h0M1472.6 1940.4h0M1473.4 2068.0h0M1474.1 2050.6h0M1474.9 1957.5h0M1475.7 1971.5h0M1476.5 1941.0h0M1477.3 2006.6h0M1478.0 2076.0h0M1478.8 2037.5h0M1479.6 2019.9h0M1480.4 1990.1h0M1481.2 2028.8h0M1481.9 1954.0h0M1482.7 2051.4h0M1485.1 2075.0h0M1485.8 2004.4h0M1486.6 2028.3h0M1489.0 2052.4h0M1489.8 1983.1h0M1490.5 2027.1h0M1491.3 2082.5h0M1492.1 2008.1h0M1492.9 2043.5h0M1493.7 2063.4h0M1494.4 1980.5h0M1495.2 2029.1h0M1496.0 2006.0h0M1497.6 2108.9h0M1498.3 2101.5h0M1499.1 2067.5h0M1499.9 2142.4h0M1500.7 2000.7h0M1501.5 2074.8h0M1502.2 1998.5h0M1503.8 2039.0h0M1504.6 2058.5h0M1505.4 1984.2h0M1506.1 2102.5h0M1506.9 2073.2h0M1507.7 2128.0h0M1508.5 2051.5h0M1510.0 2078.6h0M1510.8 2096.5h0M1511.6 2041.6h0M1512.4 2107.5h0M1513.2 2089.0h0M1513.9 2080.5h0M1514.7 2176.7h0M1515.5 2119.5h0M1516.3 2018.0h0M1517.1 2042.6h0M1517.8 2059.3h0M1518.6 2067.1h0M1519.4 2082.1h0M1521.0 2121.6h0M1522.5 2102.0h0M1523.3 2180.3h0M1524.1 2115.2h0M1524.9 2031.6h0M1526.4 2049.4h0M1528.8 2051.8h0M1529.6 2081.9h0M1530.3 2123.8h0M1531.1 2188.1h0M1531.9 2013.9h0M1533.5 2131.6h0M1534.2 2104.4h0M1535.0 2071.7h0M1535.8 1999.5h0M1536.6 2056.3h0M1538.1 2130.4h0M1538.9 2087.9h0M1539.7 2154.6h0M1541.3 2060.9h0M1542.0 2108.4h0M1542.8 2097.7h0M1543.6 2132.1h0M1544.4 2009.0h0M1545.9 2093.8h0M1549.1 2048.6h0M1549.8 2166.6h0M1550.6 2111.8h0M1551.4 2086.1h0M1552.2 2064.5h0M1553.0 2090.2h0M1553.7 2041.4h0M1554.5 2020.6h0M1555.3 2150.2h0M1556.1 2115.0h0M1556.9 2105.9h0M1557.6 2138.3h0M1558.4 2077.3h0M1559.2 2053.2h0M1560.0 2076.3h0M1560.8 2136.9h0M1561.5 2105.0h0M1562.3 2089.6h0M1563.9 2109.1h0M1564.7 2163.3h0M1565.5 2046.6h0M1566.2 2040.8h0M1567.0 2066.8h0M1567.8 2107.9h0M1570.1 2134.8h0M1570.9 2147.6h0M1571.7 2084.2h0M1572.5 2104.1h0M1573.3 2088.7h0M1574.0 2077.7h0M1574.8 2101.1h0M1575.6 2119.5h0M1576.4 2089.8h0M1577.2 2053.7h0M1577.9 2111.8h0M1578.7 2148.2h0M1579.5 2037.6h0M1580.3 2057.7h0M1581.8 2120.0h0M1582.6 2033.9h0M1583.4 2073.0h0M1584.2 2094.6h0M1585.0 2140.0h0M1585.7 2063.5h0M1586.5 2083.9h0M1587.3 2136.7h0M1588.1 2008.0h0M1588.9 2067.8h0M1593.5 2090.9h0M1595.1 2067.5h0M1595.9 2036.3h0M1597.4 2017.6h0M1598.2 2044.8h0M1599.0 1978.1h0M1599.8 2068.6h0M1600.6 2004.2h0M1601.3 2097.8h0M1602.1 2022.8h0M1602.9 2006.4h0M1603.7 2046.4h0M1604.5 2026.3h0M1606.0 1987.5h0M1606.8 1970.1h0M1608.4 2062.3h0M1609.2 2035.8h0M1610.7 2006.1h0M1611.5 1989.0h0M1612.3 2024.3h0M1614.6 2077.3h0M1616.2 1987.7h0M1617.0 2023.8h0M1617.7 1962.3h0M1618.5 2002.7h0M1619.3 2046.8h0M1620.1 2010.4h0M1620.9 1920.1h0M1621.6 2061.5h0M1622.4 2027.3h0M1623.2 1987.5h0M1624.0 2067.2h0M1624.8 2042.2h0M1625.5 1956.8h0M1626.3 1992.7h0M1627.1 2014.0h0M1627.9 1968.3h0M1628.7 2048.6h0M1629.4 1981.7h0M1630.2 1993.6h0M1631.0 2024.3h0M1631.8 2055.7h0M1632.6 1962.2h0M1633.3 1946.9h0M1634.9 2013.1h0M1635.7 2038.1h0M1636.5 1980.2h0M1637.2 2073.6h0M1638.0 2024.0h0M1638.8 2004.2h0M1639.6 2011.4h0M1640.4 1955.7h0M1641.1 1975.7h0M1641.9 2063.9h0M1642.7 2016.4h0M1643.5 1940.5h0M1644.3 2039.7h0M1645.1 2006.1h0M1645.8 1992.5h0M1646.6 1978.1h0M1647.4 2025.8h0M1648.2 2058.3h0M1649.0 1979.3h0M1650.5 2026.3h0M1651.3 2011.7h0M1652.1 1965.8h0M1652.9 1924.3h0M1653.6 1992.3h0M1655.2 2029.7h0M1657.5 2049.9h0M1658.3 2028.4h0M1659.1 1887.0h0M1659.9 2015.4h0M1660.7 1963.5h0M1661.4 1946.1h0M1663.8 1986.5h0M1664.6 1974.1h0M1665.3 2027.1h0M1666.1 1945.7h0M1666.9 2005.5h0M1667.7 1896.7h0M1668.5 1967.7h0M1669.2 1982.6h0M1670.8 2048.7h0M1671.6 1904.8h0M1672.4 1978.7h0M1673.1 1929.8h0M1673.9 2054.9h0M1675.5 1995.5h0M1676.3 1903.5h0M1677.0 1941.0h0M1678.6 1846.7h0M1679.4 2012.5h0M1680.2 1904.9h0M1680.9 1938.2h0M1681.7 1972.6h0M1682.5 1918.8h0M1684.1 2012.3h0M1684.9 1956.5h0M1685.6 1852.9h0M1686.4 2067.8h0M1688.8 1815.1h0M1689.5 1984.7h0M1690.3 2077.1h0M1691.1 2014.2h0M1691.9 1923.2h0M1693.4 1940.7h0M1694.2 1960.2h0M1695.0 1902.1h0M1695.8 1957.5h0M1696.6 1926.2h0M1697.3 2047.8h0M1698.1 1977.3h0M1698.9 2014.5h0M1699.7 1817.9h0M1700.5 1894.6h0M1701.2 1937.4h0M1702.0 2063.4h0M1702.8 1895.8h0M1703.6 1962.3h0M1704.4 1919.4h0M1705.1 1991.1h0M1705.9 2024.6h0M1706.7 1952.7h0M1707.5 1876.1h0M1708.3 1979.6h0M1709.0 1919.1h0M1709.8 1960.8h0M1710.6 2014.5h0M1711.4 1948.9h0M1712.9 1889.3h0M1714.5 2048.4h0M1715.3 1918.8h0M1716.1 1941.6h0M1718.4 1950.8h0M1719.2 2025.7h0M1720.0 1978.0h0M1720.7 2076.6h0M1722.3 1916.6h0M1723.1 2008.4h0M1723.9 1884.8h0M1724.7 2001.1h0M1725.4 1894.1h0M1726.2 1983.0h0M1727.0 1968.1h0M1727.8 1936.8h0M1728.6 1947.8h0M1729.3 2066.7h0M1730.1 2037.9h0M1730.9 2129.4h0M1731.7 2045.1h0M1733.2 1929.1h0M1734.0 1999.1h0M1734.8 1969.8h0M1735.6 1906.8h0M1736.4 2011.3h0M1737.1 2038.8h0M1737.9 1927.0h0M1738.7 1998.7h0M1739.5 2027.1h0M1740.3 2055.1h0M1741.0 1963.0h0M1741.8 2078.8h0M1743.4 2102.4h0M1744.2 1999.4h0M1744.9 2047.0h0M1746.5 1984.2h0M1747.3 2011.8h0M1748.1 1936.4h0M1748.8 2068.5h0M1749.6 2104.7h0M1750.4 2079.5h0M1751.2 2029.4h0M1752.0 2063.7h0M1753.5 2016.0h0M1754.3 1968.0h0M1755.1 2063.7h0M1756.6 2111.9h0M1757.4 2098.9h0M1759.0 2038.5h0M1759.8 2021.2h0M1763.7 2097.0h0M1764.5 2053.8h0M1765.2 2109.5h0M1766.0 1981.0h0M1766.8 2088.2h0M1767.6 2039.9h0M1769.1 2178.2h0M1769.9 2053.2h0M1770.7 2102.2h0M1771.5 2057.6h0M1772.3 2022.0h0M1773.0 2078.5h0M1773.8 2152.3h0M1775.4 2120.7h0M1776.2 2063.0h0M1776.9 2196.6h0M1777.7 2137.1h0M1778.5 2087.2h0M1779.3 2021.9h0M1780.1 2077.3h0M1780.8 2150.1h0M1781.6 2109.1h0M1782.4 2179.0h0M1783.2 2048.9h0M1784.7 2125.0h0M1785.5 2055.1h0M1786.3 2174.9h0M1787.1 2115.5h0M1787.9 2151.9h0M1789.4 2083.9h0M1790.2 2105.8h0M1791.0 2041.7h0M1791.8 2152.8h0M1792.5 2132.1h0M1793.3 2082.3h0M1794.1 2210.2h0M1796.4 2067.5h0M1797.2 1994.1h0M1798.0 2100.3h0M1798.8 2109.8h0M1799.6 2161.7h0M1800.3 2119.6h0M1801.1 2092.9h0M1801.9 2194.2h0M1803.5 2043.5h0M1804.3 2132.0h0M1805.0 2038.0h0M1805.8 2087.0h0M1806.6 2188.1h0M1807.4 2155.3h0M1808.2 2063.9h0M1808.9 2113.7h0M1809.7 2074.8h0M1810.5 2099.5h0M1811.3 2005.1h0M1812.8 2123.7h0M1813.6 2031.4h0M1814.4 2103.3h0M1815.2 2126.5h0M1816.0 2099.6h0M1816.7 2053.3h0M1817.5 2191.7h0M1819.1 2145.9h0M1819.9 2072.0h0M1822.2 2048.4h0M1823.0 2036.7h0M1823.8 2149.8h0M1824.5 2166.7h0M1825.3 2106.8h0M1826.1 2071.4h0M1826.9 2132.7h0M1827.7 2091.7h0M1828.4 2055.0h0M1829.2 2107.4h0M1830.0 2017.1h0M1830.8 2124.5h0M1831.6 2153.4h0M1832.3 2087.4h0M1833.1 2186.0h0M1834.7 2104.3h0M1835.5 2067.2h0M1837.0 2112.5h0M1837.8 2136.2h0M1838.6 2091.9h0M1839.4 2035.3h0M1840.2 2182.2h0M1840.9 2108.9h0M1841.7 2149.7h0M1842.5 2103.6h0M1843.3 2063.9h0M1844.1 2159.3h0M1844.8 2076.0h0M1845.6 2145.2h0M1846.4 2128.9h0M1847.2 2117.1h0M1848.0 2104.3h0M1848.7 2101.5h0M1849.5 2106.4h0M1850.3 2139.1h0M260.5 1763.5h0M265.2 1764.2h0M511.1 1765.1h0M486.7 1835.6h0M306.8 1851.3h0M531.5 1853.4h0M265.2 1876.3h0M537.1 1876.3h0M290.2 1891.4h0M306.5 1890.4h0M284.6 1897.6h0M257.3 1902.9h0M268.3 1905.4h0M302.1 1915.2h0M283.3 1922.7h0M279.3 1928.6h0M325.6 1927.1h0M348.2 1923.9h0M369.5 1926.4h0M299.6 1941.2h0M298.1 1957.1h0M504.2 1879.4h0M509.5 1885.7h0M500.1 1898.2h0M519.9 1905.1h0M496.1 1909.2h0M534.6 1897.6h0M541.8 1903.6h0M501.1 1921.7h0M515.8 1929.6h0M531.5 1935.8h0M533.0 1922.7h0M526.8 1915.5h0M478.5 1928.0h0M484.8 1935.8h0M680.9 1987.2h0M681.8 2007.9h0M671.5 2014.2h0M652.1 2023.6h0M667.7 2043.9h0M700.6 2047.1h0M708.5 2054.9h0M262.0 2152.9h0M266.1 2123.8h0M286.5 2111.9h0M287.7 2123.8h0M296.5 2130.1h0M305.3 2133.8h0M314.3 2126.9h0M263.6 2064.9h0M266.7 2080.6h0M277.7 2081.5h0M269.2 2087.8h0M321.6 2209.0h0M334.7 2225.3h0M333.5 2174.9h0M329.4 2160.8h0M338.2 2159.8h0M329.4 2150.4h0M338.8 2150.4h0M364.8 2176.1h0M382.6 2229.4h0M370.1 2205.9h0M375.7 2202.1h0M382.6 2191.2h0M390.5 2186.5h0M398.3 2185.8h0M407.7 2186.5h0M412.4 2203.7h0M407.7 2199.0h0M423.4 2186.5h0M431.2 2192.1h0M423.4 2199.0h0M407.7 2263.2h0M422.4 2242.9h0M426.5 2237.2h0M446.6 2215.3h0M454.7 2209.3h0M457.2 2227.2h0M457.2 2231.9h0M450.9 2179.3h0M450.9 2167.7h0M457.8 2161.4h0M544.0 2183.3h0M546.5 2156.7h0M532.4 2144.2h0M535.2 2120.7h0M536.2 2115.0h0M545.5 2107.5h0M513.6 2105.0h0M517.4 2098.1h0M523.6 2090.0h0M539.3 2084.6h0M540.2 2073.7h0M540.8 2057.4h0M541.8 2025.7h0M701.6 2376.0h0M689.7 2286.7h0M700.9 2285.5h0M678.7 2262.3h0M690.6 2263.8h0M683.4 2246.3h0M705.3 2239.7h0M666.8 2238.2h0M657.4 2223.4h0M663.0 2218.7h0M678.7 2222.5h0M686.5 2222.5h0M693.7 2223.1h0M672.4 2203.7h0M664.6 2188.7h0M652.7 2054.9h0M652.7 2062.7h0M675.6 2062.1h0M676.2 2081.5h0M659.9 2079.9h0M666.2 2078.4h0M837.8 1816.8h0M848.8 1827.8h0M841.0 1832.5h0M1066.5 1853.8h0M1163.7 1846.6h0M1118.9 1870.0h0M842.5 1882.6h0M841.0 1887.9h0M877.9 1880.1h0M877.3 1891.0h0M893.9 1887.3h0M802.8 1896.1h0M805.9 1905.1h0M803.4 1915.5h0M814.3 1920.2h0M809.6 1928.0h0M861.3 1906.1h0M850.4 1910.1h0M889.2 1908.9h0M916.5 1914.2h0M933.1 1916.1h0M1086.9 1905.8h0M1106.0 1915.2h0M1057.1 1917.7h0M1068.1 1928.3h0M1088.5 1924.9h0M1085.3 1941.2h0M1035.2 1928.9h0M1143.3 1917.7h0M1171.5 1908.6h0M1159.0 1926.4h0M931.8 1939.0h0M926.2 1947.4h0M1030.5 1959.0h0M1052.4 1965.0h0M1065.0 1960.0h0M787.1 1959.3h0M958.5 2187.1h0M967.9 2194.9h0M977.3 2199.0h0M986.7 2203.7h0M990.7 2205.3h0M956.3 2202.1h0M970.1 2211.5h0M983.5 2214.7h0M951.6 2218.7h0M947.5 2232.5h0M997.6 2230.3h0M988.8 2241.3h0M1002.3 2246.0h0M974.1 2249.7h0M751.7 2296.7h0M816.5 2153.3h0M832.2 2167.0h0M847.2 2144.2h0M851.9 2141.7h0M785.2 2130.1h0M824.7 2122.2h0M834.1 2116.0h0M862.0 2110.3h0M877.0 2096.2h0M890.5 2101.9h0M892.7 2130.7h0M900.5 2130.1h0M906.8 2168.3h0M920.9 2171.7h0M940.6 2167.7h0M942.8 2158.3h0M1028.3 2175.5h0M1050.9 2178.6h0M1014.8 2175.5h0M1036.8 2148.9h0M1043.7 2146.7h0M1069.7 2144.2h0M1072.8 2114.4h0M1083.8 2108.1h0M1096.3 2120.0h0M1102.6 2113.8h0M1137.0 2133.2h0M1144.9 2128.5h0M1154.9 2089.3h0M1172.4 2116.3h0M1425.7 1790.2h0M1395.9 1836.2h0M1427.3 1837.8h0M1429.4 1847.5h0M1349.6 1851.9h0M1366.8 1880.4h0M1407.5 1851.9h0M1399.7 1861.3h0M1401.3 1870.0h0M1176.6 1913.9h0M1182.9 1922.7h0M1198.6 1923.3h0M1533.8 1905.4h0M1485.8 1919.5h0M1462.7 1903.6h0M1507.8 1948.1h0M1493.7 1957.8h0M1537.5 1975.6h0M1564.5 1978.1h0M1640.9 1920.8h0M1620.9 1923.3h0M1604.3 1927.4h0M1609.0 1937.4h0M1616.8 1945.2h0M1180.7 2211.5h0M1200.8 2217.8h0M1256.5 2194.9h0M1254.3 2180.2h0M1230.8 2176.4h0M1237.7 2176.4h0M1178.2 2173.9h0M1192.3 2171.7h0M1189.2 2159.8h0M1203.9 2151.1h0M1220.8 2156.1h0M1237.7 2153.6h0M1242.4 2148.9h0M1259.6 2158.3h0M1261.2 2148.2h0M1304.1 2158.3h0M1292.5 2140.4h0M1329.2 2126.0h0M1348.0 2121.6h0M1393.4 2075.9h0M1432.0 2095.6h0M1428.2 2054.3h0M1442.9 2073.7h0M1458.6 2076.8h0M1489.3 2132.6h0M1500.3 2213.4h0M1521.9 2210.6h0M1527.5 2193.7h0M1532.8 2195.9h0M1504.0 2178.6h0M1504.6 2185.8h0M1525.9 2176.1h0M1529.1 2166.7h0M1535.3 2162.3h0M1549.4 2160.5h0M1558.8 2159.8h0M1557.3 2176.4h0M1563.5 2177.1h0M1568.9 2168.6h0M1571.4 2153.6h0M1594.9 2148.2h0M1585.5 2139.5h0M1645.0 2150.4h0M1195.4 2134.8h0M1708.0 1836.5h0M1669.4 1848.1h0M1700.1 1851.3h0M1684.5 1859.1h0M1702.3 1860.6h0M1685.7 1871.0h0M1674.1 1882.0h0M1725.8 1876.3h0M1728.3 1885.7h0M1713.3 1878.5h0M1660.7 1897.3h0M1744.0 1905.8h0M1758.7 1919.2h0M1759.3 1931.8h0M1740.9 1942.1h0M1833.0 1939.9h0M1825.4 1955.3h0M1843.3 1964.0h0M1812.6 1999.1h0M1851.8 1999.4h0M1829.2 2017.3h0M1770.6 2014.2h0M1791.0 2028.9h0M1781.6 2030.8h0M1657.5 2129.1h0M1653.8 2105.0h0M1732.7 2124.7h0M1780.0 2194.6h0M1788.5 2213.7h0M1774.4 2220.0h0M1778.4 2239.7h0M1822.9 2224.1h0M1832.3 2217.8h0M1840.8 2210.9h0M1848.6 2235.0h0M1842.4 2177.1h0M1840.2 2161.4h0M1848.0 2157.6h0M1775.9 2176.4h0M1807.3 2183.3h0M1822.9 2169.2h0" stroke="#00f" stroke-width="13" stroke-linecap="round" fill="none"/>
<path d="M259.1 1987.2L261.7 1986.4L264.4 1985.7L267.0 1985.2L269.7 1984.8L272.4 1984.6L275.0 1984.6L277.7 1984.7L280.3 1985.1L283.0 1985.6L285.6 1986.3L288.3 1987.2L291.0 1988.3L293.6 1989.7L296.3 1991.2L298.9 1993.0L301.6 1995.0L304.2 1997.2L306.9 1999.6L309.6 2002.2L312.2 2005.0L314.9 2008.1L317.5 2011.3L320.2 2014.6L322.9 2018.2L325.5 2021.9L328.2 2025.7L330.8 2029.7L333.5 2033.7L336.1 2037.8L338.8 2042.0L341.5 2046.3L344.1 2050.5L346.8 2054.8L349.4 2059.1L352.1 2063.3L354.7 2067.4L357.4 2071.4L360.1 2075.4L362.7 2079.2L365.4 2082.8L368.0 2086.3L370.7 2089.6L373.3 2092.7L376.0 2095.5L378.7 2098.1L381.3 2100.5L384.0 2102.6L386.6 2104.4L389.3 2106.0L391.9 2107.2L394.6 2108.2L397.3 2108.9L399.9 2109.3L402.6 2109.4L405.2 2109.2L407.9 2108.7L410.6 2108.0L413.2 2107.0L415.9 2105.7L418.5 2104.2L421.2 2102.5L423.8 2100.5L426.5 2098.4L429.2 2096.0L431.8 2093.5L434.5 2090.8L437.1 2088.0L439.8 2085.1L442.4 2082.1L445.1 2079.0L447.8 2075.8L450.4 2072.5L453.1 2069.2L455.7 2065.9L458.4 2062.6L461.0 2059.3L463.7 2056.0L466.4 2052.7L469.0 2049.4L471.7 2046.2L474.3 2043.0L477.0 2039.9L479.7 2036.8L482.3 2033.8L485.0 2030.9L487.6 2028.1L490.3 2025.3L492.9 2022.6L495.6 2020.0L498.3 2017.4L500.9 2015.0L503.6 2012.6L506.2 2010.3L508.9 2008.1L511.5 2005.9L514.2 2003.9L516.9 2001.9L519.5 2000.0L522.2 1998.2L524.8 1996.5L527.5 1994.9L530.1 1993.4L532.8 1991.9L535.5 1990.6L538.1 1989.4L540.8 1988.3L543.4 1987.4L546.1 1986.5L548.8 1985.8L551.4 1985.3L554.1 1984.9L556.7 1984.6L559.4 1984.6L562.0 1984.7L564.7 1985.0L567.4 1985.4L570.0 1986.1L572.7 1987.0L575.3 1988.0L578.0 1989.3L580.6 1990.8L583.3 1992.5L586.0 1994.5L588.6 1996.6L591.3 1999.0L593.9 2001.5L596.6 2004.3L599.2 2007.3L601.9 2010.4L604.6 2013.8L607.2 2017.3L609.9 2020.9L612.5 2024.7L615.2 2028.6L617.9 2032.7L620.5 2036.8L623.2 2041.0L625.8 2045.2L628.5 2049.5L631.1 2053.7L633.8 2058.0L636.5 2062.2L639.1 2066.4L641.8 2070.4L644.4 2074.4L647.1 2078.2L649.7 2081.9L652.4 2085.4L655.1 2088.8L657.7 2091.9L660.4 2094.8L663.0 2097.5L665.7 2099.9L668.3 2102.1L671.0 2104.0L673.7 2105.6L676.3 2107.0L679.0 2108.0L681.6 2108.8L684.3 2109.2L687.0 2109.4L689.6 2109.3L692.3 2108.9L694.9 2108.2L697.6 2107.3L700.2 2106.1L702.9 2104.6L705.6 2102.9L708.2 2101.0L710.9 2098.9L713.5 2096.6L716.2 2094.2L718.8 2091.5L721.5 2088.8L724.2 2085.9L726.8 2082.8L729.5 2079.8L732.1 2076.6L734.8 2073.3L737.4 2070.1L740.1 2066.8L742.8 2063.4L745.4 2060.1L748.1 2056.8L750.7 2053.5L753.4 2050.2L756.1 2047.0L758.7 2043.8L761.4 2040.7L764.0 2037.6L766.7 2034.6L769.3 2031.6L772.0 2028.8L774.7 2026.0L777.3 2023.3L780.0 2020.6L782.6 2018.1L785.3 2015.6L787.9 2013.2L790.6 2010.9L793.3 2008.6L795.9 2006.5L798.6 2004.4L801.2 2002.4L803.9 2000.5L806.5 1998.7L809.2 1996.9L811.9 1995.3L814.5 1993.7L817.2 1992.3L819.8 1991.0L822.5 1989.7L825.2 1988.6L827.8 1987.6L830.5 1986.7L833.1 1986.0L835.8 1985.4L838.4 1985.0L841.1 1984.7L843.8 1984.6L846.4 1984.6L849.1 1984.9L851.7 1985.3L854.4 1985.9L857.0 1986.7L859.7 1987.7L862.4 1989.0L865.0 1990.4L867.7 1992.1L870.3 1994.0L873.0 1996.1L875.6 1998.4L878.3 2000.9L881.0 2003.6L883.6 2006.5L886.3 2009.6L888.9 2012.9L891.6 2016.4L894.3 2020.0L896.9 2023.8L899.6 2027.6L902.2 2031.7L904.9 2035.7L907.5 2039.9L910.2 2044.1L912.9 2048.4L915.5 2052.7L918.2 2056.9L920.8 2061.1L923.5 2065.3L926.1 2069.4L928.8 2073.4L931.5 2077.3L934.1 2081.0L936.8 2084.6L939.4 2088.0L942.1 2091.1L944.7 2094.1L947.4 2096.9L950.1 2099.3L952.7 2101.6L955.4 2103.6L958.0 2105.2L960.7 2106.6L963.4 2107.8L966.0 2108.6L968.7 2109.1L971.3 2109.4L974.0 2109.3L976.6 2109.0L979.3 2108.4L982.0 2107.5L984.6 2106.4L987.3 2105.0L989.9 2103.4L992.6 2101.5L995.2 2099.5L997.9 2097.2L1000.6 2094.8L1003.2 2092.2L1005.9 2089.5L1008.5 2086.6L1011.2 2083.6L1013.8 2080.5L1016.5 2077.4L1019.2 2074.2L1021.8 2070.9L1024.5 2067.6L1027.1 2064.3L1029.8 2060.9L1032.4 2057.6L1035.1 2054.3L1037.8 2051.0L1040.4 2047.8L1043.1 2044.6L1045.7 2041.5L1048.4 2038.4L1051.1 2035.3L1053.7 2032.4L1056.4 2029.5L1059.0 2026.7L1061.7 2023.9L1064.3 2021.3L1067.0 2018.7L1069.7 2016.2L1072.3 2013.8L1075.0 2011.4L1077.6 2009.2L1080.3 2007.0L1082.9 2004.9L1085.6 2002.9L1088.3 2001.0L1090.9 1999.1L1093.6 1997.4L1096.2 1995.7L1098.9 1994.1L1101.5 1992.7L1104.2 1991.3L1106.9 1990.0L1109.5 1988.9L1112.2 1987.8L1114.8 1986.9L1117.5 1986.2L1120.2 1985.5L1122.8 1985.1L1125.5 1984.7L1128.1 1984.6L1130.8 1984.6L1133.4 1984.8L1136.1 1985.2L1138.8 1985.7L1141.4 1986.5L1144.1 1987.5L1146.7 1988.6L1149.4 1990.0L1152.0 1991.6L1154.7 1993.5L1157.4 1995.5L1160.0 1997.8L1162.7 2000.2L1165.3 2002.9L1168.0 2005.8L1170.6 2008.8L1173.3 2012.1L1176.0 2015.5L1178.6 2019.1L1181.3 2022.8L1183.9 2026.7L1186.6 2030.6L1189.3 2034.7L1191.9 2038.9L1194.6 2043.1L1197.2 2047.3L1199.9 2051.6L1202.5 2055.9L1205.2 2060.1L1207.9 2064.3L1210.5 2068.4L1213.2 2072.4L1215.8 2076.3L1218.5 2080.1L1221.1 2083.7L1223.8 2087.1L1226.5 2090.4L1229.1 2093.4L1231.8 2096.2L1234.4 2098.7L1237.1 2101.0L1239.7 2103.1L1242.4 2104.8L1245.1 2106.3L1247.7 2107.5L1250.4 2108.4L1253.0 2109.0L1255.7 2109.3L1258.4 2109.4L1261.0 2109.1L1263.7 2108.6L1266.3 2107.8L1269.0 2106.7L1271.6 2105.4L1274.3 2103.8L1277.0 2102.0L1279.6 2100.0L1282.3 2097.8L1284.9 2095.4L1287.6 2092.9L1290.2 2090.2L1292.9 2087.3L1295.6 2084.4L1298.2 2081.3L1300.9 2078.2L1303.5 2075.0L1306.2 2071.7L1308.8 2068.4L1311.5 2065.1L1314.2 2061.8L1316.8 2058.5L1319.5 2055.1L1322.1 2051.9L1324.8 2048.6L1327.5 2045.4L1330.1 2042.2L1332.8 2039.1L1335.4 2036.1L1338.1 2033.1L1340.7 2030.2L1343.4 2027.4L1346.1 2024.6L1348.7 2021.9L1351.4 2019.3L1354.0 2016.8L1356.7 2014.4L1359.3 2012.0L1362.0 2009.7L1364.7 2007.5L1367.3 2005.4L1370.0 2003.4L1372.6 2001.4L1375.3 1999.6L1377.9 1997.8L1380.6 1996.1L1383.3 1994.5L1385.9 1993.0L1388.6 1991.6L1391.2 1990.3L1393.9 1989.2L1396.6 1988.1L1399.2 1987.2L1401.9 1986.4L1404.5 1985.7L1407.2 1985.2L1409.8 1984.8L1412.5 1984.6L1415.2 1984.6L1417.8 1984.7L1420.5 1985.0L1423.1 1985.6L1425.8 1986.3L1428.4 1987.2L1431.1 1988.3L1433.8 1989.7L1436.4 1991.2L1439.1 1993.0L1441.7 1995.0L1444.4 1997.2L1447.0 1999.6L1449.7 2002.2L1452.4 2005.0L1455.0 2008.0L1457.7 2011.2L1460.3 2014.6L1463.0 2018.2L1465.7 2021.8L1468.3 2025.7L1471.0 2029.6L1473.6 2033.7L1476.3 2037.8L1478.9 2042.0L1481.6 2046.3L1484.3 2050.5L1486.9 2054.8L1489.6 2059.0L1492.2 2063.2L1494.9 2067.4L1497.5 2071.4L1500.2 2075.3L1502.9 2079.1L1505.5 2082.8L1508.2 2086.3L1510.8 2089.6L1513.5 2092.6L1516.1 2095.5L1518.8 2098.1L1521.5 2100.5L1524.1 2102.6L1526.8 2104.4L1529.4 2106.0L1532.1 2107.2L1534.8 2108.2L1537.4 2108.9L1540.1 2109.3L1542.7 2109.4L1545.4 2109.2L1548.0 2108.7L1550.7 2108.0L1553.4 2107.0L1556.0 2105.7L1558.7 2104.2L1561.3 2102.5L1564.0 2100.5L1566.6 2098.4L1569.3 2096.0L1572.0 2093.5L1574.6 2090.9L1577.3 2088.1L1579.9 2085.1L1582.6 2082.1L1585.2 2079.0L1587.9 2075.8L1590.6 2072.5L1593.2 2069.3L1595.9 2065.9L1598.5 2062.6L1601.2 2059.3L1603.9 2056.0L1606.5 2052.7L1609.2 2049.4L1611.8 2046.2L1614.5 2043.0L1617.1 2039.9L1619.8 2036.9L1622.5 2033.9L1625.1 2030.9L1627.8 2028.1L1630.4 2025.3L1633.1 2022.6L1635.7 2020.0L1638.4 2017.4L1641.1 2015.0L1643.7 2012.6L1646.4 2010.3L1649.0 2008.1L1651.7 2005.9L1654.3 2003.9L1657.0 2001.9L1659.7 2000.0L1662.3 1998.2L1665.0 1996.5L1667.6 1994.9L1670.3 1993.4L1672.9 1992.0L1675.6 1990.6L1678.3 1989.4L1680.9 1988.3L1683.6 1987.4L1686.2 1986.5L1688.9 1985.8L1691.6 1985.3L1694.2 1984.9L1696.9 1984.6L1699.5 1984.6L1702.2 1984.7L1704.8 1984.9L1707.5 1985.4L1710.2 1986.1L1712.8 1987.0L1715.5 1988.0L1718.1 1989.3L1720.8 1990.8L1723.4 1992.5L1726.1 1994.5L1728.8 1996.6L1731.4 1999.0L1734.1 2001.5L1736.7 2004.3L1739.4 2007.3L1742.0 2010.4L1744.7 2013.7L1747.4 2017.3L1750.0 2020.9L1752.7 2024.7L1755.3 2028.6L1758.0 2032.6L1760.7 2036.8L1763.3 2040.9L1766.0 2045.2L1768.6 2049.4L1771.3 2053.7L1773.9 2058.0L1776.6 2062.2L1779.3 2066.3L1781.9 2070.4L1784.6 2074.4L1787.2 2078.2L1789.9 2081.9L1792.5 2085.4L1795.2 2088.8L1797.9 2091.9L1800.5 2094.8L1803.2 2097.5L1805.8 2099.9L1808.5 2102.1L1811.1 2104.0L1813.8 2105.6L1816.5 2106.9L1819.1 2108.0L1821.8 2108.8L1824.4 2109.2L1827.1 2109.4L1829.8 2109.3L1832.4 2108.9L1835.1 2108.2L1837.7 2107.3L1840.4 2106.1L1843.0 2104.6L1845.7 2102.9L1848.4 2101.0L1851.0 2098.9" stroke="#f00" stroke-width="7.8" stroke-linejoin="round" stroke-linecap="butt" fill="none"/>
<path d="M289.3 1751.5v-9.9M289.3 2389.0v9.9M360.5 1751.5v-9.9M360.5 2389.0v9.9M431.8 1751.5v-19.3M431.8 2389.0v19.3M503.1 1751.5v-9.9M503.1 2389.0v9.9M574.3 1751.5v-9.9M574.3 2389.0v9.9M645.6 1751.5v-9.9M645.6 2389.0v9.9M716.8 1751.5v-19.3M716.8 2389.0v19.3M788.1 1751.5v-9.9M788.1 2389.0v9.9M859.4 1751.5v-9.9M859.4 2389.0v9.9M930.6 1751.5v-9.9M930.6 2389.0v9.9M1001.9 1751.5v-19.3M1001.9 2389.0v19.3M1073.1 1751.5v-9.9M1073.1 2389.0v9.9M1144.4 1751.5v-9.9M1144.4 2389.0v9.9M1215.7 1751.5v-9.9M1215.7 2389.0v9.9M1286.9 1751.5v-19.3M1286.9 2389.0v19.3M1358.2 1751.5v-9.9M1358.2 2389.0v9.9M1429.4 1751.5v-9.9M1429.4 2389.0v9.9M1500.7 1751.5v-9.9M1500.7 2389.0v9.9M1572.0 1751.5v-19.3M1572.0 2389.0v19.3M1643.2 1751.5v-9.9M1643.2 2389.0v9.9M1714.5 1751.5v-9.9M1714.5 2389.0v9.9M1785.7 1751.5v-9.9M1785.7 2389.0v9.9M1857.0 1751.5v-19.3M1857.0 2389.0v19.3M226.0 1833.0h-19.3M1883.5 1833.0h19.3M226.0 1940.5h-19.3M1883.5 1940.5h19.3M226.0 2048.0h-19.3M1883.5 2048.0h19.3M226.0 2155.5h-19.3M1883.5 2155.5h19.3M226.0 2263.0h-19.3M1883.5 2263.0h19.3M226.0 2370.5h-19.3M1883.5 2370.5h19.3" stroke="#000" stroke-width="2.6" fill="none"/>
<rect x="226.0" y="1751.5" width="1657.5" height="637.5" fill="none" stroke="#000" stroke-width="6.2"/>
</g>
<rect x="226" y="2618.3" width="1657.6" height="152.3" fill="none" stroke="#000" stroke-width="5.8"/>
<g style="filter:grayscale(1)"><text class="b" font-size="57.0" text-anchor="middle" transform="translate(1054.8 102.5) scale(1 1.03)">MCOI - IGS20 - Detrended</text>
<text class="b" font-size="43.0" text-anchor="end" transform="translate(190.6 170.2) scale(1 1.045)">6</text>
<text class="b" font-size="43.0" text-anchor="end" transform="translate(190.6 289.3) scale(1 1.045)">3</text>
<text class="b" font-size="43.0" text-anchor="end" transform="translate(190.6 408.4) scale(1 1.045)">0</text>
<text class="b" font-size="43.0" text-anchor="end" transform="translate(190.6 527.5) scale(1 1.045)">−3</text>
<text class="b" font-size="43.0" text-anchor="end" transform="translate(190.6 646.6) scale(1 1.045)">−6</text>
<text class="b" font-size="43.0" text-anchor="end" transform="translate(190.6 765.7) scale(1 1.045)">−9</text>
<text class="b" font-size="43.0" text-anchor="middle" transform="translate(432.3 822.9) scale(1 1.045)">2015</text>
<text class="b" font-size="43.0" text-anchor="middle" transform="translate(717.3 822.9) scale(1 1.045)">2016</text>
<text class="b" font-size="43.0" text-anchor="middle" transform="translate(1002.4 822.9) scale(1 1.045)">2017</text>
<text class="b" font-size="43.0" text-anchor="middle" transform="translate(1287.4 822.9) scale(1 1.045)">2018</text>
<text class="b" font-size="43.0" text-anchor="middle" transform="translate(1572.5 822.9) scale(1 1.045)">2019</text>
<text class="b" font-size="43.0" text-anchor="middle" transform="translate(1857.5 822.9) scale(1 1.045)">2020</text>
<text font-size="42.5" text-anchor="middle" transform="translate(114.1 437.9) rotate(-90) scale(1 1.045)">East (mm)</text>
<text class="b" font-size="35.5" text-anchor="start" transform="translate(1470.8 158.1) scale(1 1.03)">0.000+/- 0.324 mm/yr</text>
<text class="b" font-size="43.0" text-anchor="end" transform="translate(190.6 1050.0) scale(1 1.045)">4</text>
<text class="b" font-size="43.0" text-anchor="end" transform="translate(190.6 1154.8) scale(1 1.045)">2</text>
<text class="b" font-size="43.0" text-anchor="end" transform="translate(190.6 1259.6) scale(1 1.045)">0</text>
<text class="b" font-size="43.0" text-anchor="end" transform="translate(190.6 1364.4) scale(1 1.045)">−2</text>
<text class="b" font-size="43.0" text-anchor="end" transform="translate(190.6 1469.2) scale(1 1.045)">−4</text>
<text class="b" font-size="43.0" text-anchor="end" transform="translate(190.6 1574.0) scale(1 1.045)">−6</text>
<text class="b" font-size="43.0" text-anchor="middle" transform="translate(432.3 1639.1) scale(1 1.045)">2015</text>
<text class="b" font-size="43.0" text-anchor="middle" transform="translate(717.3 1639.1) scale(1 1.045)">2016</text>
<text class="b" font-size="43.0" text-anchor="middle" transform="translate(1002.4 1639.1) scale(1 1.045)">2017</text>
<text class="b" font-size="43.0" text-anchor="middle" transform="translate(1287.4 1639.1) scale(1 1.045)">2018</text>
<text class="b" font-size="43.0" text-anchor="middle" transform="translate(1572.5 1639.1) scale(1 1.045)">2019</text>
<text class="b" font-size="43.0" text-anchor="middle" transform="translate(1857.5 1639.1) scale(1 1.045)">2020</text>
<text font-size="42.5" text-anchor="middle" transform="translate(114.1 1254.0) rotate(-90) scale(1 1.045)">North (mm)</text>
<text class="b" font-size="35.5" text-anchor="start" transform="translate(1470.8 974.3) scale(1 1.03)">0.000+/- 0.259 mm/yr</text>
<text class="b" font-size="43.0" text-anchor="end" transform="translate(190.6 1848.6) scale(1 1.045)">20</text>
<text class="b" font-size="43.0" text-anchor="end" transform="translate(190.6 1956.1) scale(1 1.045)">10</text>
<text class="b" font-size="43.0" text-anchor="end" transform="translate(190.6 2063.6) scale(1 1.045)">0</text>
<text class="b" font-size="43.0" text-anchor="end" transform="translate(190.6 2171.1) scale(1 1.045)">−10</text>
<text class="b" font-size="43.0" text-anchor="end" transform="translate(190.6 2278.6) scale(1 1.045)">−20</text>
<text class="b" font-size="43.0" text-anchor="end" transform="translate(190.6 2386.1) scale(1 1.045)">−30</text>
<text class="b" font-size="43.0" text-anchor="middle" transform="translate(432.3 2455.3) scale(1 1.045)">2015</text>
<text class="b" font-size="43.0" text-anchor="middle" transform="translate(717.3 2455.3) scale(1 1.045)">2016</text>
<text class="b" font-size="43.0" text-anchor="middle" transform="translate(1002.4 2455.3) scale(1 1.045)">2017</text>
<text class="b" font-size="43.0" text-anchor="middle" transform="translate(1287.4 2455.3) scale(1 1.045)">2018</text>
<text class="b" font-size="43.0" text-anchor="middle" transform="translate(1572.5 2455.3) scale(1 1.045)">2019</text>
<text class="b" font-size="43.0" text-anchor="middle" transform="translate(1857.5 2455.3) scale(1 1.045)">2020</text>
<text font-size="42.5" text-anchor="middle" transform="translate(89.6 2070.2) rotate(-90) scale(1 1.045)">Up (mm)</text>
<text class="b" font-size="35.5" text-anchor="start" transform="translate(1470.8 1790.5) scale(1 1.03)">0.000+/- 1.152 mm/yr</text>
<text font-size="42.5" text-anchor="middle" transform="translate(1053.8 2513.8) scale(1 1.045)">Time (year)</text>
<text class="b" font-size="35.5" text-anchor="middle" transform="translate(1054.2 2667.2) scale(1 1.03)">24 Hour Positions Using Final Orbits (blue) and Rapid Orbits (magenta).</text>
<text class="b" font-size="35.5" text-anchor="middle" transform="translate(1054.2 2707.2) scale(1 1.03)">Processed by the Nevada Geodetic Laboratory.</text>
<text class="b" font-size="35.5" text-anchor="middle" transform="translate(1054.2 2747.3) scale(1 1.03)">Plotted on 2026-Feb-12. Last data on 2019-Dec-25.</text></g>
</svg></body></html>
